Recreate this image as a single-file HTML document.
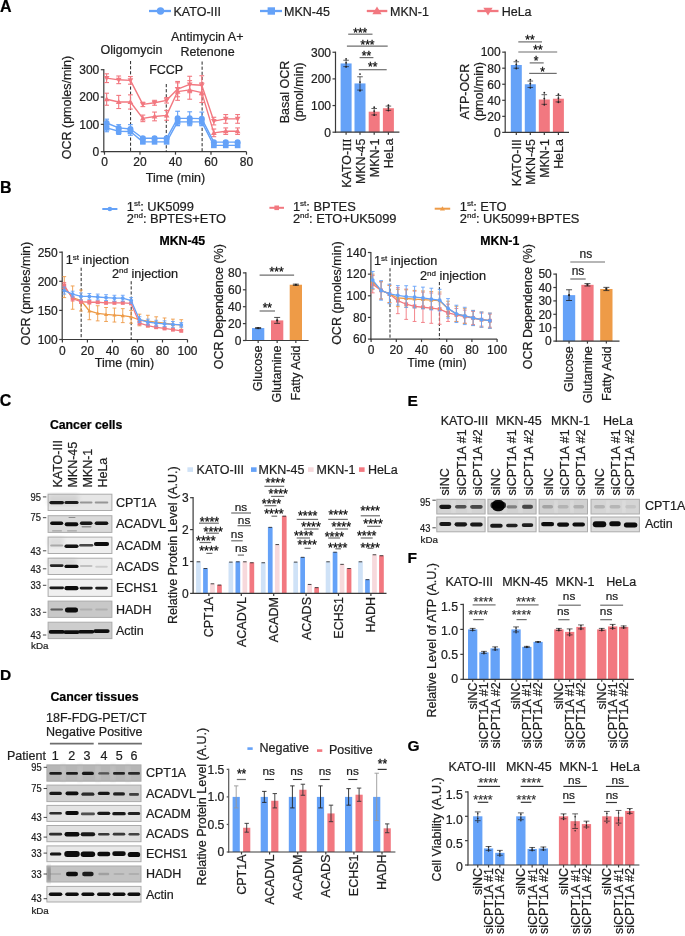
<!DOCTYPE html>
<html><head><meta charset="utf-8"><title>Figure</title>
<style>
html,body{margin:0;padding:0;background:#fff;}
body{width:685px;height:936px;overflow:hidden;}
svg{display:block;will-change:transform;font-family:"Liberation Sans",sans-serif;}
</style></head><body>
<svg width="685" height="936" viewBox="0 0 685 936">
<defs><filter id="bl" x="-30%" y="-150%" width="160%" height="400%"><feGaussianBlur stdDeviation="0.75"/></filter><filter id="bl2" x="-20%" y="-20%" width="140%" height="140%"><feGaussianBlur stdDeviation="2"/></filter></defs>
<rect width="685" height="936" fill="#fff"/>
<text x="0.00" y="12.20" font-size="16" font-weight="bold" fill="#000" stroke="#000" stroke-width="0.22">A</text>
<line x1="149.00" y1="11.00" x2="171.00" y2="11.00" stroke="#65a2f8" stroke-width="2.3"/>
<circle cx="160.50" cy="11.00" r="3.7" fill="#65a2f8"/>
<text x="173.50" y="16.10" font-size="12.5" fill="#1e1e1e" stroke="#1e1e1e" stroke-width="0.22">KATO-III</text>
<line x1="260.00" y1="11.00" x2="282.00" y2="11.00" stroke="#65a2f8" stroke-width="2.3"/>
<rect x="267.60" y="7.30" width="7.40" height="7.40" fill="#65a2f8"/>
<text x="284.00" y="16.10" font-size="12.5" fill="#1e1e1e" stroke="#1e1e1e" stroke-width="0.22">MKN-45</text>
<line x1="366.80" y1="11.00" x2="387.30" y2="11.00" stroke="#f27880" stroke-width="2.3"/>
<path d="M377.00,6.38 L381.62,14.36 L372.38,14.36Z" fill="#f27880"/>
<text x="390.00" y="16.10" font-size="12.5" fill="#1e1e1e" stroke="#1e1e1e" stroke-width="0.22">MKN-1</text>
<line x1="477.30" y1="11.00" x2="498.50" y2="11.00" stroke="#f27880" stroke-width="2.3"/>
<path d="M488.00,15.62 L492.62,7.64 L483.38,7.64Z" fill="#f27880"/>
<text x="501.70" y="16.10" font-size="12.5" fill="#1e1e1e" stroke="#1e1e1e" stroke-width="0.22">HeLa</text>
<line x1="103.80" y1="152.30" x2="103.80" y2="69.11" stroke="#3a3a3a" stroke-width="1.2"/>
<line x1="100.80" y1="151.70" x2="103.80" y2="151.70" stroke="#3a3a3a" stroke-width="1.2"/>
<text x="99.30" y="156.02" font-size="12" text-anchor="end" fill="#1e1e1e" stroke="#1e1e1e" stroke-width="0.22">0</text>
<line x1="100.80" y1="124.37" x2="103.80" y2="124.37" stroke="#3a3a3a" stroke-width="1.2"/>
<text x="99.30" y="128.69" font-size="12" text-anchor="end" fill="#1e1e1e" stroke="#1e1e1e" stroke-width="0.22">100</text>
<line x1="100.80" y1="97.04" x2="103.80" y2="97.04" stroke="#3a3a3a" stroke-width="1.2"/>
<text x="99.30" y="101.36" font-size="12" text-anchor="end" fill="#1e1e1e" stroke="#1e1e1e" stroke-width="0.22">200</text>
<line x1="100.80" y1="69.71" x2="103.80" y2="69.71" stroke="#3a3a3a" stroke-width="1.2"/>
<text x="99.30" y="74.03" font-size="12" text-anchor="end" fill="#1e1e1e" stroke="#1e1e1e" stroke-width="0.22">300</text>
<line x1="103.20" y1="151.70" x2="246.50" y2="151.70" stroke="#3a3a3a" stroke-width="1.2"/>
<line x1="104.50" y1="151.70" x2="104.50" y2="154.70" stroke="#3a3a3a" stroke-width="1.2"/>
<text x="104.50" y="165.50" font-size="12" text-anchor="middle" fill="#1e1e1e" stroke="#1e1e1e" stroke-width="0.22">0</text>
<line x1="140.00" y1="151.70" x2="140.00" y2="154.70" stroke="#3a3a3a" stroke-width="1.2"/>
<text x="140.00" y="165.50" font-size="12" text-anchor="middle" fill="#1e1e1e" stroke="#1e1e1e" stroke-width="0.22">20</text>
<line x1="175.50" y1="151.70" x2="175.50" y2="154.70" stroke="#3a3a3a" stroke-width="1.2"/>
<text x="175.50" y="165.50" font-size="12" text-anchor="middle" fill="#1e1e1e" stroke="#1e1e1e" stroke-width="0.22">40</text>
<line x1="211.00" y1="151.70" x2="211.00" y2="154.70" stroke="#3a3a3a" stroke-width="1.2"/>
<text x="211.00" y="165.50" font-size="12" text-anchor="middle" fill="#1e1e1e" stroke="#1e1e1e" stroke-width="0.22">60</text>
<line x1="246.50" y1="151.70" x2="246.50" y2="154.70" stroke="#3a3a3a" stroke-width="1.2"/>
<text x="246.50" y="165.50" font-size="12" text-anchor="middle" fill="#1e1e1e" stroke="#1e1e1e" stroke-width="0.22">80</text>
<text x="175.50" y="181.80" font-size="12.5" text-anchor="middle" fill="#1e1e1e" stroke="#1e1e1e" stroke-width="0.22">Time (min)</text>
<text transform="translate(71.20,107.50) rotate(-90)" font-size="12.5" text-anchor="middle" fill="#1e1e1e" stroke="#1e1e1e" stroke-width="0.22">OCR (pmoles/min)</text>
<line x1="130.59" y1="61.00" x2="130.59" y2="151.70" stroke="#111" stroke-width="0.9" stroke-dasharray="3.2,1.9"/>
<line x1="166.27" y1="84.00" x2="166.27" y2="151.70" stroke="#111" stroke-width="0.9" stroke-dasharray="3.2,1.9"/>
<line x1="202.12" y1="61.50" x2="202.12" y2="151.70" stroke="#111" stroke-width="0.9" stroke-dasharray="3.2,1.9"/>
<text x="131.50" y="54.20" font-size="12.5" text-anchor="middle" fill="#1e1e1e" stroke="#1e1e1e" stroke-width="0.22">Oligomycin</text>
<text x="166.20" y="74.20" font-size="12.5" text-anchor="middle" fill="#1e1e1e" stroke="#1e1e1e" stroke-width="0.22">FCCP</text>
<text x="207.20" y="41.00" font-size="12.5" text-anchor="middle" fill="#1e1e1e" stroke="#1e1e1e" stroke-width="0.22">Antimycin A+</text>
<text x="207.50" y="56.00" font-size="12.5" text-anchor="middle" fill="#1e1e1e" stroke="#1e1e1e" stroke-width="0.22">Retenone</text>
<line x1="106.63" y1="93.21" x2="106.63" y2="105.24" stroke="#f27880" stroke-width="1.1"/>
<line x1="104.23" y1="93.21" x2="109.03" y2="93.21" stroke="#f27880" stroke-width="1.1"/>
<line x1="104.23" y1="105.24" x2="109.03" y2="105.24" stroke="#f27880" stroke-width="1.1"/>
<line x1="118.70" y1="95.40" x2="118.70" y2="108.52" stroke="#f27880" stroke-width="1.1"/>
<line x1="116.30" y1="95.40" x2="121.10" y2="95.40" stroke="#f27880" stroke-width="1.1"/>
<line x1="116.30" y1="108.52" x2="121.10" y2="108.52" stroke="#f27880" stroke-width="1.1"/>
<line x1="130.41" y1="94.85" x2="130.41" y2="109.07" stroke="#f27880" stroke-width="1.1"/>
<line x1="128.01" y1="94.85" x2="132.81" y2="94.85" stroke="#f27880" stroke-width="1.1"/>
<line x1="128.01" y1="109.07" x2="132.81" y2="109.07" stroke="#f27880" stroke-width="1.1"/>
<line x1="142.84" y1="115.08" x2="142.84" y2="121.64" stroke="#f27880" stroke-width="1.1"/>
<line x1="140.44" y1="115.08" x2="145.24" y2="115.08" stroke="#f27880" stroke-width="1.1"/>
<line x1="140.44" y1="121.64" x2="145.24" y2="121.64" stroke="#f27880" stroke-width="1.1"/>
<line x1="154.56" y1="112.07" x2="154.56" y2="120.82" stroke="#f27880" stroke-width="1.1"/>
<line x1="152.16" y1="112.07" x2="156.96" y2="112.07" stroke="#f27880" stroke-width="1.1"/>
<line x1="152.16" y1="120.82" x2="156.96" y2="120.82" stroke="#f27880" stroke-width="1.1"/>
<line x1="166.62" y1="110.43" x2="166.62" y2="120.27" stroke="#f27880" stroke-width="1.1"/>
<line x1="164.22" y1="110.43" x2="169.03" y2="110.43" stroke="#f27880" stroke-width="1.1"/>
<line x1="164.22" y1="120.27" x2="169.03" y2="120.27" stroke="#f27880" stroke-width="1.1"/>
<line x1="177.63" y1="82.83" x2="177.63" y2="100.32" stroke="#f27880" stroke-width="1.1"/>
<line x1="175.23" y1="82.83" x2="180.03" y2="82.83" stroke="#f27880" stroke-width="1.1"/>
<line x1="175.23" y1="100.32" x2="180.03" y2="100.32" stroke="#f27880" stroke-width="1.1"/>
<line x1="189.70" y1="80.64" x2="189.70" y2="99.23" stroke="#f27880" stroke-width="1.1"/>
<line x1="187.30" y1="80.64" x2="192.10" y2="80.64" stroke="#f27880" stroke-width="1.1"/>
<line x1="187.30" y1="99.23" x2="192.10" y2="99.23" stroke="#f27880" stroke-width="1.1"/>
<line x1="201.77" y1="82.83" x2="201.77" y2="102.51" stroke="#f27880" stroke-width="1.1"/>
<line x1="199.37" y1="82.83" x2="204.17" y2="82.83" stroke="#f27880" stroke-width="1.1"/>
<line x1="199.37" y1="102.51" x2="204.17" y2="102.51" stroke="#f27880" stroke-width="1.1"/>
<line x1="213.84" y1="129.02" x2="213.84" y2="136.67" stroke="#f27880" stroke-width="1.1"/>
<line x1="211.44" y1="129.02" x2="216.24" y2="129.02" stroke="#f27880" stroke-width="1.1"/>
<line x1="211.44" y1="136.67" x2="216.24" y2="136.67" stroke="#f27880" stroke-width="1.1"/>
<line x1="225.73" y1="127.92" x2="225.73" y2="134.48" stroke="#f27880" stroke-width="1.1"/>
<line x1="223.33" y1="127.92" x2="228.13" y2="127.92" stroke="#f27880" stroke-width="1.1"/>
<line x1="223.33" y1="134.48" x2="228.13" y2="134.48" stroke="#f27880" stroke-width="1.1"/>
<line x1="237.62" y1="127.92" x2="237.62" y2="134.48" stroke="#f27880" stroke-width="1.1"/>
<line x1="235.22" y1="127.92" x2="240.03" y2="127.92" stroke="#f27880" stroke-width="1.1"/>
<line x1="235.22" y1="134.48" x2="240.03" y2="134.48" stroke="#f27880" stroke-width="1.1"/>
<polyline points="106.63,99.23 118.70,101.96 130.41,101.96 142.84,118.36 154.56,116.44 166.62,115.35 177.63,91.57 189.70,89.93 201.77,92.67 213.84,132.84 225.73,131.20 237.62,131.20" fill="none" stroke="#f27880" stroke-width="1.4" stroke-linejoin="round"/>
<path d="M106.63,96.37 L109.49,101.31 L103.77,101.31Z" fill="#f27880"/>
<path d="M118.70,99.10 L121.56,104.04 L115.84,104.04Z" fill="#f27880"/>
<path d="M130.41,99.10 L133.28,104.04 L127.55,104.04Z" fill="#f27880"/>
<path d="M142.84,115.50 L145.70,120.44 L139.98,120.44Z" fill="#f27880"/>
<path d="M154.56,113.58 L157.42,118.52 L151.69,118.52Z" fill="#f27880"/>
<path d="M166.62,112.49 L169.49,117.43 L163.76,117.43Z" fill="#f27880"/>
<path d="M177.63,88.71 L180.49,93.65 L174.77,93.65Z" fill="#f27880"/>
<path d="M189.70,87.07 L192.56,92.01 L186.84,92.01Z" fill="#f27880"/>
<path d="M201.77,89.81 L204.63,94.75 L198.91,94.75Z" fill="#f27880"/>
<path d="M213.84,129.98 L216.70,134.92 L210.98,134.92Z" fill="#f27880"/>
<path d="M225.73,128.34 L228.59,133.28 L222.87,133.28Z" fill="#f27880"/>
<path d="M237.62,128.34 L240.49,133.28 L234.76,133.28Z" fill="#f27880"/>
<line x1="106.63" y1="73.81" x2="106.63" y2="82.56" stroke="#f27880" stroke-width="1.1"/>
<line x1="104.23" y1="73.81" x2="109.03" y2="73.81" stroke="#f27880" stroke-width="1.1"/>
<line x1="104.23" y1="82.56" x2="109.03" y2="82.56" stroke="#f27880" stroke-width="1.1"/>
<line x1="118.70" y1="76.00" x2="118.70" y2="83.65" stroke="#f27880" stroke-width="1.1"/>
<line x1="116.30" y1="76.00" x2="121.10" y2="76.00" stroke="#f27880" stroke-width="1.1"/>
<line x1="116.30" y1="83.65" x2="121.10" y2="83.65" stroke="#f27880" stroke-width="1.1"/>
<line x1="130.41" y1="76.54" x2="130.41" y2="84.19" stroke="#f27880" stroke-width="1.1"/>
<line x1="128.01" y1="76.54" x2="132.81" y2="76.54" stroke="#f27880" stroke-width="1.1"/>
<line x1="128.01" y1="84.19" x2="132.81" y2="84.19" stroke="#f27880" stroke-width="1.1"/>
<line x1="142.84" y1="102.23" x2="142.84" y2="106.61" stroke="#f27880" stroke-width="1.1"/>
<line x1="140.44" y1="102.23" x2="145.24" y2="102.23" stroke="#f27880" stroke-width="1.1"/>
<line x1="140.44" y1="106.61" x2="145.24" y2="106.61" stroke="#f27880" stroke-width="1.1"/>
<line x1="154.56" y1="100.32" x2="154.56" y2="105.24" stroke="#f27880" stroke-width="1.1"/>
<line x1="152.16" y1="100.32" x2="156.96" y2="100.32" stroke="#f27880" stroke-width="1.1"/>
<line x1="152.16" y1="105.24" x2="156.96" y2="105.24" stroke="#f27880" stroke-width="1.1"/>
<line x1="166.62" y1="97.59" x2="166.62" y2="103.05" stroke="#f27880" stroke-width="1.1"/>
<line x1="164.22" y1="97.59" x2="169.03" y2="97.59" stroke="#f27880" stroke-width="1.1"/>
<line x1="164.22" y1="103.05" x2="169.03" y2="103.05" stroke="#f27880" stroke-width="1.1"/>
<line x1="177.63" y1="81.46" x2="177.63" y2="96.77" stroke="#f27880" stroke-width="1.1"/>
<line x1="175.23" y1="81.46" x2="180.03" y2="81.46" stroke="#f27880" stroke-width="1.1"/>
<line x1="175.23" y1="96.77" x2="180.03" y2="96.77" stroke="#f27880" stroke-width="1.1"/>
<line x1="189.70" y1="76.27" x2="189.70" y2="92.67" stroke="#f27880" stroke-width="1.1"/>
<line x1="187.30" y1="76.27" x2="192.10" y2="76.27" stroke="#f27880" stroke-width="1.1"/>
<line x1="187.30" y1="92.67" x2="192.10" y2="92.67" stroke="#f27880" stroke-width="1.1"/>
<line x1="201.77" y1="75.72" x2="201.77" y2="94.85" stroke="#f27880" stroke-width="1.1"/>
<line x1="199.37" y1="75.72" x2="204.17" y2="75.72" stroke="#f27880" stroke-width="1.1"/>
<line x1="199.37" y1="94.85" x2="204.17" y2="94.85" stroke="#f27880" stroke-width="1.1"/>
<line x1="213.84" y1="117.26" x2="213.84" y2="124.92" stroke="#f27880" stroke-width="1.1"/>
<line x1="211.44" y1="117.26" x2="216.24" y2="117.26" stroke="#f27880" stroke-width="1.1"/>
<line x1="211.44" y1="124.92" x2="216.24" y2="124.92" stroke="#f27880" stroke-width="1.1"/>
<line x1="225.73" y1="114.53" x2="225.73" y2="123.28" stroke="#f27880" stroke-width="1.1"/>
<line x1="223.33" y1="114.53" x2="228.13" y2="114.53" stroke="#f27880" stroke-width="1.1"/>
<line x1="223.33" y1="123.28" x2="228.13" y2="123.28" stroke="#f27880" stroke-width="1.1"/>
<line x1="237.62" y1="114.53" x2="237.62" y2="123.28" stroke="#f27880" stroke-width="1.1"/>
<line x1="235.22" y1="114.53" x2="240.03" y2="114.53" stroke="#f27880" stroke-width="1.1"/>
<line x1="235.22" y1="123.28" x2="240.03" y2="123.28" stroke="#f27880" stroke-width="1.1"/>
<polyline points="106.63,78.18 118.70,79.82 130.41,80.37 142.84,104.42 154.56,102.78 166.62,100.32 177.63,89.11 189.70,84.47 201.77,85.29 213.84,121.09 225.73,118.90 237.62,118.90" fill="none" stroke="#f27880" stroke-width="1.4" stroke-linejoin="round"/>
<path d="M106.63,81.04 L109.49,76.10 L103.77,76.10Z" fill="#f27880"/>
<path d="M118.70,82.68 L121.56,77.74 L115.84,77.74Z" fill="#f27880"/>
<path d="M130.41,83.23 L133.28,78.29 L127.55,78.29Z" fill="#f27880"/>
<path d="M142.84,107.28 L145.70,102.34 L139.98,102.34Z" fill="#f27880"/>
<path d="M154.56,105.64 L157.42,100.70 L151.69,100.70Z" fill="#f27880"/>
<path d="M166.62,103.18 L169.49,98.24 L163.76,98.24Z" fill="#f27880"/>
<path d="M177.63,91.97 L180.49,87.03 L174.77,87.03Z" fill="#f27880"/>
<path d="M189.70,87.33 L192.56,82.39 L186.84,82.39Z" fill="#f27880"/>
<path d="M201.77,88.15 L204.63,83.21 L198.91,83.21Z" fill="#f27880"/>
<path d="M213.84,123.95 L216.70,119.01 L210.98,119.01Z" fill="#f27880"/>
<path d="M225.73,121.76 L228.59,116.82 L222.87,116.82Z" fill="#f27880"/>
<path d="M237.62,121.76 L240.49,116.82 L234.76,116.82Z" fill="#f27880"/>
<line x1="106.63" y1="119.18" x2="106.63" y2="126.83" stroke="#65a2f8" stroke-width="1.1"/>
<line x1="104.23" y1="119.18" x2="109.03" y2="119.18" stroke="#65a2f8" stroke-width="1.1"/>
<line x1="104.23" y1="126.83" x2="109.03" y2="126.83" stroke="#65a2f8" stroke-width="1.1"/>
<line x1="118.70" y1="124.64" x2="118.70" y2="131.20" stroke="#65a2f8" stroke-width="1.1"/>
<line x1="116.30" y1="124.64" x2="121.10" y2="124.64" stroke="#65a2f8" stroke-width="1.1"/>
<line x1="116.30" y1="131.20" x2="121.10" y2="131.20" stroke="#65a2f8" stroke-width="1.1"/>
<line x1="130.41" y1="124.64" x2="130.41" y2="133.39" stroke="#65a2f8" stroke-width="1.1"/>
<line x1="128.01" y1="124.64" x2="132.81" y2="124.64" stroke="#65a2f8" stroke-width="1.1"/>
<line x1="128.01" y1="133.39" x2="132.81" y2="133.39" stroke="#65a2f8" stroke-width="1.1"/>
<line x1="142.84" y1="136.67" x2="142.84" y2="139.95" stroke="#65a2f8" stroke-width="1.1"/>
<line x1="140.44" y1="136.67" x2="145.24" y2="136.67" stroke="#65a2f8" stroke-width="1.1"/>
<line x1="140.44" y1="139.95" x2="145.24" y2="139.95" stroke="#65a2f8" stroke-width="1.1"/>
<line x1="154.56" y1="136.67" x2="154.56" y2="139.95" stroke="#65a2f8" stroke-width="1.1"/>
<line x1="152.16" y1="136.67" x2="156.96" y2="136.67" stroke="#65a2f8" stroke-width="1.1"/>
<line x1="152.16" y1="139.95" x2="156.96" y2="139.95" stroke="#65a2f8" stroke-width="1.1"/>
<line x1="166.62" y1="136.67" x2="166.62" y2="139.95" stroke="#65a2f8" stroke-width="1.1"/>
<line x1="164.22" y1="136.67" x2="169.03" y2="136.67" stroke="#65a2f8" stroke-width="1.1"/>
<line x1="164.22" y1="139.95" x2="169.03" y2="139.95" stroke="#65a2f8" stroke-width="1.1"/>
<line x1="177.63" y1="111.25" x2="177.63" y2="125.46" stroke="#65a2f8" stroke-width="1.1"/>
<line x1="175.23" y1="111.25" x2="180.03" y2="111.25" stroke="#65a2f8" stroke-width="1.1"/>
<line x1="175.23" y1="125.46" x2="180.03" y2="125.46" stroke="#65a2f8" stroke-width="1.1"/>
<line x1="189.70" y1="111.80" x2="189.70" y2="124.92" stroke="#65a2f8" stroke-width="1.1"/>
<line x1="187.30" y1="111.80" x2="192.10" y2="111.80" stroke="#65a2f8" stroke-width="1.1"/>
<line x1="187.30" y1="124.92" x2="192.10" y2="124.92" stroke="#65a2f8" stroke-width="1.1"/>
<line x1="201.77" y1="112.07" x2="201.77" y2="125.19" stroke="#65a2f8" stroke-width="1.1"/>
<line x1="199.37" y1="112.07" x2="204.17" y2="112.07" stroke="#65a2f8" stroke-width="1.1"/>
<line x1="199.37" y1="125.19" x2="204.17" y2="125.19" stroke="#65a2f8" stroke-width="1.1"/>
<line x1="213.84" y1="140.49" x2="213.84" y2="143.77" stroke="#65a2f8" stroke-width="1.1"/>
<line x1="211.44" y1="140.49" x2="216.24" y2="140.49" stroke="#65a2f8" stroke-width="1.1"/>
<line x1="211.44" y1="143.77" x2="216.24" y2="143.77" stroke="#65a2f8" stroke-width="1.1"/>
<line x1="225.73" y1="140.77" x2="225.73" y2="143.50" stroke="#65a2f8" stroke-width="1.1"/>
<line x1="223.33" y1="140.77" x2="228.13" y2="140.77" stroke="#65a2f8" stroke-width="1.1"/>
<line x1="223.33" y1="143.50" x2="228.13" y2="143.50" stroke="#65a2f8" stroke-width="1.1"/>
<line x1="237.62" y1="140.77" x2="237.62" y2="143.50" stroke="#65a2f8" stroke-width="1.1"/>
<line x1="235.22" y1="140.77" x2="240.03" y2="140.77" stroke="#65a2f8" stroke-width="1.1"/>
<line x1="235.22" y1="143.50" x2="240.03" y2="143.50" stroke="#65a2f8" stroke-width="1.1"/>
<polyline points="106.63,123.00 118.70,127.92 130.41,129.02 142.84,138.31 154.56,138.31 166.62,138.31 177.63,118.36 189.70,118.36 201.77,118.63 213.84,142.13 225.73,142.13 237.62,142.13" fill="none" stroke="#65a2f8" stroke-width="1.4" stroke-linejoin="round"/>
<circle cx="106.63" cy="123.00" r="3.0" fill="#65a2f8"/>
<circle cx="118.70" cy="127.92" r="3.0" fill="#65a2f8"/>
<circle cx="130.41" cy="129.02" r="3.0" fill="#65a2f8"/>
<circle cx="142.84" cy="138.31" r="3.0" fill="#65a2f8"/>
<circle cx="154.56" cy="138.31" r="3.0" fill="#65a2f8"/>
<circle cx="166.62" cy="138.31" r="3.0" fill="#65a2f8"/>
<circle cx="177.63" cy="118.36" r="3.0" fill="#65a2f8"/>
<circle cx="189.70" cy="118.36" r="3.0" fill="#65a2f8"/>
<circle cx="201.77" cy="118.63" r="3.0" fill="#65a2f8"/>
<circle cx="213.84" cy="142.13" r="3.0" fill="#65a2f8"/>
<circle cx="225.73" cy="142.13" r="3.0" fill="#65a2f8"/>
<circle cx="237.62" cy="142.13" r="3.0" fill="#65a2f8"/>
<line x1="106.63" y1="124.10" x2="106.63" y2="131.75" stroke="#65a2f8" stroke-width="1.1"/>
<line x1="104.23" y1="124.10" x2="109.03" y2="124.10" stroke="#65a2f8" stroke-width="1.1"/>
<line x1="104.23" y1="131.75" x2="109.03" y2="131.75" stroke="#65a2f8" stroke-width="1.1"/>
<line x1="118.70" y1="127.92" x2="118.70" y2="134.48" stroke="#65a2f8" stroke-width="1.1"/>
<line x1="116.30" y1="127.92" x2="121.10" y2="127.92" stroke="#65a2f8" stroke-width="1.1"/>
<line x1="116.30" y1="134.48" x2="121.10" y2="134.48" stroke="#65a2f8" stroke-width="1.1"/>
<line x1="130.41" y1="127.65" x2="130.41" y2="135.30" stroke="#65a2f8" stroke-width="1.1"/>
<line x1="128.01" y1="127.65" x2="132.81" y2="127.65" stroke="#65a2f8" stroke-width="1.1"/>
<line x1="128.01" y1="135.30" x2="132.81" y2="135.30" stroke="#65a2f8" stroke-width="1.1"/>
<line x1="142.84" y1="140.22" x2="142.84" y2="143.50" stroke="#65a2f8" stroke-width="1.1"/>
<line x1="140.44" y1="140.22" x2="145.24" y2="140.22" stroke="#65a2f8" stroke-width="1.1"/>
<line x1="140.44" y1="143.50" x2="145.24" y2="143.50" stroke="#65a2f8" stroke-width="1.1"/>
<line x1="154.56" y1="140.22" x2="154.56" y2="143.50" stroke="#65a2f8" stroke-width="1.1"/>
<line x1="152.16" y1="140.22" x2="156.96" y2="140.22" stroke="#65a2f8" stroke-width="1.1"/>
<line x1="152.16" y1="143.50" x2="156.96" y2="143.50" stroke="#65a2f8" stroke-width="1.1"/>
<line x1="166.62" y1="140.22" x2="166.62" y2="143.50" stroke="#65a2f8" stroke-width="1.1"/>
<line x1="164.22" y1="140.22" x2="169.03" y2="140.22" stroke="#65a2f8" stroke-width="1.1"/>
<line x1="164.22" y1="143.50" x2="169.03" y2="143.50" stroke="#65a2f8" stroke-width="1.1"/>
<line x1="177.63" y1="118.08" x2="177.63" y2="125.74" stroke="#65a2f8" stroke-width="1.1"/>
<line x1="175.23" y1="118.08" x2="180.03" y2="118.08" stroke="#65a2f8" stroke-width="1.1"/>
<line x1="175.23" y1="125.74" x2="180.03" y2="125.74" stroke="#65a2f8" stroke-width="1.1"/>
<line x1="189.70" y1="118.08" x2="189.70" y2="125.74" stroke="#65a2f8" stroke-width="1.1"/>
<line x1="187.30" y1="118.08" x2="192.10" y2="118.08" stroke="#65a2f8" stroke-width="1.1"/>
<line x1="187.30" y1="125.74" x2="192.10" y2="125.74" stroke="#65a2f8" stroke-width="1.1"/>
<line x1="201.77" y1="118.08" x2="201.77" y2="125.74" stroke="#65a2f8" stroke-width="1.1"/>
<line x1="199.37" y1="118.08" x2="204.17" y2="118.08" stroke="#65a2f8" stroke-width="1.1"/>
<line x1="199.37" y1="125.74" x2="204.17" y2="125.74" stroke="#65a2f8" stroke-width="1.1"/>
<line x1="213.84" y1="144.05" x2="213.84" y2="146.78" stroke="#65a2f8" stroke-width="1.1"/>
<line x1="211.44" y1="144.05" x2="216.24" y2="144.05" stroke="#65a2f8" stroke-width="1.1"/>
<line x1="211.44" y1="146.78" x2="216.24" y2="146.78" stroke="#65a2f8" stroke-width="1.1"/>
<line x1="225.73" y1="144.05" x2="225.73" y2="146.78" stroke="#65a2f8" stroke-width="1.1"/>
<line x1="223.33" y1="144.05" x2="228.13" y2="144.05" stroke="#65a2f8" stroke-width="1.1"/>
<line x1="223.33" y1="146.78" x2="228.13" y2="146.78" stroke="#65a2f8" stroke-width="1.1"/>
<line x1="237.62" y1="144.05" x2="237.62" y2="146.78" stroke="#65a2f8" stroke-width="1.1"/>
<line x1="235.22" y1="144.05" x2="240.03" y2="144.05" stroke="#65a2f8" stroke-width="1.1"/>
<line x1="235.22" y1="146.78" x2="240.03" y2="146.78" stroke="#65a2f8" stroke-width="1.1"/>
<polyline points="106.63,127.92 118.70,131.20 130.41,131.48 142.84,141.86 154.56,141.86 166.62,141.86 177.63,121.91 189.70,121.91 201.77,121.91 213.84,145.41 225.73,145.41 237.62,145.41" fill="none" stroke="#65a2f8" stroke-width="1.4" stroke-linejoin="round"/>
<rect x="103.83" y="125.12" width="5.60" height="5.60" fill="#65a2f8"/>
<rect x="115.90" y="128.40" width="5.60" height="5.60" fill="#65a2f8"/>
<rect x="127.61" y="128.68" width="5.60" height="5.60" fill="#65a2f8"/>
<rect x="140.04" y="139.06" width="5.60" height="5.60" fill="#65a2f8"/>
<rect x="151.75" y="139.06" width="5.60" height="5.60" fill="#65a2f8"/>
<rect x="163.82" y="139.06" width="5.60" height="5.60" fill="#65a2f8"/>
<rect x="174.83" y="119.11" width="5.60" height="5.60" fill="#65a2f8"/>
<rect x="186.90" y="119.11" width="5.60" height="5.60" fill="#65a2f8"/>
<rect x="198.97" y="119.11" width="5.60" height="5.60" fill="#65a2f8"/>
<rect x="211.04" y="142.61" width="5.60" height="5.60" fill="#65a2f8"/>
<rect x="222.93" y="142.61" width="5.60" height="5.60" fill="#65a2f8"/>
<rect x="234.82" y="142.61" width="5.60" height="5.60" fill="#65a2f8"/>
<rect x="340.60" y="63.44" width="11.00" height="68.76" fill="#65a2f8"/>
<rect x="354.50" y="83.43" width="11.00" height="48.77" fill="#65a2f8"/>
<rect x="368.70" y="111.68" width="11.00" height="20.52" fill="#f27880"/>
<rect x="382.90" y="108.21" width="11.00" height="23.98" fill="#f27880"/>
<line x1="346.10" y1="60.24" x2="346.10" y2="66.64" stroke="#222" stroke-width="0.7"/>
<line x1="343.30" y1="60.24" x2="348.90" y2="60.24" stroke="#222" stroke-width="0.7"/>
<line x1="343.30" y1="66.64" x2="348.90" y2="66.64" stroke="#222" stroke-width="0.7"/>
<circle cx="346.10" cy="58.97" r="0.9" fill="#222"/>
<circle cx="346.10" cy="66.96" r="0.9" fill="#222"/>
<circle cx="346.10" cy="62.80" r="0.9" fill="#222"/>
<line x1="360.00" y1="76.77" x2="360.00" y2="90.09" stroke="#222" stroke-width="0.7"/>
<line x1="357.20" y1="76.77" x2="362.80" y2="76.77" stroke="#222" stroke-width="0.7"/>
<line x1="357.20" y1="90.09" x2="362.80" y2="90.09" stroke="#222" stroke-width="0.7"/>
<circle cx="360.00" cy="74.10" r="0.9" fill="#222"/>
<circle cx="360.00" cy="90.76" r="0.9" fill="#222"/>
<circle cx="360.00" cy="82.10" r="0.9" fill="#222"/>
<line x1="374.20" y1="108.48" x2="374.20" y2="114.88" stroke="#222" stroke-width="0.7"/>
<line x1="371.40" y1="108.48" x2="377.00" y2="108.48" stroke="#222" stroke-width="0.7"/>
<line x1="371.40" y1="114.88" x2="377.00" y2="114.88" stroke="#222" stroke-width="0.7"/>
<circle cx="374.20" cy="107.20" r="0.9" fill="#222"/>
<circle cx="374.20" cy="115.20" r="0.9" fill="#222"/>
<circle cx="374.20" cy="111.04" r="0.9" fill="#222"/>
<line x1="388.40" y1="106.08" x2="388.40" y2="110.35" stroke="#222" stroke-width="0.7"/>
<line x1="385.60" y1="106.08" x2="391.20" y2="106.08" stroke="#222" stroke-width="0.7"/>
<line x1="385.60" y1="110.35" x2="391.20" y2="110.35" stroke="#222" stroke-width="0.7"/>
<circle cx="388.40" cy="105.23" r="0.9" fill="#222"/>
<circle cx="388.40" cy="110.56" r="0.9" fill="#222"/>
<circle cx="388.40" cy="107.79" r="0.9" fill="#222"/>
<line x1="335.50" y1="132.80" x2="335.50" y2="51.65" stroke="#3a3a3a" stroke-width="1.2"/>
<line x1="332.50" y1="132.20" x2="335.50" y2="132.20" stroke="#3a3a3a" stroke-width="1.2"/>
<text x="331.00" y="136.52" font-size="12" text-anchor="end" fill="#1e1e1e" stroke="#1e1e1e" stroke-width="0.22">0</text>
<line x1="332.50" y1="105.55" x2="335.50" y2="105.55" stroke="#3a3a3a" stroke-width="1.2"/>
<text x="331.00" y="109.87" font-size="12" text-anchor="end" fill="#1e1e1e" stroke="#1e1e1e" stroke-width="0.22">100</text>
<line x1="332.50" y1="78.90" x2="335.50" y2="78.90" stroke="#3a3a3a" stroke-width="1.2"/>
<text x="331.00" y="83.22" font-size="12" text-anchor="end" fill="#1e1e1e" stroke="#1e1e1e" stroke-width="0.22">200</text>
<line x1="332.50" y1="52.25" x2="335.50" y2="52.25" stroke="#3a3a3a" stroke-width="1.2"/>
<text x="331.00" y="56.57" font-size="12" text-anchor="end" fill="#1e1e1e" stroke="#1e1e1e" stroke-width="0.22">300</text>
<line x1="334.90" y1="132.20" x2="399.40" y2="132.20" stroke="#3a3a3a" stroke-width="1.2"/>
<line x1="346.10" y1="132.20" x2="346.10" y2="134.70" stroke="#3a3a3a" stroke-width="1.2"/>
<line x1="360.00" y1="132.20" x2="360.00" y2="134.70" stroke="#3a3a3a" stroke-width="1.2"/>
<line x1="374.20" y1="132.20" x2="374.20" y2="134.70" stroke="#3a3a3a" stroke-width="1.2"/>
<line x1="388.40" y1="132.20" x2="388.40" y2="134.70" stroke="#3a3a3a" stroke-width="1.2"/>
<text transform="translate(350.60,138.60) rotate(-90)" font-size="12.4" text-anchor="end" fill="#1e1e1e" stroke="#1e1e1e" stroke-width="0.22">KATO-<tspan font-family="Liberation Serif">III</tspan></text>
<text transform="translate(364.50,138.60) rotate(-90)" font-size="12.4" text-anchor="end" fill="#1e1e1e" stroke="#1e1e1e" stroke-width="0.22">MKN-45</text>
<text transform="translate(378.70,138.60) rotate(-90)" font-size="12.4" text-anchor="end" fill="#1e1e1e" stroke="#1e1e1e" stroke-width="0.22">MKN-1</text>
<text transform="translate(392.90,138.60) rotate(-90)" font-size="12.4" text-anchor="end" fill="#1e1e1e" stroke="#1e1e1e" stroke-width="0.22">HeLa</text>
<text transform="translate(289.20,92.00) rotate(-90)" font-size="12.5" text-anchor="middle" fill="#1e1e1e" stroke="#1e1e1e" stroke-width="0.22">Basal OCR</text>
<text transform="translate(302.80,92.00) rotate(-90)" font-size="12.5" text-anchor="middle" fill="#1e1e1e" stroke="#1e1e1e" stroke-width="0.22">(pmol/min)</text>
<line x1="348.20" y1="34.20" x2="372.50" y2="34.20" stroke="#6e6e6e" stroke-width="1.2"/>
<text x="360.30" y="36.52" font-size="12.0" text-anchor="middle" fill="#111" stroke="#111" stroke-width="0.3">***</text>
<line x1="346.90" y1="46.20" x2="387.70" y2="46.20" stroke="#6e6e6e" stroke-width="1.2"/>
<text x="367.50" y="48.52" font-size="12.0" text-anchor="middle" fill="#111" stroke="#111" stroke-width="0.3">***</text>
<line x1="359.60" y1="57.60" x2="373.40" y2="57.60" stroke="#6e6e6e" stroke-width="1.2"/>
<text x="366.50" y="59.72" font-size="12.0" text-anchor="middle" fill="#111" stroke="#111" stroke-width="0.3">**</text>
<line x1="358.80" y1="69.70" x2="386.70" y2="69.70" stroke="#6e6e6e" stroke-width="1.2"/>
<text x="372.70" y="71.32" font-size="12.0" text-anchor="middle" fill="#111" stroke="#111" stroke-width="0.3">**</text>
<rect x="510.80" y="64.99" width="11.00" height="67.41" fill="#65a2f8"/>
<rect x="524.80" y="84.25" width="11.00" height="48.15" fill="#65a2f8"/>
<rect x="538.80" y="99.50" width="11.00" height="32.90" fill="#f27880"/>
<rect x="552.90" y="98.70" width="11.00" height="33.70" fill="#f27880"/>
<line x1="516.30" y1="61.78" x2="516.30" y2="68.20" stroke="#222" stroke-width="0.7"/>
<line x1="513.50" y1="61.78" x2="519.10" y2="61.78" stroke="#222" stroke-width="0.7"/>
<line x1="513.50" y1="68.20" x2="519.10" y2="68.20" stroke="#222" stroke-width="0.7"/>
<circle cx="516.30" cy="60.50" r="0.9" fill="#222"/>
<circle cx="516.30" cy="68.52" r="0.9" fill="#222"/>
<circle cx="516.30" cy="64.35" r="0.9" fill="#222"/>
<line x1="530.30" y1="81.04" x2="530.30" y2="87.46" stroke="#222" stroke-width="0.7"/>
<line x1="527.50" y1="81.04" x2="533.10" y2="81.04" stroke="#222" stroke-width="0.7"/>
<line x1="527.50" y1="87.46" x2="533.10" y2="87.46" stroke="#222" stroke-width="0.7"/>
<circle cx="530.30" cy="79.76" r="0.9" fill="#222"/>
<circle cx="530.30" cy="87.78" r="0.9" fill="#222"/>
<circle cx="530.30" cy="83.61" r="0.9" fill="#222"/>
<line x1="544.30" y1="94.68" x2="544.30" y2="104.31" stroke="#222" stroke-width="0.7"/>
<line x1="541.50" y1="94.68" x2="547.10" y2="94.68" stroke="#222" stroke-width="0.7"/>
<line x1="541.50" y1="104.31" x2="547.10" y2="104.31" stroke="#222" stroke-width="0.7"/>
<circle cx="544.30" cy="92.76" r="0.9" fill="#222"/>
<circle cx="544.30" cy="104.79" r="0.9" fill="#222"/>
<circle cx="544.30" cy="98.53" r="0.9" fill="#222"/>
<line x1="558.40" y1="95.49" x2="558.40" y2="101.91" stroke="#222" stroke-width="0.7"/>
<line x1="555.60" y1="95.49" x2="561.20" y2="95.49" stroke="#222" stroke-width="0.7"/>
<line x1="555.60" y1="101.91" x2="561.20" y2="101.91" stroke="#222" stroke-width="0.7"/>
<circle cx="558.40" cy="94.20" r="0.9" fill="#222"/>
<circle cx="558.40" cy="102.23" r="0.9" fill="#222"/>
<circle cx="558.40" cy="98.05" r="0.9" fill="#222"/>
<line x1="505.20" y1="133.00" x2="505.20" y2="51.55" stroke="#3a3a3a" stroke-width="1.2"/>
<line x1="502.20" y1="132.40" x2="505.20" y2="132.40" stroke="#3a3a3a" stroke-width="1.2"/>
<text x="500.70" y="136.72" font-size="12" text-anchor="end" fill="#1e1e1e" stroke="#1e1e1e" stroke-width="0.22">0</text>
<line x1="502.20" y1="116.35" x2="505.20" y2="116.35" stroke="#3a3a3a" stroke-width="1.2"/>
<text x="500.70" y="120.67" font-size="12" text-anchor="end" fill="#1e1e1e" stroke="#1e1e1e" stroke-width="0.22">20</text>
<line x1="502.20" y1="100.30" x2="505.20" y2="100.30" stroke="#3a3a3a" stroke-width="1.2"/>
<text x="500.70" y="104.62" font-size="12" text-anchor="end" fill="#1e1e1e" stroke="#1e1e1e" stroke-width="0.22">40</text>
<line x1="502.20" y1="84.25" x2="505.20" y2="84.25" stroke="#3a3a3a" stroke-width="1.2"/>
<text x="500.70" y="88.57" font-size="12" text-anchor="end" fill="#1e1e1e" stroke="#1e1e1e" stroke-width="0.22">60</text>
<line x1="502.20" y1="68.20" x2="505.20" y2="68.20" stroke="#3a3a3a" stroke-width="1.2"/>
<text x="500.70" y="72.52" font-size="12" text-anchor="end" fill="#1e1e1e" stroke="#1e1e1e" stroke-width="0.22">80</text>
<line x1="502.20" y1="52.15" x2="505.20" y2="52.15" stroke="#3a3a3a" stroke-width="1.2"/>
<text x="500.70" y="56.47" font-size="12" text-anchor="end" fill="#1e1e1e" stroke="#1e1e1e" stroke-width="0.22">100</text>
<line x1="504.60" y1="132.40" x2="569.00" y2="132.40" stroke="#3a3a3a" stroke-width="1.2"/>
<line x1="516.30" y1="132.40" x2="516.30" y2="134.90" stroke="#3a3a3a" stroke-width="1.2"/>
<line x1="530.30" y1="132.40" x2="530.30" y2="134.90" stroke="#3a3a3a" stroke-width="1.2"/>
<line x1="544.30" y1="132.40" x2="544.30" y2="134.90" stroke="#3a3a3a" stroke-width="1.2"/>
<line x1="558.40" y1="132.40" x2="558.40" y2="134.90" stroke="#3a3a3a" stroke-width="1.2"/>
<text transform="translate(520.80,139.20) rotate(-90)" font-size="12.4" text-anchor="end" fill="#1e1e1e" stroke="#1e1e1e" stroke-width="0.22">KATO-III</text>
<text transform="translate(534.80,139.20) rotate(-90)" font-size="12.4" text-anchor="end" fill="#1e1e1e" stroke="#1e1e1e" stroke-width="0.22">MKN-45</text>
<text transform="translate(548.80,139.20) rotate(-90)" font-size="12.4" text-anchor="end" fill="#1e1e1e" stroke="#1e1e1e" stroke-width="0.22">MKN-1</text>
<text transform="translate(562.90,139.20) rotate(-90)" font-size="12.4" text-anchor="end" fill="#1e1e1e" stroke="#1e1e1e" stroke-width="0.22">HeLa</text>
<text transform="translate(468.80,91.50) rotate(-90)" font-size="12.5" text-anchor="middle" fill="#1e1e1e" stroke="#1e1e1e" stroke-width="0.22">ATP-OCR</text>
<text transform="translate(482.50,91.50) rotate(-90)" font-size="12.5" text-anchor="middle" fill="#1e1e1e" stroke="#1e1e1e" stroke-width="0.22">(pmol/min)</text>
<line x1="518.30" y1="41.90" x2="542.00" y2="41.90" stroke="#6e6e6e" stroke-width="1.2"/>
<text x="530.00" y="43.92" font-size="12.0" text-anchor="middle" fill="#111" stroke="#111" stroke-width="0.3">**</text>
<line x1="518.30" y1="52.00" x2="557.20" y2="52.00" stroke="#6e6e6e" stroke-width="1.2"/>
<text x="538.00" y="54.22" font-size="12.0" text-anchor="middle" fill="#111" stroke="#111" stroke-width="0.3">**</text>
<line x1="529.70" y1="62.90" x2="543.70" y2="62.90" stroke="#6e6e6e" stroke-width="1.2"/>
<text x="536.00" y="64.92" font-size="12.0" text-anchor="middle" fill="#111" stroke="#111" stroke-width="0.3">*</text>
<line x1="529.20" y1="73.40" x2="556.70" y2="73.40" stroke="#6e6e6e" stroke-width="1.2"/>
<text x="542.70" y="75.52" font-size="12.0" text-anchor="middle" fill="#111" stroke="#111" stroke-width="0.3">*</text>
<text x="0.00" y="193.40" font-size="16" font-weight="bold" fill="#000" stroke="#000" stroke-width="0.22">B</text>
<line x1="102.30" y1="209.00" x2="117.40" y2="209.00" stroke="#65a2f8" stroke-width="2.0"/>
<circle cx="109.85" cy="209.00" r="2.3" fill="#65a2f8"/>
<text x="126.8" y="210.5" font-size="12.9" fill="#1e1e1e" stroke="#1e1e1e" stroke-width="0.22">1<tspan font-size="8" dy="-4.4">st</tspan><tspan dy="4.4">: UK5099</tspan></text>
<text x="126.8" y="222.8" font-size="12.9" fill="#1e1e1e" stroke="#1e1e1e" stroke-width="0.22">2<tspan font-size="8" dy="-4.4">nd</tspan><tspan dy="4.4">: BPTES+ETO</tspan></text>
<line x1="269.40" y1="207.80" x2="284.00" y2="207.80" stroke="#f27880" stroke-width="2.0"/>
<rect x="274.40" y="205.50" width="4.60" height="4.60" fill="#f27880"/>
<text x="292.9" y="210.5" font-size="12.9" fill="#1e1e1e" stroke="#1e1e1e" stroke-width="0.22">1<tspan font-size="8" dy="-4.4">st</tspan><tspan dy="4.4">: BPTES</tspan></text>
<text x="292.9" y="222.8" font-size="12.9" fill="#1e1e1e" stroke="#1e1e1e" stroke-width="0.22">2<tspan font-size="8" dy="-4.4">nd</tspan><tspan dy="4.4">: ETO+UK5099</tspan></text>
<line x1="434.70" y1="208.70" x2="450.20" y2="208.70" stroke="#ee9b47" stroke-width="2.0"/>
<path d="M442.45,206.17 L444.98,210.54 L439.92,210.54Z" fill="#ee9b47"/>
<text x="459.8" y="210.5" font-size="12.9" fill="#1e1e1e" stroke="#1e1e1e" stroke-width="0.22">1<tspan font-size="8" dy="-4.4">st</tspan><tspan dy="4.4">: ETO</tspan></text>
<text x="459.8" y="222.8" font-size="12.9" fill="#1e1e1e" stroke="#1e1e1e" stroke-width="0.22">2<tspan font-size="8" dy="-4.4">nd</tspan><tspan dy="4.4">: UK5099+BPTES</tspan></text>
<text x="182.30" y="245.30" font-size="12.3" text-anchor="middle" font-weight="bold" fill="#000" stroke="#000" stroke-width="0.22">MKN-45</text>
<line x1="62.20" y1="340.10" x2="62.20" y2="251.60" stroke="#3a3a3a" stroke-width="1.2"/>
<line x1="59.20" y1="339.50" x2="62.20" y2="339.50" stroke="#3a3a3a" stroke-width="1.2"/>
<text x="57.70" y="343.82" font-size="12" text-anchor="end" fill="#1e1e1e" stroke="#1e1e1e" stroke-width="0.22">100</text>
<line x1="59.20" y1="310.40" x2="62.20" y2="310.40" stroke="#3a3a3a" stroke-width="1.2"/>
<text x="57.70" y="314.72" font-size="12" text-anchor="end" fill="#1e1e1e" stroke="#1e1e1e" stroke-width="0.22">150</text>
<line x1="59.20" y1="281.30" x2="62.20" y2="281.30" stroke="#3a3a3a" stroke-width="1.2"/>
<text x="57.70" y="285.62" font-size="12" text-anchor="end" fill="#1e1e1e" stroke="#1e1e1e" stroke-width="0.22">200</text>
<line x1="59.20" y1="252.20" x2="62.20" y2="252.20" stroke="#3a3a3a" stroke-width="1.2"/>
<text x="57.70" y="256.52" font-size="12" text-anchor="end" fill="#1e1e1e" stroke="#1e1e1e" stroke-width="0.22">250</text>
<line x1="61.60" y1="339.50" x2="187.50" y2="339.50" stroke="#3a3a3a" stroke-width="1.2"/>
<line x1="62.40" y1="339.50" x2="62.40" y2="342.50" stroke="#3a3a3a" stroke-width="1.2"/>
<text x="62.40" y="354.50" font-size="12" text-anchor="middle" fill="#1e1e1e" stroke="#1e1e1e" stroke-width="0.22">0</text>
<line x1="87.42" y1="339.50" x2="87.42" y2="342.50" stroke="#3a3a3a" stroke-width="1.2"/>
<text x="87.42" y="354.50" font-size="12" text-anchor="middle" fill="#1e1e1e" stroke="#1e1e1e" stroke-width="0.22">20</text>
<line x1="112.44" y1="339.50" x2="112.44" y2="342.50" stroke="#3a3a3a" stroke-width="1.2"/>
<text x="112.44" y="354.50" font-size="12" text-anchor="middle" fill="#1e1e1e" stroke="#1e1e1e" stroke-width="0.22">40</text>
<line x1="137.46" y1="339.50" x2="137.46" y2="342.50" stroke="#3a3a3a" stroke-width="1.2"/>
<text x="137.46" y="354.50" font-size="12" text-anchor="middle" fill="#1e1e1e" stroke="#1e1e1e" stroke-width="0.22">60</text>
<line x1="162.48" y1="339.50" x2="162.48" y2="342.50" stroke="#3a3a3a" stroke-width="1.2"/>
<text x="162.48" y="354.50" font-size="12" text-anchor="middle" fill="#1e1e1e" stroke="#1e1e1e" stroke-width="0.22">80</text>
<line x1="187.50" y1="339.50" x2="187.50" y2="342.50" stroke="#3a3a3a" stroke-width="1.2"/>
<text x="187.50" y="354.50" font-size="12" text-anchor="middle" fill="#1e1e1e" stroke="#1e1e1e" stroke-width="0.22">100</text>
<text x="124.50" y="367.00" font-size="12.5" text-anchor="middle" fill="#1e1e1e" stroke="#1e1e1e" stroke-width="0.22">Time (min)</text>
<text transform="translate(29.90,293.50) rotate(-90)" font-size="12.5" text-anchor="middle" fill="#1e1e1e" stroke="#1e1e1e" stroke-width="0.22">OCR (pmoles/min)</text>
<line x1="81.16" y1="267.70" x2="81.16" y2="339.50" stroke="#111" stroke-width="0.9" stroke-dasharray="3.2,1.9"/>
<line x1="131.20" y1="281.20" x2="131.20" y2="339.50" stroke="#111" stroke-width="0.9" stroke-dasharray="3.2,1.9"/>
<text x="65.7" y="264.2" font-size="12.7" fill="#1e1e1e" stroke="#1e1e1e" stroke-width="0.22">1<tspan font-size="8" dy="-4.4">st</tspan><tspan dy="4.4"> injection</tspan></text>
<text x="112" y="277.7" font-size="12.7" fill="#1e1e1e" stroke="#1e1e1e" stroke-width="0.22">2<tspan font-size="8" dy="-4.4">nd</tspan><tspan dy="4.4"> injection</tspan></text>
<line x1="64.28" y1="276.64" x2="64.28" y2="297.60" stroke="#ee9b47" stroke-width="0.9"/>
<line x1="62.38" y1="276.64" x2="66.18" y2="276.64" stroke="#ee9b47" stroke-width="0.9"/>
<line x1="62.38" y1="297.60" x2="66.18" y2="297.60" stroke="#ee9b47" stroke-width="0.9"/>
<line x1="72.63" y1="285.96" x2="72.63" y2="309.24" stroke="#ee9b47" stroke-width="0.9"/>
<line x1="70.73" y1="285.96" x2="74.53" y2="285.96" stroke="#ee9b47" stroke-width="0.9"/>
<line x1="70.73" y1="309.24" x2="74.53" y2="309.24" stroke="#ee9b47" stroke-width="0.9"/>
<line x1="80.99" y1="290.03" x2="80.99" y2="310.98" stroke="#ee9b47" stroke-width="0.9"/>
<line x1="79.09" y1="290.03" x2="82.89" y2="290.03" stroke="#ee9b47" stroke-width="0.9"/>
<line x1="79.09" y1="310.98" x2="82.89" y2="310.98" stroke="#ee9b47" stroke-width="0.9"/>
<line x1="89.35" y1="302.25" x2="89.35" y2="319.71" stroke="#ee9b47" stroke-width="0.9"/>
<line x1="87.45" y1="302.25" x2="91.25" y2="302.25" stroke="#ee9b47" stroke-width="0.9"/>
<line x1="87.45" y1="319.71" x2="91.25" y2="319.71" stroke="#ee9b47" stroke-width="0.9"/>
<line x1="97.70" y1="305.74" x2="97.70" y2="320.88" stroke="#ee9b47" stroke-width="0.9"/>
<line x1="95.80" y1="305.74" x2="99.60" y2="305.74" stroke="#ee9b47" stroke-width="0.9"/>
<line x1="95.80" y1="320.88" x2="99.60" y2="320.88" stroke="#ee9b47" stroke-width="0.9"/>
<line x1="106.06" y1="307.49" x2="106.06" y2="321.46" stroke="#ee9b47" stroke-width="0.9"/>
<line x1="104.16" y1="307.49" x2="107.96" y2="307.49" stroke="#ee9b47" stroke-width="0.9"/>
<line x1="104.16" y1="321.46" x2="107.96" y2="321.46" stroke="#ee9b47" stroke-width="0.9"/>
<line x1="114.42" y1="308.07" x2="114.42" y2="322.04" stroke="#ee9b47" stroke-width="0.9"/>
<line x1="112.52" y1="308.07" x2="116.32" y2="308.07" stroke="#ee9b47" stroke-width="0.9"/>
<line x1="112.52" y1="322.04" x2="116.32" y2="322.04" stroke="#ee9b47" stroke-width="0.9"/>
<line x1="122.77" y1="308.65" x2="122.77" y2="322.62" stroke="#ee9b47" stroke-width="0.9"/>
<line x1="120.87" y1="308.65" x2="124.67" y2="308.65" stroke="#ee9b47" stroke-width="0.9"/>
<line x1="120.87" y1="322.62" x2="124.67" y2="322.62" stroke="#ee9b47" stroke-width="0.9"/>
<line x1="131.13" y1="310.40" x2="131.13" y2="323.20" stroke="#ee9b47" stroke-width="0.9"/>
<line x1="129.23" y1="310.40" x2="133.03" y2="310.40" stroke="#ee9b47" stroke-width="0.9"/>
<line x1="129.23" y1="323.20" x2="133.03" y2="323.20" stroke="#ee9b47" stroke-width="0.9"/>
<line x1="139.49" y1="314.18" x2="139.49" y2="325.82" stroke="#ee9b47" stroke-width="0.9"/>
<line x1="137.59" y1="314.18" x2="141.39" y2="314.18" stroke="#ee9b47" stroke-width="0.9"/>
<line x1="137.59" y1="325.82" x2="141.39" y2="325.82" stroke="#ee9b47" stroke-width="0.9"/>
<line x1="147.84" y1="315.29" x2="147.84" y2="326.93" stroke="#ee9b47" stroke-width="0.9"/>
<line x1="145.94" y1="315.29" x2="149.74" y2="315.29" stroke="#ee9b47" stroke-width="0.9"/>
<line x1="145.94" y1="326.93" x2="149.74" y2="326.93" stroke="#ee9b47" stroke-width="0.9"/>
<line x1="156.20" y1="316.80" x2="156.20" y2="327.28" stroke="#ee9b47" stroke-width="0.9"/>
<line x1="154.30" y1="316.80" x2="158.10" y2="316.80" stroke="#ee9b47" stroke-width="0.9"/>
<line x1="154.30" y1="327.28" x2="158.10" y2="327.28" stroke="#ee9b47" stroke-width="0.9"/>
<line x1="164.56" y1="317.97" x2="164.56" y2="328.44" stroke="#ee9b47" stroke-width="0.9"/>
<line x1="162.66" y1="317.97" x2="166.46" y2="317.97" stroke="#ee9b47" stroke-width="0.9"/>
<line x1="162.66" y1="328.44" x2="166.46" y2="328.44" stroke="#ee9b47" stroke-width="0.9"/>
<line x1="172.91" y1="319.13" x2="172.91" y2="329.61" stroke="#ee9b47" stroke-width="0.9"/>
<line x1="171.01" y1="319.13" x2="174.81" y2="319.13" stroke="#ee9b47" stroke-width="0.9"/>
<line x1="171.01" y1="329.61" x2="174.81" y2="329.61" stroke="#ee9b47" stroke-width="0.9"/>
<line x1="181.27" y1="319.71" x2="181.27" y2="330.19" stroke="#ee9b47" stroke-width="0.9"/>
<line x1="179.37" y1="319.71" x2="183.17" y2="319.71" stroke="#ee9b47" stroke-width="0.9"/>
<line x1="179.37" y1="330.19" x2="183.17" y2="330.19" stroke="#ee9b47" stroke-width="0.9"/>
<polyline points="64.28,287.12 72.63,297.60 80.99,300.51 89.35,310.98 97.70,313.31 106.06,314.47 114.42,315.06 122.77,315.64 131.13,316.80 139.49,320.00 147.84,321.11 156.20,322.04 164.56,323.20 172.91,324.37 181.27,324.95" fill="none" stroke="#ee9b47" stroke-width="1.3" stroke-linejoin="round"/>
<path d="M64.28,285.03 L66.37,288.64 L62.19,288.64Z" fill="#ee9b47"/>
<path d="M72.63,295.51 L74.72,299.12 L70.54,299.12Z" fill="#ee9b47"/>
<path d="M80.99,298.42 L83.08,302.03 L78.90,302.03Z" fill="#ee9b47"/>
<path d="M89.35,308.89 L91.44,312.50 L87.26,312.50Z" fill="#ee9b47"/>
<path d="M97.70,311.22 L99.79,314.83 L95.61,314.83Z" fill="#ee9b47"/>
<path d="M106.06,312.38 L108.15,315.99 L103.97,315.99Z" fill="#ee9b47"/>
<path d="M114.42,312.97 L116.51,316.58 L112.33,316.58Z" fill="#ee9b47"/>
<path d="M122.77,313.55 L124.86,317.16 L120.68,317.16Z" fill="#ee9b47"/>
<path d="M131.13,314.71 L133.22,318.32 L129.04,318.32Z" fill="#ee9b47"/>
<path d="M139.49,317.91 L141.58,321.52 L137.40,321.52Z" fill="#ee9b47"/>
<path d="M147.84,319.02 L149.93,322.63 L145.75,322.63Z" fill="#ee9b47"/>
<path d="M156.20,319.95 L158.29,323.56 L154.11,323.56Z" fill="#ee9b47"/>
<path d="M164.56,321.11 L166.65,324.72 L162.47,324.72Z" fill="#ee9b47"/>
<path d="M172.91,322.28 L175.00,325.89 L170.82,325.89Z" fill="#ee9b47"/>
<path d="M181.27,322.86 L183.36,326.47 L179.18,326.47Z" fill="#ee9b47"/>
<line x1="64.28" y1="282.46" x2="64.28" y2="288.28" stroke="#f27880" stroke-width="0.9"/>
<line x1="62.38" y1="282.46" x2="66.18" y2="282.46" stroke="#f27880" stroke-width="0.9"/>
<line x1="62.38" y1="288.28" x2="66.18" y2="288.28" stroke="#f27880" stroke-width="0.9"/>
<line x1="72.63" y1="296.43" x2="72.63" y2="301.09" stroke="#f27880" stroke-width="0.9"/>
<line x1="70.73" y1="296.43" x2="74.53" y2="296.43" stroke="#f27880" stroke-width="0.9"/>
<line x1="70.73" y1="301.09" x2="74.53" y2="301.09" stroke="#f27880" stroke-width="0.9"/>
<line x1="80.99" y1="299.92" x2="80.99" y2="303.42" stroke="#f27880" stroke-width="0.9"/>
<line x1="79.09" y1="299.92" x2="82.89" y2="299.92" stroke="#f27880" stroke-width="0.9"/>
<line x1="79.09" y1="303.42" x2="82.89" y2="303.42" stroke="#f27880" stroke-width="0.9"/>
<line x1="89.35" y1="300.51" x2="89.35" y2="304.00" stroke="#f27880" stroke-width="0.9"/>
<line x1="87.45" y1="300.51" x2="91.25" y2="300.51" stroke="#f27880" stroke-width="0.9"/>
<line x1="87.45" y1="304.00" x2="91.25" y2="304.00" stroke="#f27880" stroke-width="0.9"/>
<line x1="97.70" y1="301.09" x2="97.70" y2="303.42" stroke="#f27880" stroke-width="0.9"/>
<line x1="95.80" y1="301.09" x2="99.60" y2="301.09" stroke="#f27880" stroke-width="0.9"/>
<line x1="95.80" y1="303.42" x2="99.60" y2="303.42" stroke="#f27880" stroke-width="0.9"/>
<line x1="106.06" y1="301.67" x2="106.06" y2="304.00" stroke="#f27880" stroke-width="0.9"/>
<line x1="104.16" y1="301.67" x2="107.96" y2="301.67" stroke="#f27880" stroke-width="0.9"/>
<line x1="104.16" y1="304.00" x2="107.96" y2="304.00" stroke="#f27880" stroke-width="0.9"/>
<line x1="114.42" y1="301.67" x2="114.42" y2="304.00" stroke="#f27880" stroke-width="0.9"/>
<line x1="112.52" y1="301.67" x2="116.32" y2="301.67" stroke="#f27880" stroke-width="0.9"/>
<line x1="112.52" y1="304.00" x2="116.32" y2="304.00" stroke="#f27880" stroke-width="0.9"/>
<line x1="122.77" y1="301.67" x2="122.77" y2="304.00" stroke="#f27880" stroke-width="0.9"/>
<line x1="120.87" y1="301.67" x2="124.67" y2="301.67" stroke="#f27880" stroke-width="0.9"/>
<line x1="120.87" y1="304.00" x2="124.67" y2="304.00" stroke="#f27880" stroke-width="0.9"/>
<line x1="131.13" y1="302.25" x2="131.13" y2="304.58" stroke="#f27880" stroke-width="0.9"/>
<line x1="129.23" y1="302.25" x2="133.03" y2="302.25" stroke="#f27880" stroke-width="0.9"/>
<line x1="129.23" y1="304.58" x2="133.03" y2="304.58" stroke="#f27880" stroke-width="0.9"/>
<line x1="139.49" y1="321.46" x2="139.49" y2="324.95" stroke="#f27880" stroke-width="0.9"/>
<line x1="137.59" y1="321.46" x2="141.39" y2="321.46" stroke="#f27880" stroke-width="0.9"/>
<line x1="137.59" y1="324.95" x2="141.39" y2="324.95" stroke="#f27880" stroke-width="0.9"/>
<line x1="147.84" y1="324.37" x2="147.84" y2="326.70" stroke="#f27880" stroke-width="0.9"/>
<line x1="145.94" y1="324.37" x2="149.74" y2="324.37" stroke="#f27880" stroke-width="0.9"/>
<line x1="145.94" y1="326.70" x2="149.74" y2="326.70" stroke="#f27880" stroke-width="0.9"/>
<line x1="156.20" y1="326.11" x2="156.20" y2="328.44" stroke="#f27880" stroke-width="0.9"/>
<line x1="154.30" y1="326.11" x2="158.10" y2="326.11" stroke="#f27880" stroke-width="0.9"/>
<line x1="154.30" y1="328.44" x2="158.10" y2="328.44" stroke="#f27880" stroke-width="0.9"/>
<line x1="164.56" y1="327.28" x2="164.56" y2="329.61" stroke="#f27880" stroke-width="0.9"/>
<line x1="162.66" y1="327.28" x2="166.46" y2="327.28" stroke="#f27880" stroke-width="0.9"/>
<line x1="162.66" y1="329.61" x2="166.46" y2="329.61" stroke="#f27880" stroke-width="0.9"/>
<line x1="172.91" y1="328.44" x2="172.91" y2="330.77" stroke="#f27880" stroke-width="0.9"/>
<line x1="171.01" y1="328.44" x2="174.81" y2="328.44" stroke="#f27880" stroke-width="0.9"/>
<line x1="171.01" y1="330.77" x2="174.81" y2="330.77" stroke="#f27880" stroke-width="0.9"/>
<line x1="181.27" y1="329.61" x2="181.27" y2="331.93" stroke="#f27880" stroke-width="0.9"/>
<line x1="179.37" y1="329.61" x2="183.17" y2="329.61" stroke="#f27880" stroke-width="0.9"/>
<line x1="179.37" y1="331.93" x2="183.17" y2="331.93" stroke="#f27880" stroke-width="0.9"/>
<polyline points="64.28,285.37 72.63,298.76 80.99,301.67 89.35,302.25 97.70,302.25 106.06,302.83 114.42,302.83 122.77,302.83 131.13,303.42 139.49,323.20 147.84,325.53 156.20,327.28 164.56,328.44 172.91,329.61 181.27,330.77" fill="none" stroke="#f27880" stroke-width="1.3" stroke-linejoin="round"/>
<rect x="62.38" y="283.47" width="3.80" height="3.80" fill="#f27880"/>
<rect x="70.73" y="296.86" width="3.80" height="3.80" fill="#f27880"/>
<rect x="79.09" y="299.77" width="3.80" height="3.80" fill="#f27880"/>
<rect x="87.45" y="300.35" width="3.80" height="3.80" fill="#f27880"/>
<rect x="95.80" y="300.35" width="3.80" height="3.80" fill="#f27880"/>
<rect x="104.16" y="300.93" width="3.80" height="3.80" fill="#f27880"/>
<rect x="112.52" y="300.93" width="3.80" height="3.80" fill="#f27880"/>
<rect x="120.87" y="300.93" width="3.80" height="3.80" fill="#f27880"/>
<rect x="129.23" y="301.52" width="3.80" height="3.80" fill="#f27880"/>
<rect x="137.59" y="321.30" width="3.80" height="3.80" fill="#f27880"/>
<rect x="145.94" y="323.63" width="3.80" height="3.80" fill="#f27880"/>
<rect x="154.30" y="325.38" width="3.80" height="3.80" fill="#f27880"/>
<rect x="162.66" y="326.54" width="3.80" height="3.80" fill="#f27880"/>
<rect x="171.01" y="327.71" width="3.80" height="3.80" fill="#f27880"/>
<rect x="179.37" y="328.87" width="3.80" height="3.80" fill="#f27880"/>
<line x1="64.28" y1="287.12" x2="64.28" y2="294.10" stroke="#65a2f8" stroke-width="0.9"/>
<line x1="62.38" y1="287.12" x2="66.18" y2="287.12" stroke="#65a2f8" stroke-width="0.9"/>
<line x1="62.38" y1="294.10" x2="66.18" y2="294.10" stroke="#65a2f8" stroke-width="0.9"/>
<line x1="72.63" y1="291.19" x2="72.63" y2="297.01" stroke="#65a2f8" stroke-width="0.9"/>
<line x1="70.73" y1="291.19" x2="74.53" y2="291.19" stroke="#65a2f8" stroke-width="0.9"/>
<line x1="70.73" y1="297.01" x2="74.53" y2="297.01" stroke="#65a2f8" stroke-width="0.9"/>
<line x1="80.99" y1="292.94" x2="80.99" y2="299.92" stroke="#65a2f8" stroke-width="0.9"/>
<line x1="79.09" y1="292.94" x2="82.89" y2="292.94" stroke="#65a2f8" stroke-width="0.9"/>
<line x1="79.09" y1="299.92" x2="82.89" y2="299.92" stroke="#65a2f8" stroke-width="0.9"/>
<line x1="89.35" y1="293.52" x2="89.35" y2="299.34" stroke="#65a2f8" stroke-width="0.9"/>
<line x1="87.45" y1="293.52" x2="91.25" y2="293.52" stroke="#65a2f8" stroke-width="0.9"/>
<line x1="87.45" y1="299.34" x2="91.25" y2="299.34" stroke="#65a2f8" stroke-width="0.9"/>
<line x1="97.70" y1="294.10" x2="97.70" y2="299.92" stroke="#65a2f8" stroke-width="0.9"/>
<line x1="95.80" y1="294.10" x2="99.60" y2="294.10" stroke="#65a2f8" stroke-width="0.9"/>
<line x1="95.80" y1="299.92" x2="99.60" y2="299.92" stroke="#65a2f8" stroke-width="0.9"/>
<line x1="106.06" y1="294.69" x2="106.06" y2="300.51" stroke="#65a2f8" stroke-width="0.9"/>
<line x1="104.16" y1="294.69" x2="107.96" y2="294.69" stroke="#65a2f8" stroke-width="0.9"/>
<line x1="104.16" y1="300.51" x2="107.96" y2="300.51" stroke="#65a2f8" stroke-width="0.9"/>
<line x1="114.42" y1="295.27" x2="114.42" y2="301.09" stroke="#65a2f8" stroke-width="0.9"/>
<line x1="112.52" y1="295.27" x2="116.32" y2="295.27" stroke="#65a2f8" stroke-width="0.9"/>
<line x1="112.52" y1="301.09" x2="116.32" y2="301.09" stroke="#65a2f8" stroke-width="0.9"/>
<line x1="122.77" y1="295.27" x2="122.77" y2="301.09" stroke="#65a2f8" stroke-width="0.9"/>
<line x1="120.87" y1="295.27" x2="124.67" y2="295.27" stroke="#65a2f8" stroke-width="0.9"/>
<line x1="120.87" y1="301.09" x2="124.67" y2="301.09" stroke="#65a2f8" stroke-width="0.9"/>
<line x1="131.13" y1="297.60" x2="131.13" y2="303.42" stroke="#65a2f8" stroke-width="0.9"/>
<line x1="129.23" y1="297.60" x2="133.03" y2="297.60" stroke="#65a2f8" stroke-width="0.9"/>
<line x1="129.23" y1="303.42" x2="133.03" y2="303.42" stroke="#65a2f8" stroke-width="0.9"/>
<line x1="139.49" y1="316.80" x2="139.49" y2="322.62" stroke="#65a2f8" stroke-width="0.9"/>
<line x1="137.59" y1="316.80" x2="141.39" y2="316.80" stroke="#65a2f8" stroke-width="0.9"/>
<line x1="137.59" y1="322.62" x2="141.39" y2="322.62" stroke="#65a2f8" stroke-width="0.9"/>
<line x1="147.84" y1="319.13" x2="147.84" y2="324.95" stroke="#65a2f8" stroke-width="0.9"/>
<line x1="145.94" y1="319.13" x2="149.74" y2="319.13" stroke="#65a2f8" stroke-width="0.9"/>
<line x1="145.94" y1="324.95" x2="149.74" y2="324.95" stroke="#65a2f8" stroke-width="0.9"/>
<line x1="156.20" y1="320.29" x2="156.20" y2="326.11" stroke="#65a2f8" stroke-width="0.9"/>
<line x1="154.30" y1="320.29" x2="158.10" y2="320.29" stroke="#65a2f8" stroke-width="0.9"/>
<line x1="154.30" y1="326.11" x2="158.10" y2="326.11" stroke="#65a2f8" stroke-width="0.9"/>
<line x1="164.56" y1="320.88" x2="164.56" y2="326.70" stroke="#65a2f8" stroke-width="0.9"/>
<line x1="162.66" y1="320.88" x2="166.46" y2="320.88" stroke="#65a2f8" stroke-width="0.9"/>
<line x1="162.66" y1="326.70" x2="166.46" y2="326.70" stroke="#65a2f8" stroke-width="0.9"/>
<line x1="172.91" y1="321.46" x2="172.91" y2="327.28" stroke="#65a2f8" stroke-width="0.9"/>
<line x1="171.01" y1="321.46" x2="174.81" y2="321.46" stroke="#65a2f8" stroke-width="0.9"/>
<line x1="171.01" y1="327.28" x2="174.81" y2="327.28" stroke="#65a2f8" stroke-width="0.9"/>
<line x1="181.27" y1="322.62" x2="181.27" y2="327.28" stroke="#65a2f8" stroke-width="0.9"/>
<line x1="179.37" y1="322.62" x2="183.17" y2="322.62" stroke="#65a2f8" stroke-width="0.9"/>
<line x1="179.37" y1="327.28" x2="183.17" y2="327.28" stroke="#65a2f8" stroke-width="0.9"/>
<polyline points="64.28,290.61 72.63,294.10 80.99,296.43 89.35,296.43 97.70,297.01 106.06,297.60 114.42,298.18 122.77,298.18 131.13,300.51 139.49,319.71 147.84,322.04 156.20,323.20 164.56,323.79 172.91,324.37 181.27,324.95" fill="none" stroke="#65a2f8" stroke-width="1.3" stroke-linejoin="round"/>
<circle cx="64.28" cy="290.61" r="1.9" fill="#65a2f8"/>
<circle cx="72.63" cy="294.10" r="1.9" fill="#65a2f8"/>
<circle cx="80.99" cy="296.43" r="1.9" fill="#65a2f8"/>
<circle cx="89.35" cy="296.43" r="1.9" fill="#65a2f8"/>
<circle cx="97.70" cy="297.01" r="1.9" fill="#65a2f8"/>
<circle cx="106.06" cy="297.60" r="1.9" fill="#65a2f8"/>
<circle cx="114.42" cy="298.18" r="1.9" fill="#65a2f8"/>
<circle cx="122.77" cy="298.18" r="1.9" fill="#65a2f8"/>
<circle cx="131.13" cy="300.51" r="1.9" fill="#65a2f8"/>
<circle cx="139.49" cy="319.71" r="1.9" fill="#65a2f8"/>
<circle cx="147.84" cy="322.04" r="1.9" fill="#65a2f8"/>
<circle cx="156.20" cy="323.20" r="1.9" fill="#65a2f8"/>
<circle cx="164.56" cy="323.79" r="1.9" fill="#65a2f8"/>
<circle cx="172.91" cy="324.37" r="1.9" fill="#65a2f8"/>
<circle cx="181.27" cy="324.95" r="1.9" fill="#65a2f8"/>
<text x="499.80" y="245.40" font-size="12.3" text-anchor="middle" font-weight="bold" fill="#000" stroke="#000" stroke-width="0.22">MKN-1</text>
<line x1="370.90" y1="339.70" x2="370.90" y2="251.90" stroke="#3a3a3a" stroke-width="1.2"/>
<line x1="367.90" y1="339.10" x2="370.90" y2="339.10" stroke="#3a3a3a" stroke-width="1.2"/>
<text x="366.40" y="343.42" font-size="12" text-anchor="end" fill="#1e1e1e" stroke="#1e1e1e" stroke-width="0.22">60</text>
<line x1="367.90" y1="317.45" x2="370.90" y2="317.45" stroke="#3a3a3a" stroke-width="1.2"/>
<text x="366.40" y="321.77" font-size="12" text-anchor="end" fill="#1e1e1e" stroke="#1e1e1e" stroke-width="0.22">80</text>
<line x1="367.90" y1="295.80" x2="370.90" y2="295.80" stroke="#3a3a3a" stroke-width="1.2"/>
<text x="366.40" y="300.12" font-size="12" text-anchor="end" fill="#1e1e1e" stroke="#1e1e1e" stroke-width="0.22">100</text>
<line x1="367.90" y1="274.15" x2="370.90" y2="274.15" stroke="#3a3a3a" stroke-width="1.2"/>
<text x="366.40" y="278.47" font-size="12" text-anchor="end" fill="#1e1e1e" stroke="#1e1e1e" stroke-width="0.22">120</text>
<line x1="367.90" y1="252.50" x2="370.90" y2="252.50" stroke="#3a3a3a" stroke-width="1.2"/>
<text x="366.40" y="256.82" font-size="12" text-anchor="end" fill="#1e1e1e" stroke="#1e1e1e" stroke-width="0.22">140</text>
<line x1="370.30" y1="339.10" x2="497.10" y2="339.10" stroke="#3a3a3a" stroke-width="1.2"/>
<line x1="371.10" y1="339.10" x2="371.10" y2="342.10" stroke="#3a3a3a" stroke-width="1.2"/>
<text x="371.10" y="354.10" font-size="12" text-anchor="middle" fill="#1e1e1e" stroke="#1e1e1e" stroke-width="0.22">0</text>
<line x1="396.30" y1="339.10" x2="396.30" y2="342.10" stroke="#3a3a3a" stroke-width="1.2"/>
<text x="396.30" y="354.10" font-size="12" text-anchor="middle" fill="#1e1e1e" stroke="#1e1e1e" stroke-width="0.22">20</text>
<line x1="421.50" y1="339.10" x2="421.50" y2="342.10" stroke="#3a3a3a" stroke-width="1.2"/>
<text x="421.50" y="354.10" font-size="12" text-anchor="middle" fill="#1e1e1e" stroke="#1e1e1e" stroke-width="0.22">40</text>
<line x1="446.70" y1="339.10" x2="446.70" y2="342.10" stroke="#3a3a3a" stroke-width="1.2"/>
<text x="446.70" y="354.10" font-size="12" text-anchor="middle" fill="#1e1e1e" stroke="#1e1e1e" stroke-width="0.22">60</text>
<line x1="471.90" y1="339.10" x2="471.90" y2="342.10" stroke="#3a3a3a" stroke-width="1.2"/>
<text x="471.90" y="354.10" font-size="12" text-anchor="middle" fill="#1e1e1e" stroke="#1e1e1e" stroke-width="0.22">80</text>
<line x1="497.10" y1="339.10" x2="497.10" y2="342.10" stroke="#3a3a3a" stroke-width="1.2"/>
<text x="497.10" y="354.10" font-size="12" text-anchor="middle" fill="#1e1e1e" stroke="#1e1e1e" stroke-width="0.22">100</text>
<text x="437.00" y="366.60" font-size="12.5" text-anchor="middle" fill="#1e1e1e" stroke="#1e1e1e" stroke-width="0.22">Time (min)</text>
<text transform="translate(340.50,293.10) rotate(-90)" font-size="12.5" text-anchor="middle" fill="#1e1e1e" stroke="#1e1e1e" stroke-width="0.22">OCR (pmoles/min)</text>
<line x1="390.00" y1="268.20" x2="390.00" y2="339.10" stroke="#111" stroke-width="0.9" stroke-dasharray="3.2,1.9"/>
<line x1="439.39" y1="282.00" x2="439.39" y2="339.10" stroke="#111" stroke-width="0.9" stroke-dasharray="3.2,1.9"/>
<text x="374" y="265" font-size="12.7" fill="#1e1e1e" stroke="#1e1e1e" stroke-width="0.22">1<tspan font-size="8" dy="-4.4">st</tspan><tspan dy="4.4"> injection</tspan></text>
<text x="419.9" y="280" font-size="12.7" fill="#1e1e1e" stroke="#1e1e1e" stroke-width="0.22">2<tspan font-size="8" dy="-4.4">nd</tspan><tspan dy="4.4"> injection</tspan></text>
<line x1="372.74" y1="275.56" x2="372.74" y2="292.88" stroke="#f27880" stroke-width="0.9"/>
<line x1="370.84" y1="275.56" x2="374.64" y2="275.56" stroke="#f27880" stroke-width="0.9"/>
<line x1="370.84" y1="292.88" x2="374.64" y2="292.88" stroke="#f27880" stroke-width="0.9"/>
<line x1="381.10" y1="281.73" x2="381.10" y2="299.05" stroke="#f27880" stroke-width="0.9"/>
<line x1="379.20" y1="281.73" x2="383.00" y2="281.73" stroke="#f27880" stroke-width="0.9"/>
<line x1="379.20" y1="299.05" x2="383.00" y2="299.05" stroke="#f27880" stroke-width="0.9"/>
<line x1="389.47" y1="285.30" x2="389.47" y2="302.62" stroke="#f27880" stroke-width="0.9"/>
<line x1="387.57" y1="285.30" x2="391.37" y2="285.30" stroke="#f27880" stroke-width="0.9"/>
<line x1="387.57" y1="302.62" x2="391.37" y2="302.62" stroke="#f27880" stroke-width="0.9"/>
<line x1="397.84" y1="287.68" x2="397.84" y2="313.66" stroke="#f27880" stroke-width="0.9"/>
<line x1="395.94" y1="287.68" x2="399.74" y2="287.68" stroke="#f27880" stroke-width="0.9"/>
<line x1="395.94" y1="313.66" x2="399.74" y2="313.66" stroke="#f27880" stroke-width="0.9"/>
<line x1="406.20" y1="289.09" x2="406.20" y2="319.40" stroke="#f27880" stroke-width="0.9"/>
<line x1="404.30" y1="289.09" x2="408.10" y2="289.09" stroke="#f27880" stroke-width="0.9"/>
<line x1="404.30" y1="319.40" x2="408.10" y2="319.40" stroke="#f27880" stroke-width="0.9"/>
<line x1="414.57" y1="291.15" x2="414.57" y2="321.46" stroke="#f27880" stroke-width="0.9"/>
<line x1="412.67" y1="291.15" x2="416.47" y2="291.15" stroke="#f27880" stroke-width="0.9"/>
<line x1="412.67" y1="321.46" x2="416.47" y2="321.46" stroke="#f27880" stroke-width="0.9"/>
<line x1="422.94" y1="292.12" x2="422.94" y2="322.43" stroke="#f27880" stroke-width="0.9"/>
<line x1="421.04" y1="292.12" x2="424.84" y2="292.12" stroke="#f27880" stroke-width="0.9"/>
<line x1="421.04" y1="322.43" x2="424.84" y2="322.43" stroke="#f27880" stroke-width="0.9"/>
<line x1="431.30" y1="292.99" x2="431.30" y2="323.30" stroke="#f27880" stroke-width="0.9"/>
<line x1="429.40" y1="292.99" x2="433.20" y2="292.99" stroke="#f27880" stroke-width="0.9"/>
<line x1="429.40" y1="323.30" x2="433.20" y2="323.30" stroke="#f27880" stroke-width="0.9"/>
<line x1="439.67" y1="293.96" x2="439.67" y2="324.27" stroke="#f27880" stroke-width="0.9"/>
<line x1="437.77" y1="293.96" x2="441.57" y2="293.96" stroke="#f27880" stroke-width="0.9"/>
<line x1="437.77" y1="324.27" x2="441.57" y2="324.27" stroke="#f27880" stroke-width="0.9"/>
<line x1="448.04" y1="304.14" x2="448.04" y2="321.46" stroke="#f27880" stroke-width="0.9"/>
<line x1="446.14" y1="304.14" x2="449.94" y2="304.14" stroke="#f27880" stroke-width="0.9"/>
<line x1="446.14" y1="321.46" x2="449.94" y2="321.46" stroke="#f27880" stroke-width="0.9"/>
<line x1="456.40" y1="308.47" x2="456.40" y2="321.46" stroke="#f27880" stroke-width="0.9"/>
<line x1="454.50" y1="308.47" x2="458.30" y2="308.47" stroke="#f27880" stroke-width="0.9"/>
<line x1="454.50" y1="321.46" x2="458.30" y2="321.46" stroke="#f27880" stroke-width="0.9"/>
<line x1="464.77" y1="310.09" x2="464.77" y2="323.08" stroke="#f27880" stroke-width="0.9"/>
<line x1="462.87" y1="310.09" x2="466.67" y2="310.09" stroke="#f27880" stroke-width="0.9"/>
<line x1="462.87" y1="323.08" x2="466.67" y2="323.08" stroke="#f27880" stroke-width="0.9"/>
<line x1="473.13" y1="311.50" x2="473.13" y2="324.49" stroke="#f27880" stroke-width="0.9"/>
<line x1="471.23" y1="311.50" x2="475.03" y2="311.50" stroke="#f27880" stroke-width="0.9"/>
<line x1="471.23" y1="324.49" x2="475.03" y2="324.49" stroke="#f27880" stroke-width="0.9"/>
<line x1="481.50" y1="313.12" x2="481.50" y2="326.11" stroke="#f27880" stroke-width="0.9"/>
<line x1="479.60" y1="313.12" x2="483.40" y2="313.12" stroke="#f27880" stroke-width="0.9"/>
<line x1="479.60" y1="326.11" x2="483.40" y2="326.11" stroke="#f27880" stroke-width="0.9"/>
<line x1="489.87" y1="314.20" x2="489.87" y2="327.19" stroke="#f27880" stroke-width="0.9"/>
<line x1="487.97" y1="314.20" x2="491.77" y2="314.20" stroke="#f27880" stroke-width="0.9"/>
<line x1="487.97" y1="327.19" x2="491.77" y2="327.19" stroke="#f27880" stroke-width="0.9"/>
<polyline points="372.74,284.22 381.10,290.39 389.47,293.96 397.84,300.67 406.20,304.24 414.57,306.30 422.94,307.27 431.30,308.14 439.67,309.11 448.04,312.80 456.40,314.96 464.77,316.58 473.13,317.99 481.50,319.62 489.87,320.70" fill="none" stroke="#f27880" stroke-width="1.3" stroke-linejoin="round"/>
<rect x="370.84" y="282.32" width="3.80" height="3.80" fill="#f27880"/>
<rect x="379.20" y="288.49" width="3.80" height="3.80" fill="#f27880"/>
<rect x="387.57" y="292.06" width="3.80" height="3.80" fill="#f27880"/>
<rect x="395.94" y="298.77" width="3.80" height="3.80" fill="#f27880"/>
<rect x="404.30" y="302.34" width="3.80" height="3.80" fill="#f27880"/>
<rect x="412.67" y="304.40" width="3.80" height="3.80" fill="#f27880"/>
<rect x="421.04" y="305.37" width="3.80" height="3.80" fill="#f27880"/>
<rect x="429.40" y="306.24" width="3.80" height="3.80" fill="#f27880"/>
<rect x="437.77" y="307.21" width="3.80" height="3.80" fill="#f27880"/>
<rect x="446.14" y="310.90" width="3.80" height="3.80" fill="#f27880"/>
<rect x="454.50" y="313.06" width="3.80" height="3.80" fill="#f27880"/>
<rect x="462.87" y="314.68" width="3.80" height="3.80" fill="#f27880"/>
<rect x="471.23" y="316.09" width="3.80" height="3.80" fill="#f27880"/>
<rect x="479.60" y="317.72" width="3.80" height="3.80" fill="#f27880"/>
<rect x="487.97" y="318.80" width="3.80" height="3.80" fill="#f27880"/>
<line x1="372.74" y1="274.15" x2="372.74" y2="289.31" stroke="#ee9b47" stroke-width="0.9"/>
<line x1="370.84" y1="274.15" x2="374.64" y2="274.15" stroke="#ee9b47" stroke-width="0.9"/>
<line x1="370.84" y1="289.31" x2="374.64" y2="289.31" stroke="#ee9b47" stroke-width="0.9"/>
<line x1="381.10" y1="281.73" x2="381.10" y2="299.05" stroke="#ee9b47" stroke-width="0.9"/>
<line x1="379.20" y1="281.73" x2="383.00" y2="281.73" stroke="#ee9b47" stroke-width="0.9"/>
<line x1="379.20" y1="299.05" x2="383.00" y2="299.05" stroke="#ee9b47" stroke-width="0.9"/>
<line x1="389.47" y1="285.30" x2="389.47" y2="302.62" stroke="#ee9b47" stroke-width="0.9"/>
<line x1="387.57" y1="285.30" x2="391.37" y2="285.30" stroke="#ee9b47" stroke-width="0.9"/>
<line x1="387.57" y1="302.62" x2="391.37" y2="302.62" stroke="#ee9b47" stroke-width="0.9"/>
<line x1="397.84" y1="289.31" x2="397.84" y2="306.63" stroke="#ee9b47" stroke-width="0.9"/>
<line x1="395.94" y1="289.31" x2="399.74" y2="289.31" stroke="#ee9b47" stroke-width="0.9"/>
<line x1="395.94" y1="306.63" x2="399.74" y2="306.63" stroke="#ee9b47" stroke-width="0.9"/>
<line x1="406.20" y1="289.85" x2="406.20" y2="307.17" stroke="#ee9b47" stroke-width="0.9"/>
<line x1="404.30" y1="289.85" x2="408.10" y2="289.85" stroke="#ee9b47" stroke-width="0.9"/>
<line x1="404.30" y1="307.17" x2="408.10" y2="307.17" stroke="#ee9b47" stroke-width="0.9"/>
<line x1="414.57" y1="290.39" x2="414.57" y2="307.71" stroke="#ee9b47" stroke-width="0.9"/>
<line x1="412.67" y1="290.39" x2="416.47" y2="290.39" stroke="#ee9b47" stroke-width="0.9"/>
<line x1="412.67" y1="307.71" x2="416.47" y2="307.71" stroke="#ee9b47" stroke-width="0.9"/>
<line x1="422.94" y1="290.93" x2="422.94" y2="308.25" stroke="#ee9b47" stroke-width="0.9"/>
<line x1="421.04" y1="290.93" x2="424.84" y2="290.93" stroke="#ee9b47" stroke-width="0.9"/>
<line x1="421.04" y1="308.25" x2="424.84" y2="308.25" stroke="#ee9b47" stroke-width="0.9"/>
<line x1="431.30" y1="291.47" x2="431.30" y2="308.79" stroke="#ee9b47" stroke-width="0.9"/>
<line x1="429.40" y1="291.47" x2="433.20" y2="291.47" stroke="#ee9b47" stroke-width="0.9"/>
<line x1="429.40" y1="308.79" x2="433.20" y2="308.79" stroke="#ee9b47" stroke-width="0.9"/>
<line x1="439.67" y1="292.01" x2="439.67" y2="309.33" stroke="#ee9b47" stroke-width="0.9"/>
<line x1="437.77" y1="292.01" x2="441.57" y2="292.01" stroke="#ee9b47" stroke-width="0.9"/>
<line x1="437.77" y1="309.33" x2="441.57" y2="309.33" stroke="#ee9b47" stroke-width="0.9"/>
<line x1="448.04" y1="301.21" x2="448.04" y2="316.37" stroke="#ee9b47" stroke-width="0.9"/>
<line x1="446.14" y1="301.21" x2="449.94" y2="301.21" stroke="#ee9b47" stroke-width="0.9"/>
<line x1="446.14" y1="316.37" x2="449.94" y2="316.37" stroke="#ee9b47" stroke-width="0.9"/>
<line x1="456.40" y1="306.30" x2="456.40" y2="321.46" stroke="#ee9b47" stroke-width="0.9"/>
<line x1="454.50" y1="306.30" x2="458.30" y2="306.30" stroke="#ee9b47" stroke-width="0.9"/>
<line x1="454.50" y1="321.46" x2="458.30" y2="321.46" stroke="#ee9b47" stroke-width="0.9"/>
<line x1="464.77" y1="308.36" x2="464.77" y2="323.51" stroke="#ee9b47" stroke-width="0.9"/>
<line x1="462.87" y1="308.36" x2="466.67" y2="308.36" stroke="#ee9b47" stroke-width="0.9"/>
<line x1="462.87" y1="323.51" x2="466.67" y2="323.51" stroke="#ee9b47" stroke-width="0.9"/>
<line x1="473.13" y1="310.41" x2="473.13" y2="325.57" stroke="#ee9b47" stroke-width="0.9"/>
<line x1="471.23" y1="310.41" x2="475.03" y2="310.41" stroke="#ee9b47" stroke-width="0.9"/>
<line x1="471.23" y1="325.57" x2="475.03" y2="325.57" stroke="#ee9b47" stroke-width="0.9"/>
<line x1="481.50" y1="312.04" x2="481.50" y2="327.19" stroke="#ee9b47" stroke-width="0.9"/>
<line x1="479.60" y1="312.04" x2="483.40" y2="312.04" stroke="#ee9b47" stroke-width="0.9"/>
<line x1="479.60" y1="327.19" x2="483.40" y2="327.19" stroke="#ee9b47" stroke-width="0.9"/>
<line x1="489.87" y1="313.12" x2="489.87" y2="328.28" stroke="#ee9b47" stroke-width="0.9"/>
<line x1="487.97" y1="313.12" x2="491.77" y2="313.12" stroke="#ee9b47" stroke-width="0.9"/>
<line x1="487.97" y1="328.28" x2="491.77" y2="328.28" stroke="#ee9b47" stroke-width="0.9"/>
<polyline points="372.74,281.73 381.10,290.39 389.47,293.96 397.84,297.97 406.20,298.51 414.57,299.05 422.94,299.59 431.30,300.13 439.67,300.67 448.04,308.79 456.40,313.88 464.77,315.93 473.13,317.99 481.50,319.62 489.87,320.70" fill="none" stroke="#ee9b47" stroke-width="1.3" stroke-linejoin="round"/>
<path d="M372.74,279.64 L374.83,283.25 L370.65,283.25Z" fill="#ee9b47"/>
<path d="M381.10,288.30 L383.19,291.91 L379.01,291.91Z" fill="#ee9b47"/>
<path d="M389.47,291.87 L391.56,295.48 L387.38,295.48Z" fill="#ee9b47"/>
<path d="M397.84,295.88 L399.93,299.49 L395.75,299.49Z" fill="#ee9b47"/>
<path d="M406.20,296.42 L408.29,300.03 L404.11,300.03Z" fill="#ee9b47"/>
<path d="M414.57,296.96 L416.66,300.57 L412.48,300.57Z" fill="#ee9b47"/>
<path d="M422.94,297.50 L425.03,301.11 L420.85,301.11Z" fill="#ee9b47"/>
<path d="M431.30,298.04 L433.39,301.65 L429.21,301.65Z" fill="#ee9b47"/>
<path d="M439.67,298.58 L441.76,302.19 L437.58,302.19Z" fill="#ee9b47"/>
<path d="M448.04,306.70 L450.13,310.31 L445.95,310.31Z" fill="#ee9b47"/>
<path d="M456.40,311.79 L458.49,315.40 L454.31,315.40Z" fill="#ee9b47"/>
<path d="M464.77,313.84 L466.86,317.45 L462.68,317.45Z" fill="#ee9b47"/>
<path d="M473.13,315.90 L475.22,319.51 L471.04,319.51Z" fill="#ee9b47"/>
<path d="M481.50,317.53 L483.59,321.13 L479.41,321.13Z" fill="#ee9b47"/>
<path d="M489.87,318.61 L491.96,322.22 L487.78,322.22Z" fill="#ee9b47"/>
<line x1="372.74" y1="271.44" x2="372.74" y2="288.76" stroke="#65a2f8" stroke-width="0.9"/>
<line x1="370.84" y1="271.44" x2="374.64" y2="271.44" stroke="#65a2f8" stroke-width="0.9"/>
<line x1="370.84" y1="288.76" x2="374.64" y2="288.76" stroke="#65a2f8" stroke-width="0.9"/>
<line x1="381.10" y1="280.65" x2="381.10" y2="300.13" stroke="#65a2f8" stroke-width="0.9"/>
<line x1="379.20" y1="280.65" x2="383.00" y2="280.65" stroke="#65a2f8" stroke-width="0.9"/>
<line x1="379.20" y1="300.13" x2="383.00" y2="300.13" stroke="#65a2f8" stroke-width="0.9"/>
<line x1="389.47" y1="284.22" x2="389.47" y2="303.70" stroke="#65a2f8" stroke-width="0.9"/>
<line x1="387.57" y1="284.22" x2="391.37" y2="284.22" stroke="#65a2f8" stroke-width="0.9"/>
<line x1="387.57" y1="303.70" x2="391.37" y2="303.70" stroke="#65a2f8" stroke-width="0.9"/>
<line x1="397.84" y1="285.62" x2="397.84" y2="305.11" stroke="#65a2f8" stroke-width="0.9"/>
<line x1="395.94" y1="285.62" x2="399.74" y2="285.62" stroke="#65a2f8" stroke-width="0.9"/>
<line x1="395.94" y1="305.11" x2="399.74" y2="305.11" stroke="#65a2f8" stroke-width="0.9"/>
<line x1="406.20" y1="285.73" x2="406.20" y2="307.38" stroke="#65a2f8" stroke-width="0.9"/>
<line x1="404.30" y1="285.73" x2="408.10" y2="285.73" stroke="#65a2f8" stroke-width="0.9"/>
<line x1="404.30" y1="307.38" x2="408.10" y2="307.38" stroke="#65a2f8" stroke-width="0.9"/>
<line x1="414.57" y1="286.27" x2="414.57" y2="307.92" stroke="#65a2f8" stroke-width="0.9"/>
<line x1="412.67" y1="286.27" x2="416.47" y2="286.27" stroke="#65a2f8" stroke-width="0.9"/>
<line x1="412.67" y1="307.92" x2="416.47" y2="307.92" stroke="#65a2f8" stroke-width="0.9"/>
<line x1="422.94" y1="287.14" x2="422.94" y2="308.79" stroke="#65a2f8" stroke-width="0.9"/>
<line x1="421.04" y1="287.14" x2="424.84" y2="287.14" stroke="#65a2f8" stroke-width="0.9"/>
<line x1="421.04" y1="308.79" x2="424.84" y2="308.79" stroke="#65a2f8" stroke-width="0.9"/>
<line x1="431.30" y1="288.22" x2="431.30" y2="309.87" stroke="#65a2f8" stroke-width="0.9"/>
<line x1="429.40" y1="288.22" x2="433.20" y2="288.22" stroke="#65a2f8" stroke-width="0.9"/>
<line x1="429.40" y1="309.87" x2="433.20" y2="309.87" stroke="#65a2f8" stroke-width="0.9"/>
<line x1="439.67" y1="289.31" x2="439.67" y2="310.95" stroke="#65a2f8" stroke-width="0.9"/>
<line x1="437.77" y1="289.31" x2="441.57" y2="289.31" stroke="#65a2f8" stroke-width="0.9"/>
<line x1="437.77" y1="310.95" x2="441.57" y2="310.95" stroke="#65a2f8" stroke-width="0.9"/>
<line x1="448.04" y1="298.61" x2="448.04" y2="318.10" stroke="#65a2f8" stroke-width="0.9"/>
<line x1="446.14" y1="298.61" x2="449.94" y2="298.61" stroke="#65a2f8" stroke-width="0.9"/>
<line x1="446.14" y1="318.10" x2="449.94" y2="318.10" stroke="#65a2f8" stroke-width="0.9"/>
<line x1="456.40" y1="305.22" x2="456.40" y2="322.54" stroke="#65a2f8" stroke-width="0.9"/>
<line x1="454.50" y1="305.22" x2="458.30" y2="305.22" stroke="#65a2f8" stroke-width="0.9"/>
<line x1="454.50" y1="322.54" x2="458.30" y2="322.54" stroke="#65a2f8" stroke-width="0.9"/>
<line x1="464.77" y1="307.27" x2="464.77" y2="324.59" stroke="#65a2f8" stroke-width="0.9"/>
<line x1="462.87" y1="307.27" x2="466.67" y2="307.27" stroke="#65a2f8" stroke-width="0.9"/>
<line x1="462.87" y1="324.59" x2="466.67" y2="324.59" stroke="#65a2f8" stroke-width="0.9"/>
<line x1="473.13" y1="310.41" x2="473.13" y2="325.57" stroke="#65a2f8" stroke-width="0.9"/>
<line x1="471.23" y1="310.41" x2="475.03" y2="310.41" stroke="#65a2f8" stroke-width="0.9"/>
<line x1="471.23" y1="325.57" x2="475.03" y2="325.57" stroke="#65a2f8" stroke-width="0.9"/>
<line x1="481.50" y1="312.04" x2="481.50" y2="327.19" stroke="#65a2f8" stroke-width="0.9"/>
<line x1="479.60" y1="312.04" x2="483.40" y2="312.04" stroke="#65a2f8" stroke-width="0.9"/>
<line x1="479.60" y1="327.19" x2="483.40" y2="327.19" stroke="#65a2f8" stroke-width="0.9"/>
<line x1="489.87" y1="313.12" x2="489.87" y2="328.28" stroke="#65a2f8" stroke-width="0.9"/>
<line x1="487.97" y1="313.12" x2="491.77" y2="313.12" stroke="#65a2f8" stroke-width="0.9"/>
<line x1="487.97" y1="328.28" x2="491.77" y2="328.28" stroke="#65a2f8" stroke-width="0.9"/>
<polyline points="372.74,280.10 381.10,290.39 389.47,293.96 397.84,295.37 406.20,296.56 414.57,297.10 422.94,297.97 431.30,299.05 439.67,300.13 448.04,308.36 456.40,313.88 464.77,315.93 473.13,317.99 481.50,319.62 489.87,320.70" fill="none" stroke="#65a2f8" stroke-width="1.3" stroke-linejoin="round"/>
<circle cx="372.74" cy="280.10" r="1.9" fill="#65a2f8"/>
<circle cx="381.10" cy="290.39" r="1.9" fill="#65a2f8"/>
<circle cx="389.47" cy="293.96" r="1.9" fill="#65a2f8"/>
<circle cx="397.84" cy="295.37" r="1.9" fill="#65a2f8"/>
<circle cx="406.20" cy="296.56" r="1.9" fill="#65a2f8"/>
<circle cx="414.57" cy="297.10" r="1.9" fill="#65a2f8"/>
<circle cx="422.94" cy="297.97" r="1.9" fill="#65a2f8"/>
<circle cx="431.30" cy="299.05" r="1.9" fill="#65a2f8"/>
<circle cx="439.67" cy="300.13" r="1.9" fill="#65a2f8"/>
<circle cx="448.04" cy="308.36" r="1.9" fill="#65a2f8"/>
<circle cx="456.40" cy="313.88" r="1.9" fill="#65a2f8"/>
<circle cx="464.77" cy="315.93" r="1.9" fill="#65a2f8"/>
<circle cx="473.13" cy="317.99" r="1.9" fill="#65a2f8"/>
<circle cx="481.50" cy="319.62" r="1.9" fill="#65a2f8"/>
<circle cx="489.87" cy="320.70" r="1.9" fill="#65a2f8"/>
<rect x="252.00" y="328.08" width="12.30" height="12.42" fill="#65a2f8"/>
<line x1="258.15" y1="327.57" x2="258.15" y2="328.59" stroke="#222" stroke-width="0.8"/>
<line x1="255.15" y1="327.57" x2="261.15" y2="327.57" stroke="#222" stroke-width="0.8"/>
<line x1="255.15" y1="328.59" x2="261.15" y2="328.59" stroke="#222" stroke-width="0.8"/>
<circle cx="258.15" cy="328.08" r="1.1" fill="#222"/>
<rect x="271.00" y="320.39" width="12.30" height="20.11" fill="#f27880"/>
<line x1="277.15" y1="317.43" x2="277.15" y2="323.35" stroke="#222" stroke-width="0.8"/>
<line x1="274.15" y1="317.43" x2="280.15" y2="317.43" stroke="#222" stroke-width="0.8"/>
<line x1="274.15" y1="323.35" x2="280.15" y2="323.35" stroke="#222" stroke-width="0.8"/>
<circle cx="277.15" cy="320.39" r="1.1" fill="#222"/>
<rect x="289.70" y="284.73" width="12.30" height="55.77" fill="#ee9b47"/>
<line x1="295.85" y1="284.14" x2="295.85" y2="285.32" stroke="#222" stroke-width="0.8"/>
<line x1="292.85" y1="284.14" x2="298.85" y2="284.14" stroke="#222" stroke-width="0.8"/>
<line x1="292.85" y1="285.32" x2="298.85" y2="285.32" stroke="#222" stroke-width="0.8"/>
<circle cx="295.85" cy="284.73" r="1.1" fill="#222"/>
<line x1="245.90" y1="341.10" x2="245.90" y2="272.30" stroke="#3a3a3a" stroke-width="1.2"/>
<line x1="242.90" y1="340.50" x2="245.90" y2="340.50" stroke="#3a3a3a" stroke-width="1.2"/>
<text x="241.40" y="344.82" font-size="12" text-anchor="end" fill="#1e1e1e" stroke="#1e1e1e" stroke-width="0.22">0</text>
<line x1="242.90" y1="323.60" x2="245.90" y2="323.60" stroke="#3a3a3a" stroke-width="1.2"/>
<text x="241.40" y="327.92" font-size="12" text-anchor="end" fill="#1e1e1e" stroke="#1e1e1e" stroke-width="0.22">20</text>
<line x1="242.90" y1="306.70" x2="245.90" y2="306.70" stroke="#3a3a3a" stroke-width="1.2"/>
<text x="241.40" y="311.02" font-size="12" text-anchor="end" fill="#1e1e1e" stroke="#1e1e1e" stroke-width="0.22">40</text>
<line x1="242.90" y1="289.80" x2="245.90" y2="289.80" stroke="#3a3a3a" stroke-width="1.2"/>
<text x="241.40" y="294.12" font-size="12" text-anchor="end" fill="#1e1e1e" stroke="#1e1e1e" stroke-width="0.22">60</text>
<line x1="242.90" y1="272.90" x2="245.90" y2="272.90" stroke="#3a3a3a" stroke-width="1.2"/>
<text x="241.40" y="277.22" font-size="12" text-anchor="end" fill="#1e1e1e" stroke="#1e1e1e" stroke-width="0.22">80</text>
<line x1="245.30" y1="340.50" x2="308.60" y2="340.50" stroke="#3a3a3a" stroke-width="1.2"/>
<line x1="258.15" y1="340.50" x2="258.15" y2="343.00" stroke="#3a3a3a" stroke-width="1.2"/>
<line x1="277.15" y1="340.50" x2="277.15" y2="343.00" stroke="#3a3a3a" stroke-width="1.2"/>
<line x1="295.85" y1="340.50" x2="295.85" y2="343.00" stroke="#3a3a3a" stroke-width="1.2"/>
<text transform="translate(262.40,345.50) rotate(-90)" font-size="12.5" text-anchor="end" fill="#1e1e1e" stroke="#1e1e1e" stroke-width="0.22">Glucose</text>
<text transform="translate(281.40,345.50) rotate(-90)" font-size="12.5" text-anchor="end" fill="#1e1e1e" stroke="#1e1e1e" stroke-width="0.22">Glutamine</text>
<text transform="translate(300.10,345.50) rotate(-90)" font-size="12.5" text-anchor="end" fill="#1e1e1e" stroke="#1e1e1e" stroke-width="0.22">Fatty Acid</text>
<text transform="translate(223.00,306.70) rotate(-90)" font-size="12.5" text-anchor="middle" fill="#1e1e1e" stroke="#1e1e1e" stroke-width="0.22">OCR Dependence (%)</text>
<line x1="259.60" y1="275.20" x2="294.10" y2="275.20" stroke="#6e6e6e" stroke-width="1.2"/>
<text x="276.60" y="276.12" font-size="12.0" text-anchor="middle" fill="#111" stroke="#111" stroke-width="0.3">***</text>
<line x1="259.60" y1="311.00" x2="275.00" y2="311.00" stroke="#6e6e6e" stroke-width="1.2"/>
<text x="267.30" y="312.22" font-size="12.0" text-anchor="middle" fill="#111" stroke="#111" stroke-width="0.3">**</text>
<rect x="562.90" y="295.14" width="12.30" height="45.96" fill="#65a2f8"/>
<line x1="569.05" y1="289.78" x2="569.05" y2="300.50" stroke="#222" stroke-width="0.8"/>
<line x1="566.05" y1="289.78" x2="572.05" y2="289.78" stroke="#222" stroke-width="0.8"/>
<line x1="566.05" y1="300.50" x2="572.05" y2="300.50" stroke="#222" stroke-width="0.8"/>
<circle cx="569.05" cy="295.14" r="1.1" fill="#222"/>
<rect x="581.30" y="284.82" width="12.30" height="56.28" fill="#f27880"/>
<line x1="587.45" y1="283.61" x2="587.45" y2="286.03" stroke="#222" stroke-width="0.8"/>
<line x1="584.45" y1="283.61" x2="590.45" y2="283.61" stroke="#222" stroke-width="0.8"/>
<line x1="584.45" y1="286.03" x2="590.45" y2="286.03" stroke="#222" stroke-width="0.8"/>
<circle cx="587.45" cy="284.82" r="1.1" fill="#222"/>
<rect x="600.20" y="288.97" width="12.30" height="52.13" fill="#ee9b47"/>
<line x1="606.35" y1="287.37" x2="606.35" y2="290.58" stroke="#222" stroke-width="0.8"/>
<line x1="603.35" y1="287.37" x2="609.35" y2="287.37" stroke="#222" stroke-width="0.8"/>
<line x1="603.35" y1="290.58" x2="609.35" y2="290.58" stroke="#222" stroke-width="0.8"/>
<circle cx="606.35" cy="288.97" r="1.1" fill="#222"/>
<line x1="556.30" y1="341.70" x2="556.30" y2="273.50" stroke="#3a3a3a" stroke-width="1.2"/>
<line x1="553.30" y1="341.10" x2="556.30" y2="341.10" stroke="#3a3a3a" stroke-width="1.2"/>
<text x="551.80" y="345.42" font-size="12" text-anchor="end" fill="#1e1e1e" stroke="#1e1e1e" stroke-width="0.22">0</text>
<line x1="553.30" y1="327.70" x2="556.30" y2="327.70" stroke="#3a3a3a" stroke-width="1.2"/>
<text x="551.80" y="332.02" font-size="12" text-anchor="end" fill="#1e1e1e" stroke="#1e1e1e" stroke-width="0.22">10</text>
<line x1="553.30" y1="314.30" x2="556.30" y2="314.30" stroke="#3a3a3a" stroke-width="1.2"/>
<text x="551.80" y="318.62" font-size="12" text-anchor="end" fill="#1e1e1e" stroke="#1e1e1e" stroke-width="0.22">20</text>
<line x1="553.30" y1="300.90" x2="556.30" y2="300.90" stroke="#3a3a3a" stroke-width="1.2"/>
<text x="551.80" y="305.22" font-size="12" text-anchor="end" fill="#1e1e1e" stroke="#1e1e1e" stroke-width="0.22">30</text>
<line x1="553.30" y1="287.50" x2="556.30" y2="287.50" stroke="#3a3a3a" stroke-width="1.2"/>
<text x="551.80" y="291.82" font-size="12" text-anchor="end" fill="#1e1e1e" stroke="#1e1e1e" stroke-width="0.22">40</text>
<line x1="553.30" y1="274.10" x2="556.30" y2="274.10" stroke="#3a3a3a" stroke-width="1.2"/>
<text x="551.80" y="278.42" font-size="12" text-anchor="end" fill="#1e1e1e" stroke="#1e1e1e" stroke-width="0.22">50</text>
<line x1="555.70" y1="341.10" x2="619.50" y2="341.10" stroke="#3a3a3a" stroke-width="1.2"/>
<line x1="569.05" y1="341.10" x2="569.05" y2="343.60" stroke="#3a3a3a" stroke-width="1.2"/>
<line x1="587.45" y1="341.10" x2="587.45" y2="343.60" stroke="#3a3a3a" stroke-width="1.2"/>
<line x1="606.35" y1="341.10" x2="606.35" y2="343.60" stroke="#3a3a3a" stroke-width="1.2"/>
<text transform="translate(573.30,346.20) rotate(-90)" font-size="12.5" text-anchor="end" fill="#1e1e1e" stroke="#1e1e1e" stroke-width="0.22">Glucose</text>
<text transform="translate(591.70,346.20) rotate(-90)" font-size="12.5" text-anchor="end" fill="#1e1e1e" stroke="#1e1e1e" stroke-width="0.22">Glutamine</text>
<text transform="translate(610.60,346.20) rotate(-90)" font-size="12.5" text-anchor="end" fill="#1e1e1e" stroke="#1e1e1e" stroke-width="0.22">Fatty Acid</text>
<text transform="translate(532.00,306.70) rotate(-90)" font-size="12.5" text-anchor="middle" fill="#1e1e1e" stroke="#1e1e1e" stroke-width="0.22">OCR Dependence (%)</text>
<line x1="570.30" y1="262.00" x2="605.00" y2="262.00" stroke="#6e6e6e" stroke-width="1.2"/>
<text x="585.90" y="258.30" font-size="12" text-anchor="middle" fill="#1e1e1e" stroke="#1e1e1e" stroke-width="0.22">ns</text>
<line x1="570.30" y1="279.00" x2="585.70" y2="279.00" stroke="#6e6e6e" stroke-width="1.2"/>
<text x="578.00" y="275.30" font-size="12" text-anchor="middle" fill="#1e1e1e" stroke="#1e1e1e" stroke-width="0.22">ns</text>
<text x="-0.30" y="405.90" font-size="16" font-weight="bold" fill="#000" stroke="#000" stroke-width="0.22">C</text>
<text x="49.90" y="428.80" font-size="12.3" font-weight="bold" fill="#000" stroke="#000" stroke-width="0.22">Cancer cells</text>
<text transform="translate(62.20,487.60) rotate(-90)" font-size="12.5" fill="#1e1e1e" stroke="#1e1e1e" stroke-width="0.22">KATO-III</text>
<text transform="translate(77.10,487.60) rotate(-90)" font-size="12.5" fill="#1e1e1e" stroke="#1e1e1e" stroke-width="0.22">MKN-45</text>
<text transform="translate(92.00,487.60) rotate(-90)" font-size="12.5" fill="#1e1e1e" stroke="#1e1e1e" stroke-width="0.22">MKN-1</text>
<text transform="translate(106.90,487.60) rotate(-90)" font-size="12.5" fill="#1e1e1e" stroke="#1e1e1e" stroke-width="0.22">HeLa</text>
<rect x="48.10" y="494.20" width="63.80" height="16.30" fill="#e6e6e6"/>
<rect x="48.50" y="494.50" width="30.00" height="10.00" fill="#d2d2d2" filter="url(#bl2)"/>
<rect x="49.40" y="501.00" width="14.60" height="3.20" rx="1.60" fill="#0c0c0c" fill-opacity="0.95" filter="url(#bl)"/>
<rect x="64.45" y="501.10" width="14.10" height="3.00" rx="1.50" fill="#0c0c0c" fill-opacity="0.92" filter="url(#bl)"/>
<rect x="79.90" y="501.60" width="12.60" height="2.00" rx="1.00" fill="#0c0c0c" fill-opacity="0.35" filter="url(#bl)"/>
<rect x="94.70" y="501.60" width="13.60" height="2.00" rx="1.00" fill="#0c0c0c" fill-opacity="0.35" filter="url(#bl)"/>
<rect x="48.10" y="494.20" width="63.80" height="16.30" fill="none" stroke="#ababab" stroke-width="1"/>
<text x="116.00" y="506.75" font-size="12.5" fill="#1e1e1e" stroke="#1e1e1e" stroke-width="0.22">CPT1A</text>
<rect x="48.10" y="515.70" width="63.80" height="16.70" fill="#dadada"/>
<rect x="50.15" y="521.50" width="13.10" height="3.60" rx="1.80" fill="#0c0c0c" fill-opacity="1.00" filter="url(#bl)"/>
<rect x="64.70" y="522.30" width="13.60" height="4.00" rx="2.00" fill="#0c0c0c" fill-opacity="1.00" filter="url(#bl)"/>
<rect x="79.90" y="521.60" width="12.60" height="3.40" rx="1.70" fill="#0c0c0c" fill-opacity="0.95" filter="url(#bl)"/>
<rect x="94.70" y="521.60" width="13.60" height="3.40" rx="1.70" fill="#0c0c0c" fill-opacity="0.97" filter="url(#bl)"/>
<rect x="68.50" y="516.90" width="7.00" height="1.20" rx="0.60" fill="#0c0c0c" fill-opacity="0.35" filter="url(#bl)"/>
<rect x="52.00" y="530.20" width="10.00" height="1.20" rx="0.60" fill="#0c0c0c" fill-opacity="0.25" filter="url(#bl)"/>
<rect x="67.00" y="530.20" width="10.00" height="1.20" rx="0.60" fill="#0c0c0c" fill-opacity="0.25" filter="url(#bl)"/>
<rect x="81.50" y="526.05" width="10.00" height="1.50" rx="0.75" fill="#0c0c0c" fill-opacity="0.35" filter="url(#bl)"/>
<rect x="48.10" y="515.70" width="63.80" height="16.70" fill="none" stroke="#ababab" stroke-width="1"/>
<text x="116.00" y="528.45" font-size="12.5" fill="#1e1e1e" stroke="#1e1e1e" stroke-width="0.22">ACADVL</text>
<rect x="48.10" y="537.10" width="63.80" height="16.40" fill="#eeeeee"/>
<rect x="48.50" y="537.50" width="15.00" height="9.00" fill="#dcdcdc" filter="url(#bl2)"/>
<rect x="50.15" y="544.50" width="13.10" height="2.00" rx="1.00" fill="#0c0c0c" fill-opacity="0.25" filter="url(#bl)"/>
<rect x="64.45" y="544.50" width="14.10" height="3.60" rx="1.80" fill="#0c0c0c" fill-opacity="0.97" filter="url(#bl)"/>
<rect x="79.15" y="543.90" width="14.10" height="2.60" rx="1.30" fill="#0c0c0c" fill-opacity="0.75" filter="url(#bl)"/>
<rect x="93.95" y="542.10" width="15.10" height="3.80" rx="1.90" fill="#0c0c0c" fill-opacity="1.00" filter="url(#bl)"/>
<rect x="48.10" y="537.10" width="63.80" height="16.40" fill="none" stroke="#ababab" stroke-width="1"/>
<text x="116.00" y="549.70" font-size="12.5" fill="#1e1e1e" stroke="#1e1e1e" stroke-width="0.22">ACADM</text>
<rect x="48.10" y="558.20" width="63.80" height="16.30" fill="#ececec"/>
<rect x="48.50" y="558.50" width="28.00" height="7.00" fill="#d6d6d6" filter="url(#bl2)"/>
<rect x="49.90" y="564.30" width="13.60" height="2.60" rx="1.30" fill="#0c0c0c" fill-opacity="0.90" filter="url(#bl)"/>
<rect x="64.45" y="564.70" width="14.10" height="3.40" rx="1.70" fill="#0c0c0c" fill-opacity="1.00" filter="url(#bl)"/>
<rect x="79.90" y="565.10" width="12.60" height="2.00" rx="1.00" fill="#0c0c0c" fill-opacity="0.18" filter="url(#bl)"/>
<rect x="95.20" y="565.80" width="12.60" height="2.00" rx="1.00" fill="#0c0c0c" fill-opacity="0.13" filter="url(#bl)"/>
<rect x="48.10" y="558.20" width="63.80" height="16.30" fill="none" stroke="#ababab" stroke-width="1"/>
<text x="116.00" y="570.75" font-size="12.5" fill="#1e1e1e" stroke="#1e1e1e" stroke-width="0.22">ACADS</text>
<rect x="48.10" y="579.20" width="63.80" height="17.20" fill="#f0f0f0"/>
<rect x="49.40" y="586.40" width="14.60" height="2.80" rx="1.40" fill="#0c0c0c" fill-opacity="0.95" filter="url(#bl)"/>
<rect x="64.45" y="586.10" width="14.10" height="4.20" rx="2.10" fill="#0c0c0c" fill-opacity="1.00" filter="url(#bl)"/>
<rect x="79.65" y="586.70" width="13.10" height="2.80" rx="1.40" fill="#0c0c0c" fill-opacity="0.92" filter="url(#bl)"/>
<rect x="95.20" y="586.70" width="12.60" height="2.80" rx="1.40" fill="#0c0c0c" fill-opacity="0.92" filter="url(#bl)"/>
<rect x="48.10" y="579.20" width="63.80" height="17.20" fill="none" stroke="#ababab" stroke-width="1"/>
<text x="116.00" y="592.20" font-size="12.5" fill="#1e1e1e" stroke="#1e1e1e" stroke-width="0.22">ECHS1</text>
<rect x="48.10" y="601.10" width="63.80" height="16.30" fill="#c8c8c8"/>
<rect x="50.40" y="608.60" width="12.60" height="2.00" rx="1.00" fill="#0c0c0c" fill-opacity="0.60" filter="url(#bl)"/>
<rect x="64.95" y="607.60" width="13.10" height="5.00" rx="2.50" fill="#0c0c0c" fill-opacity="1.00" filter="url(#bl)"/>
<rect x="79.90" y="608.60" width="12.60" height="2.00" rx="1.00" fill="#0c0c0c" fill-opacity="0.12" filter="url(#bl)"/>
<rect x="95.20" y="608.60" width="12.60" height="2.00" rx="1.00" fill="#0c0c0c" fill-opacity="0.12" filter="url(#bl)"/>
<rect x="48.10" y="601.10" width="63.80" height="16.30" fill="none" stroke="#ababab" stroke-width="1"/>
<text x="116.00" y="613.65" font-size="12.5" fill="#1e1e1e" stroke="#1e1e1e" stroke-width="0.22">HADH</text>
<rect x="48.10" y="622.20" width="63.80" height="16.40" fill="#cdcdcd"/>
<rect x="48.65" y="629.90" width="16.10" height="3.80" rx="1.90" fill="#0c0c0c" fill-opacity="1.00" filter="url(#bl)"/>
<rect x="63.45" y="630.20" width="16.10" height="3.80" rx="1.90" fill="#0c0c0c" fill-opacity="1.00" filter="url(#bl)"/>
<rect x="78.15" y="629.90" width="16.10" height="3.60" rx="1.80" fill="#0c0c0c" fill-opacity="1.00" filter="url(#bl)"/>
<rect x="93.45" y="629.20" width="16.10" height="3.80" rx="1.90" fill="#0c0c0c" fill-opacity="1.00" filter="url(#bl)"/>
<rect x="48.10" y="622.20" width="63.80" height="16.40" fill="none" stroke="#ababab" stroke-width="1"/>
<text x="116.00" y="634.80" font-size="12.5" fill="#1e1e1e" stroke="#1e1e1e" stroke-width="0.22">Actin</text>
<text transform="translate(40.90,500.64) scale(0.9,1)" font-size="10.4" text-anchor="end" fill="#222" stroke="#222" stroke-width="0.22">95</text>
<line x1="42.90" y1="496.90" x2="46.30" y2="496.90" stroke="#333" stroke-width="0.9"/>
<text transform="translate(40.90,521.44) scale(0.9,1)" font-size="10.4" text-anchor="end" fill="#222" stroke="#222" stroke-width="0.22">75</text>
<line x1="42.90" y1="517.70" x2="46.30" y2="517.70" stroke="#333" stroke-width="0.9"/>
<text transform="translate(40.90,554.54) scale(0.9,1)" font-size="10.4" text-anchor="end" fill="#222" stroke="#222" stroke-width="0.22">43</text>
<line x1="42.90" y1="550.80" x2="46.30" y2="550.80" stroke="#333" stroke-width="0.9"/>
<text transform="translate(40.90,572.54) scale(0.9,1)" font-size="10.4" text-anchor="end" fill="#222" stroke="#222" stroke-width="0.22">43</text>
<line x1="42.90" y1="568.80" x2="46.30" y2="568.80" stroke="#333" stroke-width="0.9"/>
<text transform="translate(40.90,589.04) scale(0.9,1)" font-size="10.4" text-anchor="end" fill="#222" stroke="#222" stroke-width="0.22">33</text>
<line x1="42.90" y1="585.30" x2="46.30" y2="585.30" stroke="#333" stroke-width="0.9"/>
<text transform="translate(40.90,616.04) scale(0.9,1)" font-size="10.4" text-anchor="end" fill="#222" stroke="#222" stroke-width="0.22">33</text>
<line x1="42.90" y1="612.30" x2="46.30" y2="612.30" stroke="#333" stroke-width="0.9"/>
<text transform="translate(40.90,638.74) scale(0.9,1)" font-size="10.4" text-anchor="end" fill="#222" stroke="#222" stroke-width="0.22">43</text>
<line x1="42.90" y1="635.00" x2="46.30" y2="635.00" stroke="#333" stroke-width="0.9"/>
<text x="31.00" y="649.00" font-size="9.8" fill="#1e1e1e" stroke="#1e1e1e" stroke-width="0.22">kDa</text>
<rect x="196.10" y="561.50" width="4.70" height="31.90" fill="#cfe2f7"/>
<line x1="196.70" y1="561.80" x2="200.20" y2="561.80" stroke="#333" stroke-width="0.9"/>
<rect x="203.10" y="568.20" width="4.70" height="25.20" fill="#65a2f8"/>
<line x1="203.70" y1="568.50" x2="207.20" y2="568.50" stroke="#333" stroke-width="0.9"/>
<rect x="210.10" y="583.51" width="4.70" height="9.89" fill="#f7d9dc"/>
<line x1="210.70" y1="583.81" x2="214.20" y2="583.81" stroke="#333" stroke-width="0.9"/>
<rect x="217.10" y="584.79" width="4.70" height="8.61" fill="#f27880"/>
<line x1="217.70" y1="585.09" x2="221.20" y2="585.09" stroke="#333" stroke-width="0.9"/>
<rect x="228.50" y="561.82" width="4.70" height="31.58" fill="#cfe2f7"/>
<line x1="229.10" y1="562.12" x2="232.60" y2="562.12" stroke="#333" stroke-width="0.9"/>
<rect x="235.50" y="561.50" width="4.70" height="31.90" fill="#65a2f8"/>
<line x1="236.10" y1="561.80" x2="239.60" y2="561.80" stroke="#333" stroke-width="0.9"/>
<rect x="242.50" y="561.50" width="4.70" height="31.90" fill="#f7d9dc"/>
<line x1="243.10" y1="561.80" x2="246.60" y2="561.80" stroke="#333" stroke-width="0.9"/>
<rect x="249.50" y="562.46" width="4.70" height="30.94" fill="#f27880"/>
<line x1="250.10" y1="562.76" x2="253.60" y2="562.76" stroke="#333" stroke-width="0.9"/>
<rect x="260.90" y="562.46" width="4.70" height="30.94" fill="#cfe2f7"/>
<line x1="261.50" y1="562.76" x2="265.00" y2="562.76" stroke="#333" stroke-width="0.9"/>
<rect x="267.90" y="527.05" width="4.70" height="66.35" fill="#65a2f8"/>
<line x1="268.50" y1="527.35" x2="272.00" y2="527.35" stroke="#333" stroke-width="0.9"/>
<rect x="274.90" y="544.27" width="4.70" height="49.13" fill="#f7d9dc"/>
<line x1="275.50" y1="544.57" x2="279.00" y2="544.57" stroke="#333" stroke-width="0.9"/>
<rect x="281.90" y="515.88" width="4.70" height="77.52" fill="#f27880"/>
<line x1="282.50" y1="516.18" x2="286.00" y2="516.18" stroke="#333" stroke-width="0.9"/>
<rect x="293.30" y="561.82" width="4.70" height="31.58" fill="#cfe2f7"/>
<line x1="293.90" y1="562.12" x2="297.40" y2="562.12" stroke="#333" stroke-width="0.9"/>
<rect x="300.30" y="557.03" width="4.70" height="36.37" fill="#65a2f8"/>
<line x1="300.90" y1="557.33" x2="304.40" y2="557.33" stroke="#333" stroke-width="0.9"/>
<rect x="307.30" y="584.15" width="4.70" height="9.25" fill="#f7d9dc"/>
<line x1="307.90" y1="584.45" x2="311.40" y2="584.45" stroke="#333" stroke-width="0.9"/>
<rect x="314.30" y="587.34" width="4.70" height="6.06" fill="#f27880"/>
<line x1="314.90" y1="587.64" x2="318.40" y2="587.64" stroke="#333" stroke-width="0.9"/>
<rect x="325.70" y="561.50" width="4.70" height="31.90" fill="#cfe2f7"/>
<line x1="326.30" y1="561.80" x2="329.80" y2="561.80" stroke="#333" stroke-width="0.9"/>
<rect x="332.70" y="551.93" width="4.70" height="41.47" fill="#65a2f8"/>
<line x1="333.30" y1="552.23" x2="336.80" y2="552.23" stroke="#333" stroke-width="0.9"/>
<rect x="339.70" y="564.05" width="4.70" height="29.35" fill="#f7d9dc"/>
<line x1="340.30" y1="564.35" x2="343.80" y2="564.35" stroke="#333" stroke-width="0.9"/>
<rect x="346.70" y="568.20" width="4.70" height="25.20" fill="#f27880"/>
<line x1="347.30" y1="568.50" x2="350.80" y2="568.50" stroke="#333" stroke-width="0.9"/>
<rect x="358.10" y="561.50" width="4.70" height="31.90" fill="#cfe2f7"/>
<line x1="358.70" y1="561.80" x2="362.20" y2="561.80" stroke="#333" stroke-width="0.9"/>
<rect x="365.10" y="579.36" width="4.70" height="14.04" fill="#65a2f8"/>
<line x1="365.70" y1="579.66" x2="369.20" y2="579.66" stroke="#333" stroke-width="0.9"/>
<rect x="372.10" y="554.48" width="4.70" height="38.92" fill="#f7d9dc"/>
<line x1="372.70" y1="554.78" x2="376.20" y2="554.78" stroke="#333" stroke-width="0.9"/>
<rect x="379.10" y="555.44" width="4.70" height="37.96" fill="#f27880"/>
<line x1="379.70" y1="555.74" x2="383.20" y2="555.74" stroke="#333" stroke-width="0.9"/>
<line x1="193.10" y1="594.00" x2="193.10" y2="497.10" stroke="#3a3a3a" stroke-width="1.2"/>
<line x1="190.10" y1="593.40" x2="193.10" y2="593.40" stroke="#3a3a3a" stroke-width="1.2"/>
<text x="188.60" y="597.72" font-size="12" text-anchor="end" fill="#1e1e1e" stroke="#1e1e1e" stroke-width="0.22">0</text>
<line x1="190.10" y1="561.50" x2="193.10" y2="561.50" stroke="#3a3a3a" stroke-width="1.2"/>
<text x="188.60" y="565.82" font-size="12" text-anchor="end" fill="#1e1e1e" stroke="#1e1e1e" stroke-width="0.22">1</text>
<line x1="190.10" y1="529.60" x2="193.10" y2="529.60" stroke="#3a3a3a" stroke-width="1.2"/>
<text x="188.60" y="533.92" font-size="12" text-anchor="end" fill="#1e1e1e" stroke="#1e1e1e" stroke-width="0.22">2</text>
<line x1="190.10" y1="497.70" x2="193.10" y2="497.70" stroke="#3a3a3a" stroke-width="1.2"/>
<text x="188.60" y="502.02" font-size="12" text-anchor="end" fill="#1e1e1e" stroke="#1e1e1e" stroke-width="0.22">3</text>
<line x1="192.50" y1="593.40" x2="386.50" y2="593.40" stroke="#3a3a3a" stroke-width="1.2"/>
<line x1="208.90" y1="593.40" x2="208.90" y2="595.90" stroke="#3a3a3a" stroke-width="1.2"/>
<line x1="241.30" y1="593.40" x2="241.30" y2="595.90" stroke="#3a3a3a" stroke-width="1.2"/>
<line x1="273.70" y1="593.40" x2="273.70" y2="595.90" stroke="#3a3a3a" stroke-width="1.2"/>
<line x1="306.10" y1="593.40" x2="306.10" y2="595.90" stroke="#3a3a3a" stroke-width="1.2"/>
<line x1="338.50" y1="593.40" x2="338.50" y2="595.90" stroke="#3a3a3a" stroke-width="1.2"/>
<line x1="370.90" y1="593.40" x2="370.90" y2="595.90" stroke="#3a3a3a" stroke-width="1.2"/>
<text transform="translate(213.30,597.00) rotate(-90)" font-size="12.5" text-anchor="end" fill="#1e1e1e" stroke="#1e1e1e" stroke-width="0.22">CPT1A</text>
<text transform="translate(245.70,597.00) rotate(-90)" font-size="12.5" text-anchor="end" fill="#1e1e1e" stroke="#1e1e1e" stroke-width="0.22">ACADVL</text>
<text transform="translate(278.10,597.00) rotate(-90)" font-size="12.5" text-anchor="end" fill="#1e1e1e" stroke="#1e1e1e" stroke-width="0.22">ACADM</text>
<text transform="translate(310.50,597.00) rotate(-90)" font-size="12.5" text-anchor="end" fill="#1e1e1e" stroke="#1e1e1e" stroke-width="0.22">ACADS</text>
<text transform="translate(342.90,597.00) rotate(-90)" font-size="12.5" text-anchor="end" fill="#1e1e1e" stroke="#1e1e1e" stroke-width="0.22">ECHS1</text>
<text transform="translate(375.30,597.00) rotate(-90)" font-size="12.5" text-anchor="end" fill="#1e1e1e" stroke="#1e1e1e" stroke-width="0.22">HADH</text>
<text transform="translate(176.60,545.20) rotate(-90)" font-size="12.5" text-anchor="middle" fill="#1e1e1e" stroke="#1e1e1e" stroke-width="0.22">Relative Protein Level (A.U.)</text>
<rect x="187.40" y="467.30" width="5.60" height="4.60" fill="#cfe2f7"/>
<text x="196.60" y="474.00" font-size="12.5" fill="#1e1e1e" stroke="#1e1e1e" stroke-width="0.22">KATO-III</text>
<rect x="251.00" y="467.30" width="5.60" height="4.60" fill="#65a2f8"/>
<text x="258.50" y="474.00" font-size="12.5" fill="#1e1e1e" stroke="#1e1e1e" stroke-width="0.22">MKN-45</text>
<rect x="308.00" y="467.30" width="5.60" height="4.60" fill="#f7d9dc"/>
<text x="316.50" y="474.00" font-size="12.5" fill="#1e1e1e" stroke="#1e1e1e" stroke-width="0.22">MKN-1</text>
<rect x="359.00" y="467.30" width="5.60" height="4.60" fill="#f27880"/>
<text x="367.90" y="474.00" font-size="12.5" fill="#1e1e1e" stroke="#1e1e1e" stroke-width="0.22">HeLa</text>
<text x="209.50" y="526.20" font-size="12.5" text-anchor="middle" fill="#111" stroke="#111" stroke-width="0.3">****</text>
<line x1="199.00" y1="523.20" x2="218.90" y2="523.20" stroke="#6e6e6e" stroke-width="1.2"/>
<text x="213.25" y="535.50" font-size="12.5" text-anchor="middle" fill="#111" stroke="#111" stroke-width="0.3">****</text>
<line x1="205.90" y1="533.20" x2="218.90" y2="533.20" stroke="#6e6e6e" stroke-width="1.2"/>
<text x="205.80" y="544.60" font-size="12.5" text-anchor="middle" fill="#111" stroke="#111" stroke-width="0.3">****</text>
<line x1="199.60" y1="542.50" x2="211.20" y2="542.50" stroke="#6e6e6e" stroke-width="1.2"/>
<text x="208.90" y="555.10" font-size="12.5" text-anchor="middle" fill="#111" stroke="#111" stroke-width="0.3">****</text>
<line x1="206.30" y1="553.40" x2="212.40" y2="553.40" stroke="#6e6e6e" stroke-width="1.2"/>
<text x="275.30" y="487.10" font-size="12.5" text-anchor="middle" fill="#111" stroke="#111" stroke-width="0.3">****</text>
<line x1="264.40" y1="486.30" x2="284.20" y2="486.30" stroke="#6e6e6e" stroke-width="1.2"/>
<text x="278.25" y="498.20" font-size="12.5" text-anchor="middle" fill="#111" stroke="#111" stroke-width="0.3">****</text>
<line x1="271.10" y1="496.40" x2="284.20" y2="496.40" stroke="#6e6e6e" stroke-width="1.2"/>
<text x="271.50" y="508.20" font-size="12.5" text-anchor="middle" fill="#111" stroke="#111" stroke-width="0.3">****</text>
<line x1="264.40" y1="505.70" x2="276.40" y2="505.70" stroke="#6e6e6e" stroke-width="1.2"/>
<text x="273.90" y="518.30" font-size="12.5" text-anchor="middle" fill="#111" stroke="#111" stroke-width="0.3">****</text>
<line x1="271.50" y1="516.20" x2="277.20" y2="516.20" stroke="#6e6e6e" stroke-width="1.2"/>
<text x="307.65" y="520.10" font-size="12.5" text-anchor="middle" fill="#111" stroke="#111" stroke-width="0.3">****</text>
<line x1="296.70" y1="519.40" x2="318.10" y2="519.40" stroke="#6e6e6e" stroke-width="1.2"/>
<text x="311.10" y="530.60" font-size="12.5" text-anchor="middle" fill="#111" stroke="#111" stroke-width="0.3">****</text>
<line x1="304.10" y1="529.00" x2="318.60" y2="529.00" stroke="#6e6e6e" stroke-width="1.2"/>
<text x="303.65" y="540.20" font-size="12.5" text-anchor="middle" fill="#111" stroke="#111" stroke-width="0.3">****</text>
<line x1="296.70" y1="538.00" x2="310.00" y2="538.00" stroke="#6e6e6e" stroke-width="1.2"/>
<text x="307.25" y="549.30" font-size="12.5" text-anchor="middle" fill="#111" stroke="#111" stroke-width="0.3">****</text>
<line x1="304.50" y1="548.30" x2="310.60" y2="548.30" stroke="#6e6e6e" stroke-width="1.2"/>
<text x="338.20" y="518.50" font-size="12.5" text-anchor="middle" fill="#111" stroke="#111" stroke-width="0.3">****</text>
<line x1="328.20" y1="519.40" x2="347.80" y2="519.40" stroke="#6e6e6e" stroke-width="1.2"/>
<text x="341.35" y="530.90" font-size="12.5" text-anchor="middle" fill="#111" stroke="#111" stroke-width="0.3">****</text>
<line x1="335.00" y1="529.00" x2="348.10" y2="529.00" stroke="#6e6e6e" stroke-width="1.2"/>
<text x="334.40" y="540.80" font-size="12.5" text-anchor="middle" fill="#111" stroke="#111" stroke-width="0.3">****</text>
<line x1="328.20" y1="538.00" x2="340.10" y2="538.00" stroke="#6e6e6e" stroke-width="1.2"/>
<text x="337.75" y="551.70" font-size="12.5" text-anchor="middle" fill="#111" stroke="#111" stroke-width="0.3">****</text>
<line x1="335.30" y1="548.80" x2="341.00" y2="548.80" stroke="#6e6e6e" stroke-width="1.2"/>
<text x="370.15" y="515.10" font-size="12.5" text-anchor="middle" fill="#111" stroke="#111" stroke-width="0.3">****</text>
<line x1="360.70" y1="515.80" x2="380.00" y2="515.80" stroke="#6e6e6e" stroke-width="1.2"/>
<text x="373.10" y="528.00" font-size="12.5" text-anchor="middle" fill="#111" stroke="#111" stroke-width="0.3">****</text>
<line x1="367.10" y1="526.30" x2="380.70" y2="526.30" stroke="#6e6e6e" stroke-width="1.2"/>
<text x="366.65" y="539.70" font-size="12.5" text-anchor="middle" fill="#111" stroke="#111" stroke-width="0.3">****</text>
<line x1="360.70" y1="538.00" x2="372.70" y2="538.00" stroke="#6e6e6e" stroke-width="1.2"/>
<text x="370.15" y="551.70" font-size="12.5" text-anchor="middle" fill="#111" stroke="#111" stroke-width="0.3">****</text>
<line x1="367.40" y1="548.30" x2="373.50" y2="548.30" stroke="#6e6e6e" stroke-width="1.2"/>
<text x="241.05" y="511.00" font-size="11.8" text-anchor="middle" fill="#1e1e1e" stroke="#1e1e1e" stroke-width="0.22">ns</text>
<line x1="231.20" y1="513.00" x2="251.00" y2="513.00" stroke="#6e6e6e" stroke-width="1.2"/>
<text x="244.10" y="523.60" font-size="11.8" text-anchor="middle" fill="#1e1e1e" stroke="#1e1e1e" stroke-width="0.22">ns</text>
<line x1="237.50" y1="525.70" x2="251.00" y2="525.70" stroke="#6e6e6e" stroke-width="1.2"/>
<text x="237.10" y="537.60" font-size="11.8" text-anchor="middle" fill="#1e1e1e" stroke="#1e1e1e" stroke-width="0.22">ns</text>
<line x1="231.20" y1="540.80" x2="242.70" y2="540.80" stroke="#6e6e6e" stroke-width="1.2"/>
<text x="241.30" y="551.60" font-size="11.8" text-anchor="middle" fill="#1e1e1e" stroke="#1e1e1e" stroke-width="0.22">ns</text>
<line x1="237.80" y1="555.10" x2="244.00" y2="555.10" stroke="#6e6e6e" stroke-width="1.2"/>
<text x="0.00" y="679.50" font-size="15.5" font-weight="bold" fill="#000" stroke="#000" stroke-width="0.22">D</text>
<text x="50.40" y="701.20" font-size="12.4" font-weight="bold" fill="#000" stroke="#000" stroke-width="0.22">Cancer tissues</text>
<text x="46.00" y="722.40" font-size="12.5" fill="#1e1e1e" stroke="#1e1e1e" stroke-width="0.22">18F-FDG-PET/CT</text>
<text x="46.00" y="735.60" font-size="12.5" fill="#1e1e1e" stroke="#1e1e1e" stroke-width="0.22">Negative Positive</text>
<line x1="49.90" y1="743.60" x2="93.70" y2="743.60" stroke="#6e6e6e" stroke-width="1.6"/>
<line x1="98.10" y1="743.60" x2="141.90" y2="743.60" stroke="#6e6e6e" stroke-width="1.6"/>
<text x="7.00" y="760.30" font-size="12.5" fill="#1e1e1e" stroke="#1e1e1e" stroke-width="0.22">Patient</text>
<text x="55.20" y="760.30" font-size="12.5" text-anchor="middle" fill="#1e1e1e" stroke="#1e1e1e" stroke-width="0.22">1</text>
<text x="71.80" y="760.30" font-size="12.5" text-anchor="middle" fill="#1e1e1e" stroke="#1e1e1e" stroke-width="0.22">2</text>
<text x="86.90" y="760.30" font-size="12.5" text-anchor="middle" fill="#1e1e1e" stroke="#1e1e1e" stroke-width="0.22">3</text>
<text x="104.00" y="760.30" font-size="12.5" text-anchor="middle" fill="#1e1e1e" stroke="#1e1e1e" stroke-width="0.22">4</text>
<text x="119.30" y="760.30" font-size="12.5" text-anchor="middle" fill="#1e1e1e" stroke="#1e1e1e" stroke-width="0.22">5</text>
<text x="134.00" y="760.30" font-size="12.5" text-anchor="middle" fill="#1e1e1e" stroke="#1e1e1e" stroke-width="0.22">6</text>
<rect x="46.90" y="764.90" width="94.10" height="16.30" fill="#b6b6b6"/>
<rect x="61.50" y="765.50" width="3.50" height="15.00" fill="#c6c6c6" filter="url(#bl2)"/>
<rect x="78.50" y="765.50" width="3.50" height="15.00" fill="#c4c4c4" filter="url(#bl2)"/>
<rect x="96.00" y="765.50" width="3.50" height="15.00" fill="#c6c6c6" filter="url(#bl2)"/>
<rect x="111.00" y="765.50" width="3.50" height="15.00" fill="#c4c4c4" filter="url(#bl2)"/>
<rect x="126.00" y="765.50" width="3.50" height="15.00" fill="#c4c4c4" filter="url(#bl2)"/>
<rect x="49.35" y="772.00" width="12.50" height="2.80" rx="1.40" fill="#0c0c0c" fill-opacity="0.92" filter="url(#bl)"/>
<rect x="66.00" y="772.00" width="12.00" height="2.80" rx="1.40" fill="#0c0c0c" fill-opacity="0.92" filter="url(#bl)"/>
<rect x="81.90" y="771.80" width="12.00" height="3.20" rx="1.60" fill="#0c0c0c" fill-opacity="0.95" filter="url(#bl)"/>
<rect x="98.30" y="772.20" width="11.00" height="2.40" rx="1.20" fill="#0c0c0c" fill-opacity="0.60" filter="url(#bl)"/>
<rect x="113.00" y="772.00" width="12.00" height="2.80" rx="1.40" fill="#0c0c0c" fill-opacity="0.88" filter="url(#bl)"/>
<rect x="128.00" y="772.00" width="12.00" height="2.80" rx="1.40" fill="#0c0c0c" fill-opacity="0.85" filter="url(#bl)"/>
<rect x="46.90" y="764.90" width="94.10" height="16.30" fill="none" stroke="#ababab" stroke-width="1"/>
<text x="145.90" y="777.45" font-size="12.5" fill="#1e1e1e" stroke="#1e1e1e" stroke-width="0.22">CPT1A</text>
<rect x="46.90" y="785.10" width="94.10" height="16.50" fill="#d0d0d0"/>
<rect x="49.35" y="791.80" width="12.50" height="3.20" rx="1.60" fill="#0c0c0c" fill-opacity="0.95" filter="url(#bl)"/>
<rect x="65.50" y="791.60" width="13.00" height="3.60" rx="1.80" fill="#0c0c0c" fill-opacity="1.00" filter="url(#bl)"/>
<rect x="81.40" y="792.60" width="13.00" height="3.20" rx="1.60" fill="#0c0c0c" fill-opacity="0.85" filter="url(#bl)"/>
<rect x="97.80" y="791.70" width="12.00" height="3.40" rx="1.70" fill="#0c0c0c" fill-opacity="0.95" filter="url(#bl)"/>
<rect x="113.00" y="792.20" width="12.00" height="3.40" rx="1.70" fill="#0c0c0c" fill-opacity="0.90" filter="url(#bl)"/>
<rect x="129.00" y="793.10" width="10.00" height="2.60" rx="1.30" fill="#0c0c0c" fill-opacity="0.75" filter="url(#bl)"/>
<rect x="46.90" y="785.10" width="94.10" height="16.50" fill="none" stroke="#ababab" stroke-width="1"/>
<text x="145.90" y="797.75" font-size="12.5" fill="#1e1e1e" stroke="#1e1e1e" stroke-width="0.22">ACADVL</text>
<rect x="46.90" y="805.40" width="94.10" height="16.00" fill="#e3e3e3"/>
<rect x="49.35" y="812.00" width="12.50" height="2.60" rx="1.30" fill="#0c0c0c" fill-opacity="0.85" filter="url(#bl)"/>
<rect x="65.25" y="811.10" width="13.50" height="3.80" rx="1.90" fill="#0c0c0c" fill-opacity="1.00" filter="url(#bl)"/>
<rect x="80.90" y="812.60" width="14.00" height="2.60" rx="1.30" fill="#0c0c0c" fill-opacity="0.70" filter="url(#bl)"/>
<rect x="97.30" y="811.70" width="13.00" height="3.20" rx="1.60" fill="#0c0c0c" fill-opacity="0.95" filter="url(#bl)"/>
<rect x="112.25" y="812.10" width="13.50" height="3.20" rx="1.60" fill="#0c0c0c" fill-opacity="0.95" filter="url(#bl)"/>
<rect x="127.75" y="812.10" width="12.50" height="3.00" rx="1.50" fill="#0c0c0c" fill-opacity="0.90" filter="url(#bl)"/>
<rect x="46.90" y="805.40" width="94.10" height="16.00" fill="none" stroke="#ababab" stroke-width="1"/>
<text x="145.90" y="817.80" font-size="12.5" fill="#1e1e1e" stroke="#1e1e1e" stroke-width="0.22">ACADM</text>
<rect x="46.90" y="825.50" width="94.10" height="16.20" fill="#e0e0e0"/>
<rect x="49.10" y="832.80" width="13.00" height="2.80" rx="1.40" fill="#0c0c0c" fill-opacity="0.85" filter="url(#bl)"/>
<rect x="64.50" y="832.00" width="15.00" height="4.40" rx="2.20" fill="#0c0c0c" fill-opacity="1.00" filter="url(#bl)"/>
<rect x="80.65" y="832.20" width="14.50" height="4.00" rx="2.00" fill="#0c0c0c" fill-opacity="0.95" filter="url(#bl)"/>
<rect x="98.05" y="832.90" width="11.50" height="2.60" rx="1.30" fill="#0c0c0c" fill-opacity="0.80" filter="url(#bl)"/>
<rect x="112.75" y="832.80" width="12.50" height="2.80" rx="1.40" fill="#0c0c0c" fill-opacity="0.80" filter="url(#bl)"/>
<rect x="128.50" y="833.00" width="11.00" height="2.40" rx="1.20" fill="#0c0c0c" fill-opacity="0.75" filter="url(#bl)"/>
<rect x="46.90" y="825.50" width="94.10" height="16.20" fill="none" stroke="#ababab" stroke-width="1"/>
<text x="145.90" y="838.00" font-size="12.5" fill="#1e1e1e" stroke="#1e1e1e" stroke-width="0.22">ACADS</text>
<rect x="46.90" y="845.90" width="94.10" height="15.80" fill="#e8e8e8"/>
<rect x="49.85" y="852.50" width="11.50" height="3.00" rx="1.50" fill="#0c0c0c" fill-opacity="0.95" filter="url(#bl)"/>
<rect x="64.25" y="851.00" width="15.50" height="6.00" rx="3.00" fill="#0c0c0c" fill-opacity="1.00" filter="url(#bl)"/>
<rect x="80.65" y="851.60" width="14.50" height="5.40" rx="2.70" fill="#0c0c0c" fill-opacity="1.00" filter="url(#bl)"/>
<rect x="97.30" y="851.80" width="13.00" height="4.40" rx="2.20" fill="#0c0c0c" fill-opacity="1.00" filter="url(#bl)"/>
<rect x="112.25" y="851.30" width="13.50" height="4.80" rx="2.40" fill="#0c0c0c" fill-opacity="1.00" filter="url(#bl)"/>
<rect x="127.75" y="851.90" width="12.50" height="5.20" rx="2.60" fill="#0c0c0c" fill-opacity="1.00" filter="url(#bl)"/>
<rect x="46.90" y="845.90" width="94.10" height="15.80" fill="none" stroke="#ababab" stroke-width="1"/>
<text x="145.90" y="858.20" font-size="12.5" fill="#1e1e1e" stroke="#1e1e1e" stroke-width="0.22">ECHS1</text>
<rect x="46.90" y="866.00" width="94.10" height="16.00" fill="#c3c3c3"/>
<rect x="47.50" y="866.50" width="2.50" height="15.00" fill="#555555" filter="url(#bl2)"/>
<rect x="50.10" y="873.00" width="11.00" height="2.00" rx="1.00" fill="#0c0c0c" fill-opacity="0.10" filter="url(#bl)"/>
<rect x="66.00" y="871.80" width="12.00" height="4.40" rx="2.20" fill="#0c0c0c" fill-opacity="1.00" filter="url(#bl)"/>
<rect x="82.15" y="871.80" width="11.50" height="4.40" rx="2.20" fill="#0c0c0c" fill-opacity="0.92" filter="url(#bl)"/>
<rect x="98.30" y="872.80" width="11.00" height="2.40" rx="1.20" fill="#0c0c0c" fill-opacity="0.18" filter="url(#bl)"/>
<rect x="113.50" y="873.00" width="11.00" height="2.00" rx="1.00" fill="#0c0c0c" fill-opacity="0.10" filter="url(#bl)"/>
<rect x="128.50" y="873.00" width="11.00" height="2.00" rx="1.00" fill="#0c0c0c" fill-opacity="0.10" filter="url(#bl)"/>
<rect x="46.90" y="866.00" width="94.10" height="16.00" fill="none" stroke="#ababab" stroke-width="1"/>
<text x="145.90" y="878.40" font-size="12.5" fill="#1e1e1e" stroke="#1e1e1e" stroke-width="0.22">HADH</text>
<rect x="46.90" y="886.40" width="94.10" height="15.60" fill="#e6e6e6"/>
<rect x="48.85" y="892.40" width="13.50" height="3.60" rx="1.80" fill="#0c0c0c" fill-opacity="1.00" filter="url(#bl)"/>
<rect x="65.25" y="892.40" width="13.50" height="3.60" rx="1.80" fill="#0c0c0c" fill-opacity="1.00" filter="url(#bl)"/>
<rect x="81.40" y="892.50" width="13.00" height="3.40" rx="1.70" fill="#0c0c0c" fill-opacity="1.00" filter="url(#bl)"/>
<rect x="97.05" y="892.40" width="13.50" height="3.60" rx="1.80" fill="#0c0c0c" fill-opacity="1.00" filter="url(#bl)"/>
<rect x="112.50" y="892.50" width="13.00" height="3.40" rx="1.70" fill="#0c0c0c" fill-opacity="1.00" filter="url(#bl)"/>
<rect x="127.50" y="892.40" width="13.00" height="3.60" rx="1.80" fill="#0c0c0c" fill-opacity="1.00" filter="url(#bl)"/>
<rect x="46.90" y="886.40" width="94.10" height="15.60" fill="none" stroke="#ababab" stroke-width="1"/>
<text x="145.90" y="898.60" font-size="12.5" fill="#1e1e1e" stroke="#1e1e1e" stroke-width="0.22">Actin</text>
<text transform="translate(41.60,770.74) scale(0.9,1)" font-size="10.4" text-anchor="end" fill="#222" stroke="#222" stroke-width="0.22">95</text>
<line x1="43.60" y1="767.30" x2="47.00" y2="767.30" stroke="#333" stroke-width="0.9"/>
<text transform="translate(41.60,792.24) scale(0.9,1)" font-size="10.4" text-anchor="end" fill="#222" stroke="#222" stroke-width="0.22">75</text>
<line x1="43.60" y1="788.50" x2="47.00" y2="788.50" stroke="#333" stroke-width="0.9"/>
<text transform="translate(41.60,821.14) scale(0.9,1)" font-size="10.4" text-anchor="end" fill="#222" stroke="#222" stroke-width="0.22">43</text>
<line x1="43.60" y1="817.40" x2="47.00" y2="817.40" stroke="#333" stroke-width="0.9"/>
<text transform="translate(41.60,840.84) scale(0.9,1)" font-size="10.4" text-anchor="end" fill="#222" stroke="#222" stroke-width="0.22">43</text>
<line x1="43.60" y1="837.10" x2="47.00" y2="837.10" stroke="#333" stroke-width="0.9"/>
<text transform="translate(41.60,856.84) scale(0.9,1)" font-size="10.4" text-anchor="end" fill="#222" stroke="#222" stroke-width="0.22">33</text>
<line x1="43.60" y1="853.10" x2="47.00" y2="853.10" stroke="#333" stroke-width="0.9"/>
<text transform="translate(41.60,877.74) scale(0.9,1)" font-size="10.4" text-anchor="end" fill="#222" stroke="#222" stroke-width="0.22">33</text>
<line x1="43.60" y1="874.00" x2="47.00" y2="874.00" stroke="#333" stroke-width="0.9"/>
<text transform="translate(41.60,902.44) scale(0.9,1)" font-size="10.4" text-anchor="end" fill="#222" stroke="#222" stroke-width="0.22">43</text>
<line x1="43.60" y1="898.70" x2="47.00" y2="898.70" stroke="#333" stroke-width="0.9"/>
<text x="31.40" y="914.00" font-size="9.8" fill="#1e1e1e" stroke="#1e1e1e" stroke-width="0.22">kDa</text>
<rect x="232.60" y="796.90" width="7.20" height="55.10" fill="#65a2f8"/>
<rect x="243.10" y="827.76" width="7.20" height="24.24" fill="#f27880"/>
<rect x="260.70" y="796.90" width="7.20" height="55.10" fill="#65a2f8"/>
<rect x="271.20" y="800.76" width="7.20" height="51.24" fill="#f27880"/>
<rect x="288.80" y="796.90" width="7.20" height="55.10" fill="#65a2f8"/>
<rect x="299.30" y="789.74" width="7.20" height="62.26" fill="#f27880"/>
<rect x="316.90" y="796.90" width="7.20" height="55.10" fill="#65a2f8"/>
<rect x="327.40" y="813.43" width="7.20" height="38.57" fill="#f27880"/>
<rect x="345.00" y="796.90" width="7.20" height="55.10" fill="#65a2f8"/>
<rect x="355.50" y="794.70" width="7.20" height="57.30" fill="#f27880"/>
<rect x="373.10" y="796.90" width="7.20" height="55.10" fill="#65a2f8"/>
<rect x="383.60" y="828.31" width="7.20" height="23.69" fill="#f27880"/>
<line x1="236.20" y1="785.88" x2="236.20" y2="807.92" stroke="#999" stroke-width="0.9"/>
<line x1="234.00" y1="785.88" x2="238.40" y2="785.88" stroke="#999" stroke-width="0.9"/>
<line x1="234.00" y1="807.92" x2="238.40" y2="807.92" stroke="#999" stroke-width="0.9"/>
<line x1="246.70" y1="823.35" x2="246.70" y2="832.16" stroke="#333" stroke-width="0.9"/>
<line x1="244.50" y1="823.35" x2="248.90" y2="823.35" stroke="#333" stroke-width="0.9"/>
<line x1="244.50" y1="832.16" x2="248.90" y2="832.16" stroke="#333" stroke-width="0.9"/>
<line x1="264.30" y1="791.39" x2="264.30" y2="802.41" stroke="#222" stroke-width="0.9"/>
<line x1="262.10" y1="791.39" x2="266.50" y2="791.39" stroke="#222" stroke-width="0.9"/>
<line x1="262.10" y1="802.41" x2="266.50" y2="802.41" stroke="#222" stroke-width="0.9"/>
<line x1="274.80" y1="793.59" x2="274.80" y2="807.92" stroke="#333" stroke-width="0.9"/>
<line x1="272.60" y1="793.59" x2="277.00" y2="793.59" stroke="#333" stroke-width="0.9"/>
<line x1="272.60" y1="807.92" x2="277.00" y2="807.92" stroke="#333" stroke-width="0.9"/>
<line x1="292.40" y1="785.88" x2="292.40" y2="807.92" stroke="#222" stroke-width="0.9"/>
<line x1="290.20" y1="785.88" x2="294.60" y2="785.88" stroke="#222" stroke-width="0.9"/>
<line x1="290.20" y1="807.92" x2="294.60" y2="807.92" stroke="#222" stroke-width="0.9"/>
<line x1="302.90" y1="784.23" x2="302.90" y2="795.25" stroke="#333" stroke-width="0.9"/>
<line x1="300.70" y1="784.23" x2="305.10" y2="784.23" stroke="#333" stroke-width="0.9"/>
<line x1="300.70" y1="795.25" x2="305.10" y2="795.25" stroke="#333" stroke-width="0.9"/>
<line x1="320.50" y1="785.88" x2="320.50" y2="807.92" stroke="#222" stroke-width="0.9"/>
<line x1="318.30" y1="785.88" x2="322.70" y2="785.88" stroke="#222" stroke-width="0.9"/>
<line x1="318.30" y1="807.92" x2="322.70" y2="807.92" stroke="#222" stroke-width="0.9"/>
<line x1="331.00" y1="805.16" x2="331.00" y2="821.70" stroke="#333" stroke-width="0.9"/>
<line x1="328.80" y1="805.16" x2="333.20" y2="805.16" stroke="#333" stroke-width="0.9"/>
<line x1="328.80" y1="821.70" x2="333.20" y2="821.70" stroke="#333" stroke-width="0.9"/>
<line x1="348.60" y1="788.63" x2="348.60" y2="805.16" stroke="#222" stroke-width="0.9"/>
<line x1="346.40" y1="788.63" x2="350.80" y2="788.63" stroke="#222" stroke-width="0.9"/>
<line x1="346.40" y1="805.16" x2="350.80" y2="805.16" stroke="#222" stroke-width="0.9"/>
<line x1="359.10" y1="788.08" x2="359.10" y2="801.31" stroke="#333" stroke-width="0.9"/>
<line x1="356.90" y1="788.08" x2="361.30" y2="788.08" stroke="#333" stroke-width="0.9"/>
<line x1="356.90" y1="801.31" x2="361.30" y2="801.31" stroke="#333" stroke-width="0.9"/>
<line x1="376.70" y1="773.21" x2="376.70" y2="820.59" stroke="#999" stroke-width="0.9"/>
<line x1="374.50" y1="773.21" x2="378.90" y2="773.21" stroke="#999" stroke-width="0.9"/>
<line x1="374.50" y1="820.59" x2="378.90" y2="820.59" stroke="#999" stroke-width="0.9"/>
<line x1="387.20" y1="823.90" x2="387.20" y2="832.72" stroke="#333" stroke-width="0.9"/>
<line x1="385.00" y1="823.90" x2="389.40" y2="823.90" stroke="#333" stroke-width="0.9"/>
<line x1="385.00" y1="832.72" x2="389.40" y2="832.72" stroke="#333" stroke-width="0.9"/>
<line x1="228.70" y1="852.60" x2="228.70" y2="768.75" stroke="#555" stroke-width="1.2"/>
<line x1="226.70" y1="852.00" x2="228.70" y2="852.00" stroke="#555" stroke-width="1.2"/>
<text x="224.40" y="856.39" font-size="12.2" text-anchor="end" fill="#1e1e1e" stroke="#1e1e1e" stroke-width="0.22">0</text>
<line x1="226.70" y1="824.45" x2="228.70" y2="824.45" stroke="#555" stroke-width="1.2"/>
<text x="224.40" y="828.84" font-size="12.2" text-anchor="end" fill="#1e1e1e" stroke="#1e1e1e" stroke-width="0.22">0.5</text>
<line x1="226.70" y1="796.90" x2="228.70" y2="796.90" stroke="#555" stroke-width="1.2"/>
<text x="224.40" y="801.29" font-size="12.2" text-anchor="end" fill="#1e1e1e" stroke="#1e1e1e" stroke-width="0.22">1.0</text>
<line x1="226.70" y1="769.35" x2="228.70" y2="769.35" stroke="#555" stroke-width="1.2"/>
<text x="224.40" y="773.74" font-size="12.2" text-anchor="end" fill="#1e1e1e" stroke="#1e1e1e" stroke-width="0.22">1.5</text>
<line x1="228.10" y1="852.00" x2="395.40" y2="852.00" stroke="#3a3a3a" stroke-width="1.2"/>
<line x1="241.50" y1="852.00" x2="241.50" y2="854.50" stroke="#3a3a3a" stroke-width="1.2"/>
<line x1="269.60" y1="852.00" x2="269.60" y2="854.50" stroke="#3a3a3a" stroke-width="1.2"/>
<line x1="297.70" y1="852.00" x2="297.70" y2="854.50" stroke="#3a3a3a" stroke-width="1.2"/>
<line x1="325.80" y1="852.00" x2="325.80" y2="854.50" stroke="#3a3a3a" stroke-width="1.2"/>
<line x1="353.90" y1="852.00" x2="353.90" y2="854.50" stroke="#3a3a3a" stroke-width="1.2"/>
<line x1="382.00" y1="852.00" x2="382.00" y2="854.50" stroke="#3a3a3a" stroke-width="1.2"/>
<text transform="translate(245.90,854.50) rotate(-90)" font-size="12.5" text-anchor="end" fill="#1e1e1e" stroke="#1e1e1e" stroke-width="0.22">CPT1A</text>
<text transform="translate(274.00,854.50) rotate(-90)" font-size="12.5" text-anchor="end" fill="#1e1e1e" stroke="#1e1e1e" stroke-width="0.22">ACADVL</text>
<text transform="translate(302.10,854.50) rotate(-90)" font-size="12.5" text-anchor="end" fill="#1e1e1e" stroke="#1e1e1e" stroke-width="0.22">ACADM</text>
<text transform="translate(330.20,854.50) rotate(-90)" font-size="12.5" text-anchor="end" fill="#1e1e1e" stroke="#1e1e1e" stroke-width="0.22">ACADS</text>
<text transform="translate(358.30,854.50) rotate(-90)" font-size="12.5" text-anchor="end" fill="#1e1e1e" stroke="#1e1e1e" stroke-width="0.22">ECHS1</text>
<text transform="translate(386.40,854.50) rotate(-90)" font-size="12.5" text-anchor="end" fill="#1e1e1e" stroke="#1e1e1e" stroke-width="0.22">HADH</text>
<text transform="translate(206.20,806.60) rotate(-90)" font-size="12.5" text-anchor="middle" fill="#1e1e1e" stroke="#1e1e1e" stroke-width="0.22">Relative Protein Level (A.U.)</text>
<rect x="247.40" y="747.30" width="5.30" height="2.60" fill="#65a2f8"/>
<text x="259.60" y="752.40" font-size="12.5" fill="#1e1e1e" stroke="#1e1e1e" stroke-width="0.22">Negative</text>
<rect x="317.00" y="749.30" width="5.30" height="2.60" fill="#f27880"/>
<text x="329.00" y="754.30" font-size="12.5" fill="#1e1e1e" stroke="#1e1e1e" stroke-width="0.22">Positive</text>
<line x1="236.80" y1="779.50" x2="245.90" y2="779.50" stroke="#6e6e6e" stroke-width="1.2"/>
<text x="241.60" y="778.02" font-size="12.0" text-anchor="middle" fill="#111" stroke="#111" stroke-width="0.3">**</text>
<text x="268.70" y="775.40" font-size="11.8" text-anchor="middle" fill="#1e1e1e" stroke="#1e1e1e" stroke-width="0.22">ns</text>
<line x1="264.90" y1="779.50" x2="274.00" y2="779.50" stroke="#333" stroke-width="1.1"/>
<text x="296.60" y="775.40" font-size="11.8" text-anchor="middle" fill="#1e1e1e" stroke="#1e1e1e" stroke-width="0.22">ns</text>
<line x1="292.90" y1="779.50" x2="301.80" y2="779.50" stroke="#333" stroke-width="1.1"/>
<text x="325.05" y="775.40" font-size="11.8" text-anchor="middle" fill="#1e1e1e" stroke="#1e1e1e" stroke-width="0.22">ns</text>
<line x1="320.20" y1="779.50" x2="329.70" y2="779.50" stroke="#333" stroke-width="1.1"/>
<text x="352.60" y="775.40" font-size="11.8" text-anchor="middle" fill="#1e1e1e" stroke="#1e1e1e" stroke-width="0.22">ns</text>
<line x1="348.30" y1="779.50" x2="357.40" y2="779.50" stroke="#333" stroke-width="1.1"/>
<line x1="377.70" y1="769.40" x2="386.70" y2="769.40" stroke="#333" stroke-width="1.2"/>
<text x="382.40" y="767.52" font-size="12.0" text-anchor="middle" fill="#111" stroke="#111" stroke-width="0.3">**</text>
<text x="407.50" y="405.70" font-size="15.5" font-weight="bold" fill="#000" stroke="#000" stroke-width="0.22">E</text>
<text x="440.70" y="425.00" font-size="12.5" fill="#1e1e1e" stroke="#1e1e1e" stroke-width="0.22">KATO-III</text>
<text x="495.80" y="425.00" font-size="12.5" fill="#1e1e1e" stroke="#1e1e1e" stroke-width="0.22">MKN-45</text>
<text x="551.00" y="425.00" font-size="12.5" fill="#1e1e1e" stroke="#1e1e1e" stroke-width="0.22">MKN-1</text>
<text x="603.10" y="425.00" font-size="12.5" fill="#1e1e1e" stroke="#1e1e1e" stroke-width="0.22">HeLa</text>
<text transform="translate(449.20,495.40) rotate(-90)" font-size="12.5" fill="#1e1e1e" stroke="#1e1e1e" stroke-width="0.22">siNC</text>
<text transform="translate(465.60,495.40) rotate(-90)" font-size="12.5" fill="#1e1e1e" stroke="#1e1e1e" stroke-width="0.22">siCPT1A #1</text>
<text transform="translate(481.90,495.40) rotate(-90)" font-size="12.5" fill="#1e1e1e" stroke="#1e1e1e" stroke-width="0.22">siCPT1A #2</text>
<text transform="translate(500.00,495.40) rotate(-90)" font-size="12.5" fill="#1e1e1e" stroke="#1e1e1e" stroke-width="0.22">siNC</text>
<text transform="translate(516.30,495.40) rotate(-90)" font-size="12.5" fill="#1e1e1e" stroke="#1e1e1e" stroke-width="0.22">siCPT1A #1</text>
<text transform="translate(532.60,495.40) rotate(-90)" font-size="12.5" fill="#1e1e1e" stroke="#1e1e1e" stroke-width="0.22">siCPT1A #2</text>
<text transform="translate(553.10,495.40) rotate(-90)" font-size="12.5" fill="#1e1e1e" stroke="#1e1e1e" stroke-width="0.22">siNC</text>
<text transform="translate(568.60,495.40) rotate(-90)" font-size="12.5" fill="#1e1e1e" stroke="#1e1e1e" stroke-width="0.22">siCPT1A #1</text>
<text transform="translate(584.50,495.40) rotate(-90)" font-size="12.5" fill="#1e1e1e" stroke="#1e1e1e" stroke-width="0.22">siCPT1A #2</text>
<text transform="translate(603.50,495.40) rotate(-90)" font-size="12.5" fill="#1e1e1e" stroke="#1e1e1e" stroke-width="0.22">siNC</text>
<text transform="translate(620.00,495.40) rotate(-90)" font-size="12.5" fill="#1e1e1e" stroke="#1e1e1e" stroke-width="0.22">siCPT1A #1</text>
<text transform="translate(634.20,495.40) rotate(-90)" font-size="12.5" fill="#1e1e1e" stroke="#1e1e1e" stroke-width="0.22">siCPT1A #2</text>
<rect x="436.80" y="499.30" width="48.30" height="14.70" fill="#d3d3d3"/>
<rect x="452.30" y="499.60" width="2.50" height="14.00" fill="#e4e4e4" filter="url(#bl2)"/>
<rect x="468.30" y="499.60" width="2.50" height="14.00" fill="#e4e4e4" filter="url(#bl2)"/>
<rect x="439.30" y="504.70" width="12.00" height="4.20" rx="2.10" fill="#0c0c0c" fill-opacity="0.95" filter="url(#bl)"/>
<rect x="455.05" y="505.00" width="11.50" height="3.60" rx="1.80" fill="#0c0c0c" fill-opacity="0.68" filter="url(#bl)"/>
<rect x="470.15" y="504.90" width="12.50" height="3.80" rx="1.90" fill="#0c0c0c" fill-opacity="0.72" filter="url(#bl)"/>
<rect x="436.80" y="499.30" width="48.30" height="14.70" fill="none" stroke="#ababab" stroke-width="1"/>
<rect x="436.80" y="517.00" width="48.30" height="14.80" fill="#dddddd"/>
<rect x="439.30" y="522.00" width="12.00" height="4.00" rx="2.00" fill="#0c0c0c" fill-opacity="0.95" filter="url(#bl)"/>
<rect x="454.55" y="522.20" width="12.50" height="4.20" rx="2.10" fill="#0c0c0c" fill-opacity="0.95" filter="url(#bl)"/>
<rect x="470.15" y="522.60" width="12.50" height="4.00" rx="2.00" fill="#0c0c0c" fill-opacity="0.95" filter="url(#bl)"/>
<rect x="436.80" y="517.00" width="48.30" height="14.80" fill="none" stroke="#ababab" stroke-width="1"/>
<rect x="487.90" y="499.30" width="48.20" height="14.70" fill="#d1d1d1"/>
<rect x="503.40" y="499.60" width="2.50" height="14.00" fill="#e4e4e4" filter="url(#bl2)"/>
<rect x="519.40" y="499.60" width="2.50" height="14.00" fill="#e4e4e4" filter="url(#bl2)"/>
<rect x="506.65" y="505.20" width="10.50" height="3.20" rx="1.60" fill="#0c0c0c" fill-opacity="0.38" filter="url(#bl)"/>
<rect x="522.00" y="504.80" width="11.00" height="4.00" rx="2.00" fill="#0c0c0c" fill-opacity="0.72" filter="url(#bl)"/>
<rect x="487.90" y="499.30" width="48.20" height="14.70" fill="none" stroke="#ababab" stroke-width="1"/>
<rect x="487.90" y="517.00" width="48.20" height="14.80" fill="#dddddd"/>
<rect x="490.15" y="523.70" width="12.50" height="4.00" rx="2.00" fill="#0c0c0c" fill-opacity="0.95" filter="url(#bl)"/>
<rect x="506.15" y="523.70" width="11.50" height="3.60" rx="1.80" fill="#0c0c0c" fill-opacity="0.90" filter="url(#bl)"/>
<rect x="521.75" y="523.20" width="11.50" height="3.80" rx="1.90" fill="#0c0c0c" fill-opacity="0.92" filter="url(#bl)"/>
<rect x="487.90" y="517.00" width="48.20" height="14.80" fill="none" stroke="#ababab" stroke-width="1"/>
<rect x="539.10" y="499.30" width="48.40" height="14.70" fill="#d1d1d1"/>
<rect x="554.60" y="499.60" width="2.50" height="14.00" fill="#e4e4e4" filter="url(#bl2)"/>
<rect x="570.60" y="499.60" width="2.50" height="14.00" fill="#e4e4e4" filter="url(#bl2)"/>
<rect x="542.10" y="505.05" width="11.00" height="3.50" rx="1.75" fill="#0c0c0c" fill-opacity="0.22" filter="url(#bl)"/>
<rect x="557.60" y="505.05" width="11.00" height="3.50" rx="1.75" fill="#0c0c0c" fill-opacity="0.14" filter="url(#bl)"/>
<rect x="573.20" y="505.05" width="11.00" height="3.50" rx="1.75" fill="#0c0c0c" fill-opacity="0.16" filter="url(#bl)"/>
<rect x="539.10" y="499.30" width="48.40" height="14.70" fill="none" stroke="#ababab" stroke-width="1"/>
<rect x="539.10" y="517.00" width="48.40" height="14.80" fill="#dddddd"/>
<rect x="541.10" y="521.90" width="13.00" height="4.40" rx="2.20" fill="#0c0c0c" fill-opacity="1.00" filter="url(#bl)"/>
<rect x="557.10" y="522.50" width="12.00" height="4.20" rx="2.10" fill="#0c0c0c" fill-opacity="1.00" filter="url(#bl)"/>
<rect x="572.45" y="522.60" width="12.50" height="4.00" rx="2.00" fill="#0c0c0c" fill-opacity="1.00" filter="url(#bl)"/>
<rect x="539.10" y="517.00" width="48.40" height="14.80" fill="none" stroke="#ababab" stroke-width="1"/>
<rect x="591.00" y="499.30" width="48.40" height="14.70" fill="#d5d5d5"/>
<rect x="606.50" y="499.60" width="2.50" height="14.00" fill="#e4e4e4" filter="url(#bl2)"/>
<rect x="622.50" y="499.60" width="2.50" height="14.00" fill="#e4e4e4" filter="url(#bl2)"/>
<rect x="594.00" y="505.05" width="11.00" height="3.50" rx="1.75" fill="#0c0c0c" fill-opacity="0.16" filter="url(#bl)"/>
<rect x="609.50" y="505.05" width="11.00" height="3.50" rx="1.75" fill="#0c0c0c" fill-opacity="0.15" filter="url(#bl)"/>
<rect x="625.10" y="505.05" width="11.00" height="3.50" rx="1.75" fill="#0c0c0c" fill-opacity="0.08" filter="url(#bl)"/>
<rect x="591.00" y="499.30" width="48.40" height="14.70" fill="none" stroke="#ababab" stroke-width="1"/>
<rect x="591.00" y="517.00" width="48.40" height="14.80" fill="#dddddd"/>
<rect x="592.75" y="521.30" width="13.50" height="6.00" rx="3.00" fill="#0c0c0c" fill-opacity="1.00" filter="url(#bl)"/>
<rect x="609.25" y="521.30" width="11.50" height="5.00" rx="2.50" fill="#0c0c0c" fill-opacity="1.00" filter="url(#bl)"/>
<rect x="623.85" y="522.60" width="13.50" height="5.00" rx="2.50" fill="#0c0c0c" fill-opacity="1.00" filter="url(#bl)"/>
<rect x="591.00" y="517.00" width="48.40" height="14.80" fill="none" stroke="#ababab" stroke-width="1"/>
<rect x="492.0" y="500.0" width="12.5" height="11.2" rx="5" fill="#000" fill-opacity="0.95" filter="url(#bl)"/>
<rect x="490.5" y="502.0" width="15.5" height="6.5" rx="3" fill="#000" fill-opacity="0.8" filter="url(#bl)"/>
<text x="645.00" y="510.20" font-size="12.5" fill="#1e1e1e" stroke="#1e1e1e" stroke-width="0.22">CPT1A</text>
<text x="645.00" y="528.40" font-size="12.5" fill="#1e1e1e" stroke="#1e1e1e" stroke-width="0.22">Actin</text>
<text transform="translate(430.40,505.94) scale(0.9,1)" font-size="10.4" text-anchor="end" fill="#222" stroke="#222" stroke-width="0.22">95</text>
<line x1="432.40" y1="500.20" x2="435.80" y2="500.20" stroke="#333" stroke-width="0.9"/>
<text transform="translate(430.40,532.14) scale(0.9,1)" font-size="10.4" text-anchor="end" fill="#222" stroke="#222" stroke-width="0.22">43</text>
<line x1="432.40" y1="527.80" x2="435.80" y2="527.80" stroke="#333" stroke-width="0.9"/>
<text x="420.60" y="542.80" font-size="9.8" fill="#1e1e1e" stroke="#1e1e1e" stroke-width="0.22">kDa</text>
<text x="445.40" y="585.70" font-size="12.5" fill="#1e1e1e" stroke="#1e1e1e" stroke-width="0.22">KATO-III</text>
<text x="502.20" y="585.70" font-size="12.5" fill="#1e1e1e" stroke="#1e1e1e" stroke-width="0.22">MKN-45</text>
<text x="555.60" y="585.70" font-size="12.5" fill="#1e1e1e" stroke="#1e1e1e" stroke-width="0.22">MKN-1</text>
<text x="606.30" y="585.70" font-size="12.5" fill="#1e1e1e" stroke="#1e1e1e" stroke-width="0.22">HeLa</text>
<text x="407.60" y="562.60" font-size="15.5" font-weight="bold" fill="#000" stroke="#000" stroke-width="0.22">F</text>
<rect x="468.00" y="629.40" width="9.30" height="49.90" fill="#65a2f8"/>
<rect x="479.30" y="652.35" width="9.30" height="26.95" fill="#65a2f8"/>
<rect x="490.50" y="648.36" width="9.30" height="30.94" fill="#65a2f8"/>
<rect x="511.40" y="629.40" width="9.30" height="49.90" fill="#65a2f8"/>
<rect x="522.20" y="646.87" width="9.30" height="32.43" fill="#65a2f8"/>
<rect x="533.40" y="641.88" width="9.30" height="37.42" fill="#65a2f8"/>
<rect x="554.20" y="629.40" width="9.30" height="49.90" fill="#f27880"/>
<rect x="565.00" y="631.89" width="9.30" height="47.40" fill="#f27880"/>
<rect x="576.30" y="626.90" width="9.30" height="52.39" fill="#f27880"/>
<rect x="597.10" y="629.40" width="9.30" height="49.90" fill="#f27880"/>
<rect x="608.00" y="626.41" width="9.30" height="52.89" fill="#f27880"/>
<rect x="619.00" y="626.90" width="9.30" height="52.39" fill="#f27880"/>
<line x1="472.65" y1="628.40" x2="472.65" y2="630.40" stroke="#222" stroke-width="0.7"/>
<line x1="469.75" y1="628.40" x2="475.55" y2="628.40" stroke="#222" stroke-width="0.7"/>
<line x1="469.75" y1="630.40" x2="475.55" y2="630.40" stroke="#222" stroke-width="0.7"/>
<circle cx="472.65" cy="628.80" r="0.75" fill="#222"/>
<circle cx="472.65" cy="629.90" r="0.75" fill="#222"/>
<circle cx="472.65" cy="630.70" r="0.75" fill="#222"/>
<line x1="483.95" y1="651.36" x2="483.95" y2="653.35" stroke="#222" stroke-width="0.7"/>
<line x1="481.05" y1="651.36" x2="486.85" y2="651.36" stroke="#222" stroke-width="0.7"/>
<line x1="481.05" y1="653.35" x2="486.85" y2="653.35" stroke="#222" stroke-width="0.7"/>
<circle cx="483.95" cy="651.76" r="0.75" fill="#222"/>
<circle cx="483.95" cy="652.85" r="0.75" fill="#222"/>
<circle cx="483.95" cy="653.65" r="0.75" fill="#222"/>
<line x1="495.15" y1="646.87" x2="495.15" y2="649.86" stroke="#222" stroke-width="0.7"/>
<line x1="492.25" y1="646.87" x2="498.05" y2="646.87" stroke="#222" stroke-width="0.7"/>
<line x1="492.25" y1="649.86" x2="498.05" y2="649.86" stroke="#222" stroke-width="0.7"/>
<circle cx="495.15" cy="647.46" r="0.75" fill="#222"/>
<circle cx="495.15" cy="649.11" r="0.75" fill="#222"/>
<circle cx="495.15" cy="650.31" r="0.75" fill="#222"/>
<line x1="516.05" y1="626.90" x2="516.05" y2="631.89" stroke="#222" stroke-width="0.7"/>
<line x1="513.15" y1="626.90" x2="518.95" y2="626.90" stroke="#222" stroke-width="0.7"/>
<line x1="513.15" y1="631.89" x2="518.95" y2="631.89" stroke="#222" stroke-width="0.7"/>
<circle cx="516.05" cy="627.90" r="0.75" fill="#222"/>
<circle cx="516.05" cy="630.65" r="0.75" fill="#222"/>
<circle cx="516.05" cy="632.64" r="0.75" fill="#222"/>
<line x1="526.85" y1="646.37" x2="526.85" y2="647.36" stroke="#222" stroke-width="0.7"/>
<line x1="523.95" y1="646.37" x2="529.75" y2="646.37" stroke="#222" stroke-width="0.7"/>
<line x1="523.95" y1="647.36" x2="529.75" y2="647.36" stroke="#222" stroke-width="0.7"/>
<circle cx="526.85" cy="646.57" r="0.75" fill="#222"/>
<circle cx="526.85" cy="647.11" r="0.75" fill="#222"/>
<circle cx="526.85" cy="647.51" r="0.75" fill="#222"/>
<line x1="538.05" y1="641.63" x2="538.05" y2="642.12" stroke="#222" stroke-width="0.7"/>
<line x1="535.15" y1="641.63" x2="540.95" y2="641.63" stroke="#222" stroke-width="0.7"/>
<line x1="535.15" y1="642.12" x2="540.95" y2="642.12" stroke="#222" stroke-width="0.7"/>
<circle cx="538.05" cy="641.73" r="0.75" fill="#222"/>
<circle cx="538.05" cy="642.00" r="0.75" fill="#222"/>
<circle cx="538.05" cy="642.20" r="0.75" fill="#222"/>
<line x1="558.85" y1="628.40" x2="558.85" y2="630.40" stroke="#222" stroke-width="0.7"/>
<line x1="555.95" y1="628.40" x2="561.75" y2="628.40" stroke="#222" stroke-width="0.7"/>
<line x1="555.95" y1="630.40" x2="561.75" y2="630.40" stroke="#222" stroke-width="0.7"/>
<circle cx="558.85" cy="628.80" r="0.75" fill="#222"/>
<circle cx="558.85" cy="629.90" r="0.75" fill="#222"/>
<circle cx="558.85" cy="630.70" r="0.75" fill="#222"/>
<line x1="569.65" y1="628.90" x2="569.65" y2="634.89" stroke="#222" stroke-width="0.7"/>
<line x1="566.75" y1="628.90" x2="572.55" y2="628.90" stroke="#222" stroke-width="0.7"/>
<line x1="566.75" y1="634.89" x2="572.55" y2="634.89" stroke="#222" stroke-width="0.7"/>
<circle cx="569.65" cy="630.10" r="0.75" fill="#222"/>
<circle cx="569.65" cy="633.39" r="0.75" fill="#222"/>
<circle cx="569.65" cy="635.79" r="0.75" fill="#222"/>
<line x1="580.95" y1="624.91" x2="580.95" y2="628.90" stroke="#222" stroke-width="0.7"/>
<line x1="578.05" y1="624.91" x2="583.85" y2="624.91" stroke="#222" stroke-width="0.7"/>
<line x1="578.05" y1="628.90" x2="583.85" y2="628.90" stroke="#222" stroke-width="0.7"/>
<circle cx="580.95" cy="625.71" r="0.75" fill="#222"/>
<circle cx="580.95" cy="627.90" r="0.75" fill="#222"/>
<circle cx="580.95" cy="629.50" r="0.75" fill="#222"/>
<line x1="601.75" y1="628.40" x2="601.75" y2="630.40" stroke="#222" stroke-width="0.7"/>
<line x1="598.85" y1="628.40" x2="604.65" y2="628.40" stroke="#222" stroke-width="0.7"/>
<line x1="598.85" y1="630.40" x2="604.65" y2="630.40" stroke="#222" stroke-width="0.7"/>
<circle cx="601.75" cy="628.80" r="0.75" fill="#222"/>
<circle cx="601.75" cy="629.90" r="0.75" fill="#222"/>
<circle cx="601.75" cy="630.70" r="0.75" fill="#222"/>
<line x1="612.65" y1="624.41" x2="612.65" y2="628.40" stroke="#222" stroke-width="0.7"/>
<line x1="609.75" y1="624.41" x2="615.55" y2="624.41" stroke="#222" stroke-width="0.7"/>
<line x1="609.75" y1="628.40" x2="615.55" y2="628.40" stroke="#222" stroke-width="0.7"/>
<circle cx="612.65" cy="625.21" r="0.75" fill="#222"/>
<circle cx="612.65" cy="627.40" r="0.75" fill="#222"/>
<circle cx="612.65" cy="629.00" r="0.75" fill="#222"/>
<line x1="623.65" y1="625.91" x2="623.65" y2="627.90" stroke="#222" stroke-width="0.7"/>
<line x1="620.75" y1="625.91" x2="626.55" y2="625.91" stroke="#222" stroke-width="0.7"/>
<line x1="620.75" y1="627.90" x2="626.55" y2="627.90" stroke="#222" stroke-width="0.7"/>
<circle cx="623.65" cy="626.31" r="0.75" fill="#222"/>
<circle cx="623.65" cy="627.40" r="0.75" fill="#222"/>
<circle cx="623.65" cy="628.20" r="0.75" fill="#222"/>
<line x1="463.30" y1="679.90" x2="463.30" y2="603.85" stroke="#3a3a3a" stroke-width="1.2"/>
<line x1="460.30" y1="679.30" x2="463.30" y2="679.30" stroke="#3a3a3a" stroke-width="1.2"/>
<line x1="460.30" y1="654.35" x2="463.30" y2="654.35" stroke="#3a3a3a" stroke-width="1.2"/>
<line x1="460.30" y1="629.40" x2="463.30" y2="629.40" stroke="#3a3a3a" stroke-width="1.2"/>
<line x1="460.30" y1="604.45" x2="463.30" y2="604.45" stroke="#3a3a3a" stroke-width="1.2"/>
<text x="458.10" y="611.23" font-size="12.3" text-anchor="end" fill="#1e1e1e" stroke="#1e1e1e" stroke-width="0.22">1.5</text>
<text x="458.10" y="635.43" font-size="12.3" text-anchor="end" fill="#1e1e1e" stroke="#1e1e1e" stroke-width="0.22">1.0</text>
<text x="458.10" y="659.33" font-size="12.3" text-anchor="end" fill="#1e1e1e" stroke="#1e1e1e" stroke-width="0.22">0.5</text>
<text x="458.10" y="683.33" font-size="12.3" text-anchor="end" fill="#1e1e1e" stroke="#1e1e1e" stroke-width="0.22">0</text>
<line x1="462.70" y1="679.30" x2="633.90" y2="679.30" stroke="#3a3a3a" stroke-width="1.2"/>
<line x1="472.65" y1="679.30" x2="472.65" y2="681.80" stroke="#3a3a3a" stroke-width="1.2"/>
<line x1="483.95" y1="679.30" x2="483.95" y2="681.80" stroke="#3a3a3a" stroke-width="1.2"/>
<line x1="495.15" y1="679.30" x2="495.15" y2="681.80" stroke="#3a3a3a" stroke-width="1.2"/>
<line x1="516.05" y1="679.30" x2="516.05" y2="681.80" stroke="#3a3a3a" stroke-width="1.2"/>
<line x1="526.85" y1="679.30" x2="526.85" y2="681.80" stroke="#3a3a3a" stroke-width="1.2"/>
<line x1="538.05" y1="679.30" x2="538.05" y2="681.80" stroke="#3a3a3a" stroke-width="1.2"/>
<line x1="558.85" y1="679.30" x2="558.85" y2="681.80" stroke="#3a3a3a" stroke-width="1.2"/>
<line x1="569.65" y1="679.30" x2="569.65" y2="681.80" stroke="#3a3a3a" stroke-width="1.2"/>
<line x1="580.95" y1="679.30" x2="580.95" y2="681.80" stroke="#3a3a3a" stroke-width="1.2"/>
<line x1="601.75" y1="679.30" x2="601.75" y2="681.80" stroke="#3a3a3a" stroke-width="1.2"/>
<line x1="612.65" y1="679.30" x2="612.65" y2="681.80" stroke="#3a3a3a" stroke-width="1.2"/>
<line x1="623.65" y1="679.30" x2="623.65" y2="681.80" stroke="#3a3a3a" stroke-width="1.2"/>
<text transform="translate(477.00,682.40) rotate(-90)" font-size="12.5" text-anchor="end" fill="#1e1e1e" stroke="#1e1e1e" stroke-width="0.22">siNC</text>
<text transform="translate(488.30,682.40) rotate(-90)" font-size="12.5" text-anchor="end" fill="#1e1e1e" stroke="#1e1e1e" stroke-width="0.22">siCPT1A #1</text>
<text transform="translate(499.50,682.40) rotate(-90)" font-size="12.5" text-anchor="end" fill="#1e1e1e" stroke="#1e1e1e" stroke-width="0.22">siCPT1A #2</text>
<text transform="translate(520.40,682.40) rotate(-90)" font-size="12.5" text-anchor="end" fill="#1e1e1e" stroke="#1e1e1e" stroke-width="0.22">siNC</text>
<text transform="translate(531.20,682.40) rotate(-90)" font-size="12.5" text-anchor="end" fill="#1e1e1e" stroke="#1e1e1e" stroke-width="0.22">siCPT1A #1</text>
<text transform="translate(542.40,682.40) rotate(-90)" font-size="12.5" text-anchor="end" fill="#1e1e1e" stroke="#1e1e1e" stroke-width="0.22">siCPT1A #2</text>
<text transform="translate(563.20,682.40) rotate(-90)" font-size="12.5" text-anchor="end" fill="#1e1e1e" stroke="#1e1e1e" stroke-width="0.22">siNC</text>
<text transform="translate(574.00,682.40) rotate(-90)" font-size="12.5" text-anchor="end" fill="#1e1e1e" stroke="#1e1e1e" stroke-width="0.22">siCPT1A #1</text>
<text transform="translate(585.30,682.40) rotate(-90)" font-size="12.5" text-anchor="end" fill="#1e1e1e" stroke="#1e1e1e" stroke-width="0.22">siCPT1A #2</text>
<text transform="translate(606.10,682.40) rotate(-90)" font-size="12.5" text-anchor="end" fill="#1e1e1e" stroke="#1e1e1e" stroke-width="0.22">siNC</text>
<text transform="translate(617.00,682.40) rotate(-90)" font-size="12.5" text-anchor="end" fill="#1e1e1e" stroke="#1e1e1e" stroke-width="0.22">siCPT1A #1</text>
<text transform="translate(628.00,682.40) rotate(-90)" font-size="12.5" text-anchor="end" fill="#1e1e1e" stroke="#1e1e1e" stroke-width="0.22">siCPT1A #2</text>
<text transform="translate(436.00,640.30) rotate(-90)" font-size="12.5" text-anchor="middle" fill="#1e1e1e" stroke="#1e1e1e" stroke-width="0.22">Relative Level of ATP (A.U.)</text>
<text x="483.30" y="605.50" font-size="12.5" text-anchor="middle" fill="#333" stroke="#333" stroke-width="0.22">****</text>
<line x1="472.60" y1="604.90" x2="495.60" y2="604.90" stroke="#6e6e6e" stroke-width="1.2"/>
<text x="478.20" y="619.40" font-size="12.5" text-anchor="middle" fill="#333" stroke="#333" stroke-width="0.22">****</text>
<line x1="473.20" y1="619.60" x2="483.80" y2="619.60" stroke="#6e6e6e" stroke-width="1.2"/>
<text x="525.90" y="605.50" font-size="12.5" text-anchor="middle" fill="#333" stroke="#333" stroke-width="0.22">****</text>
<line x1="516.10" y1="604.90" x2="538.60" y2="604.90" stroke="#6e6e6e" stroke-width="1.2"/>
<text x="521.40" y="619.40" font-size="12.5" text-anchor="middle" fill="#333" stroke="#333" stroke-width="0.22">****</text>
<line x1="516.50" y1="619.60" x2="526.70" y2="619.60" stroke="#6e6e6e" stroke-width="1.2"/>
<text x="569.10" y="599.60" font-size="11.8" text-anchor="middle" fill="#1e1e1e" stroke="#1e1e1e" stroke-width="0.22">ns</text>
<line x1="558.30" y1="605.20" x2="580.80" y2="605.20" stroke="#6e6e6e" stroke-width="1.2"/>
<text x="563.20" y="615.40" font-size="11.8" text-anchor="middle" fill="#1e1e1e" stroke="#1e1e1e" stroke-width="0.22">ns</text>
<line x1="558.30" y1="619.70" x2="569.50" y2="619.70" stroke="#6e6e6e" stroke-width="1.2"/>
<text x="612.05" y="599.60" font-size="11.8" text-anchor="middle" fill="#1e1e1e" stroke="#1e1e1e" stroke-width="0.22">ns</text>
<line x1="600.20" y1="605.20" x2="623.10" y2="605.20" stroke="#6e6e6e" stroke-width="1.2"/>
<text x="606.10" y="615.40" font-size="11.8" text-anchor="middle" fill="#1e1e1e" stroke="#1e1e1e" stroke-width="0.22">ns</text>
<line x1="600.20" y1="619.70" x2="612.00" y2="619.70" stroke="#6e6e6e" stroke-width="1.2"/>
<text x="448.60" y="770.60" font-size="12.5" fill="#1e1e1e" stroke="#1e1e1e" stroke-width="0.22">KATO-III</text>
<text x="505.90" y="770.60" font-size="12.5" fill="#1e1e1e" stroke="#1e1e1e" stroke-width="0.22">MKN-45</text>
<text x="559.30" y="770.60" font-size="12.5" fill="#1e1e1e" stroke="#1e1e1e" stroke-width="0.22">MKN-1</text>
<text x="610.00" y="770.60" font-size="12.5" fill="#1e1e1e" stroke="#1e1e1e" stroke-width="0.22">HeLa</text>
<text x="407.60" y="751.40" font-size="15.5" font-weight="bold" fill="#000" stroke="#000" stroke-width="0.22">G</text>
<rect x="473.10" y="816.30" width="9.30" height="48.70" fill="#65a2f8"/>
<rect x="483.90" y="848.44" width="9.30" height="16.56" fill="#65a2f8"/>
<rect x="495.20" y="852.83" width="9.30" height="12.17" fill="#65a2f8"/>
<rect x="516.20" y="816.30" width="9.30" height="48.70" fill="#65a2f8"/>
<rect x="527.50" y="848.93" width="9.30" height="16.07" fill="#65a2f8"/>
<rect x="538.70" y="848.44" width="9.30" height="16.56" fill="#65a2f8"/>
<rect x="558.90" y="816.30" width="9.30" height="48.70" fill="#f27880"/>
<rect x="570.50" y="821.17" width="9.30" height="43.83" fill="#f27880"/>
<rect x="581.80" y="824.09" width="9.30" height="40.91" fill="#f27880"/>
<rect x="602.20" y="816.30" width="9.30" height="48.70" fill="#f27880"/>
<rect x="613.90" y="816.79" width="9.30" height="48.21" fill="#f27880"/>
<rect x="625.10" y="810.94" width="9.30" height="54.06" fill="#f27880"/>
<line x1="477.75" y1="811.92" x2="477.75" y2="820.68" stroke="#222" stroke-width="0.7"/>
<line x1="474.85" y1="811.92" x2="480.65" y2="811.92" stroke="#222" stroke-width="0.7"/>
<line x1="474.85" y1="820.68" x2="480.65" y2="820.68" stroke="#222" stroke-width="0.7"/>
<circle cx="477.75" cy="813.67" r="0.75" fill="#222"/>
<circle cx="477.75" cy="818.49" r="0.75" fill="#222"/>
<circle cx="477.75" cy="822.00" r="0.75" fill="#222"/>
<line x1="488.55" y1="846.49" x2="488.55" y2="850.39" stroke="#222" stroke-width="0.7"/>
<line x1="485.65" y1="846.49" x2="491.45" y2="846.49" stroke="#222" stroke-width="0.7"/>
<line x1="485.65" y1="850.39" x2="491.45" y2="850.39" stroke="#222" stroke-width="0.7"/>
<circle cx="488.55" cy="847.27" r="0.75" fill="#222"/>
<circle cx="488.55" cy="849.42" r="0.75" fill="#222"/>
<circle cx="488.55" cy="850.97" r="0.75" fill="#222"/>
<line x1="499.85" y1="850.39" x2="499.85" y2="855.26" stroke="#222" stroke-width="0.7"/>
<line x1="496.95" y1="850.39" x2="502.75" y2="850.39" stroke="#222" stroke-width="0.7"/>
<line x1="496.95" y1="855.26" x2="502.75" y2="855.26" stroke="#222" stroke-width="0.7"/>
<circle cx="499.85" cy="851.36" r="0.75" fill="#222"/>
<circle cx="499.85" cy="854.04" r="0.75" fill="#222"/>
<circle cx="499.85" cy="855.99" r="0.75" fill="#222"/>
<line x1="520.85" y1="812.89" x2="520.85" y2="819.71" stroke="#222" stroke-width="0.7"/>
<line x1="517.95" y1="812.89" x2="523.75" y2="812.89" stroke="#222" stroke-width="0.7"/>
<line x1="517.95" y1="819.71" x2="523.75" y2="819.71" stroke="#222" stroke-width="0.7"/>
<circle cx="520.85" cy="814.25" r="0.75" fill="#222"/>
<circle cx="520.85" cy="818.00" r="0.75" fill="#222"/>
<circle cx="520.85" cy="820.73" r="0.75" fill="#222"/>
<line x1="532.15" y1="847.47" x2="532.15" y2="850.39" stroke="#222" stroke-width="0.7"/>
<line x1="529.25" y1="847.47" x2="535.05" y2="847.47" stroke="#222" stroke-width="0.7"/>
<line x1="529.25" y1="850.39" x2="535.05" y2="850.39" stroke="#222" stroke-width="0.7"/>
<circle cx="532.15" cy="848.05" r="0.75" fill="#222"/>
<circle cx="532.15" cy="849.66" r="0.75" fill="#222"/>
<circle cx="532.15" cy="850.83" r="0.75" fill="#222"/>
<line x1="543.35" y1="846.98" x2="543.35" y2="849.90" stroke="#222" stroke-width="0.7"/>
<line x1="540.45" y1="846.98" x2="546.25" y2="846.98" stroke="#222" stroke-width="0.7"/>
<line x1="540.45" y1="849.90" x2="546.25" y2="849.90" stroke="#222" stroke-width="0.7"/>
<circle cx="543.35" cy="847.57" r="0.75" fill="#222"/>
<circle cx="543.35" cy="849.17" r="0.75" fill="#222"/>
<circle cx="543.35" cy="850.34" r="0.75" fill="#222"/>
<line x1="563.55" y1="813.87" x2="563.55" y2="818.74" stroke="#222" stroke-width="0.7"/>
<line x1="560.65" y1="813.87" x2="566.45" y2="813.87" stroke="#222" stroke-width="0.7"/>
<line x1="560.65" y1="818.74" x2="566.45" y2="818.74" stroke="#222" stroke-width="0.7"/>
<circle cx="563.55" cy="814.84" r="0.75" fill="#222"/>
<circle cx="563.55" cy="817.52" r="0.75" fill="#222"/>
<circle cx="563.55" cy="819.47" r="0.75" fill="#222"/>
<line x1="575.15" y1="813.87" x2="575.15" y2="828.48" stroke="#222" stroke-width="0.7"/>
<line x1="572.25" y1="813.87" x2="578.05" y2="813.87" stroke="#222" stroke-width="0.7"/>
<line x1="572.25" y1="828.48" x2="578.05" y2="828.48" stroke="#222" stroke-width="0.7"/>
<circle cx="575.15" cy="816.79" r="0.75" fill="#222"/>
<circle cx="575.15" cy="824.82" r="0.75" fill="#222"/>
<circle cx="575.15" cy="830.67" r="0.75" fill="#222"/>
<line x1="586.45" y1="821.17" x2="586.45" y2="827.01" stroke="#222" stroke-width="0.7"/>
<line x1="583.55" y1="821.17" x2="589.35" y2="821.17" stroke="#222" stroke-width="0.7"/>
<line x1="583.55" y1="827.01" x2="589.35" y2="827.01" stroke="#222" stroke-width="0.7"/>
<circle cx="586.45" cy="822.34" r="0.75" fill="#222"/>
<circle cx="586.45" cy="825.55" r="0.75" fill="#222"/>
<circle cx="586.45" cy="827.89" r="0.75" fill="#222"/>
<line x1="606.85" y1="811.43" x2="606.85" y2="821.17" stroke="#222" stroke-width="0.7"/>
<line x1="603.95" y1="811.43" x2="609.75" y2="811.43" stroke="#222" stroke-width="0.7"/>
<line x1="603.95" y1="821.17" x2="609.75" y2="821.17" stroke="#222" stroke-width="0.7"/>
<circle cx="606.85" cy="813.38" r="0.75" fill="#222"/>
<circle cx="606.85" cy="818.74" r="0.75" fill="#222"/>
<circle cx="606.85" cy="822.63" r="0.75" fill="#222"/>
<line x1="618.55" y1="810.46" x2="618.55" y2="823.12" stroke="#222" stroke-width="0.7"/>
<line x1="615.65" y1="810.46" x2="621.45" y2="810.46" stroke="#222" stroke-width="0.7"/>
<line x1="615.65" y1="823.12" x2="621.45" y2="823.12" stroke="#222" stroke-width="0.7"/>
<circle cx="618.55" cy="812.99" r="0.75" fill="#222"/>
<circle cx="618.55" cy="819.95" r="0.75" fill="#222"/>
<circle cx="618.55" cy="825.02" r="0.75" fill="#222"/>
<line x1="629.75" y1="808.51" x2="629.75" y2="813.38" stroke="#222" stroke-width="0.7"/>
<line x1="626.85" y1="808.51" x2="632.65" y2="808.51" stroke="#222" stroke-width="0.7"/>
<line x1="626.85" y1="813.38" x2="632.65" y2="813.38" stroke="#222" stroke-width="0.7"/>
<circle cx="629.75" cy="809.48" r="0.75" fill="#222"/>
<circle cx="629.75" cy="812.16" r="0.75" fill="#222"/>
<circle cx="629.75" cy="814.11" r="0.75" fill="#222"/>
<line x1="468.00" y1="865.60" x2="468.00" y2="791.35" stroke="#3a3a3a" stroke-width="1.2"/>
<line x1="465.00" y1="865.00" x2="468.00" y2="865.00" stroke="#3a3a3a" stroke-width="1.2"/>
<line x1="465.00" y1="840.65" x2="468.00" y2="840.65" stroke="#3a3a3a" stroke-width="1.2"/>
<line x1="465.00" y1="816.30" x2="468.00" y2="816.30" stroke="#3a3a3a" stroke-width="1.2"/>
<line x1="465.00" y1="791.95" x2="468.00" y2="791.95" stroke="#3a3a3a" stroke-width="1.2"/>
<text x="462.80" y="799.43" font-size="12.3" text-anchor="end" fill="#1e1e1e" stroke="#1e1e1e" stroke-width="0.22">1.5</text>
<text x="462.80" y="823.73" font-size="12.3" text-anchor="end" fill="#1e1e1e" stroke="#1e1e1e" stroke-width="0.22">1.0</text>
<text x="462.80" y="847.73" font-size="12.3" text-anchor="end" fill="#1e1e1e" stroke="#1e1e1e" stroke-width="0.22">0.5</text>
<text x="462.80" y="871.13" font-size="12.3" text-anchor="end" fill="#1e1e1e" stroke="#1e1e1e" stroke-width="0.22">0</text>
<line x1="467.40" y1="865.00" x2="639.40" y2="865.00" stroke="#3a3a3a" stroke-width="1.2"/>
<line x1="477.75" y1="865.00" x2="477.75" y2="867.50" stroke="#3a3a3a" stroke-width="1.2"/>
<line x1="488.55" y1="865.00" x2="488.55" y2="867.50" stroke="#3a3a3a" stroke-width="1.2"/>
<line x1="499.85" y1="865.00" x2="499.85" y2="867.50" stroke="#3a3a3a" stroke-width="1.2"/>
<line x1="520.85" y1="865.00" x2="520.85" y2="867.50" stroke="#3a3a3a" stroke-width="1.2"/>
<line x1="532.15" y1="865.00" x2="532.15" y2="867.50" stroke="#3a3a3a" stroke-width="1.2"/>
<line x1="543.35" y1="865.00" x2="543.35" y2="867.50" stroke="#3a3a3a" stroke-width="1.2"/>
<line x1="563.55" y1="865.00" x2="563.55" y2="867.50" stroke="#3a3a3a" stroke-width="1.2"/>
<line x1="575.15" y1="865.00" x2="575.15" y2="867.50" stroke="#3a3a3a" stroke-width="1.2"/>
<line x1="586.45" y1="865.00" x2="586.45" y2="867.50" stroke="#3a3a3a" stroke-width="1.2"/>
<line x1="606.85" y1="865.00" x2="606.85" y2="867.50" stroke="#3a3a3a" stroke-width="1.2"/>
<line x1="618.55" y1="865.00" x2="618.55" y2="867.50" stroke="#3a3a3a" stroke-width="1.2"/>
<line x1="629.75" y1="865.00" x2="629.75" y2="867.50" stroke="#3a3a3a" stroke-width="1.2"/>
<text transform="translate(482.10,868.00) rotate(-90)" font-size="12.5" text-anchor="end" fill="#1e1e1e" stroke="#1e1e1e" stroke-width="0.22">siNC</text>
<text transform="translate(492.90,868.00) rotate(-90)" font-size="12.5" text-anchor="end" fill="#1e1e1e" stroke="#1e1e1e" stroke-width="0.22">siCPT1A #1</text>
<text transform="translate(504.20,868.00) rotate(-90)" font-size="12.5" text-anchor="end" fill="#1e1e1e" stroke="#1e1e1e" stroke-width="0.22">siCPT1A #2</text>
<text transform="translate(525.20,868.00) rotate(-90)" font-size="12.5" text-anchor="end" fill="#1e1e1e" stroke="#1e1e1e" stroke-width="0.22">siNC</text>
<text transform="translate(536.50,868.00) rotate(-90)" font-size="12.5" text-anchor="end" fill="#1e1e1e" stroke="#1e1e1e" stroke-width="0.22">siCPT1A #1</text>
<text transform="translate(547.70,868.00) rotate(-90)" font-size="12.5" text-anchor="end" fill="#1e1e1e" stroke="#1e1e1e" stroke-width="0.22">siCPT1A #2</text>
<text transform="translate(567.90,868.00) rotate(-90)" font-size="12.5" text-anchor="end" fill="#1e1e1e" stroke="#1e1e1e" stroke-width="0.22">siNC</text>
<text transform="translate(579.50,868.00) rotate(-90)" font-size="12.5" text-anchor="end" fill="#1e1e1e" stroke="#1e1e1e" stroke-width="0.22">siCPT1A #1</text>
<text transform="translate(590.80,868.00) rotate(-90)" font-size="12.5" text-anchor="end" fill="#1e1e1e" stroke="#1e1e1e" stroke-width="0.22">siCPT1A #2</text>
<text transform="translate(611.20,868.00) rotate(-90)" font-size="12.5" text-anchor="end" fill="#1e1e1e" stroke="#1e1e1e" stroke-width="0.22">siNC</text>
<text transform="translate(622.90,868.00) rotate(-90)" font-size="12.5" text-anchor="end" fill="#1e1e1e" stroke="#1e1e1e" stroke-width="0.22">siCPT1A #1</text>
<text transform="translate(634.10,868.00) rotate(-90)" font-size="12.5" text-anchor="end" fill="#1e1e1e" stroke="#1e1e1e" stroke-width="0.22">siCPT1A #2</text>
<text transform="translate(440.60,829.40) rotate(-90)" font-size="12.5" text-anchor="middle" fill="#1e1e1e" stroke="#1e1e1e" stroke-width="0.22">Cell Viability (A.U.)</text>
<text x="488.20" y="786.90" font-size="12.5" text-anchor="middle" fill="#333" stroke="#333" stroke-width="0.22">****</text>
<line x1="477.30" y1="786.40" x2="500.10" y2="786.40" stroke="#333" stroke-width="1.2"/>
<text x="483.00" y="803.80" font-size="12.5" text-anchor="middle" fill="#333" stroke="#333" stroke-width="0.22">****</text>
<line x1="477.70" y1="802.30" x2="488.30" y2="802.30" stroke="#333" stroke-width="1.2"/>
<text x="531.30" y="786.90" font-size="12.5" text-anchor="middle" fill="#333" stroke="#333" stroke-width="0.22">****</text>
<line x1="520.60" y1="786.40" x2="543.40" y2="786.40" stroke="#333" stroke-width="1.2"/>
<text x="526.30" y="803.80" font-size="12.5" text-anchor="middle" fill="#333" stroke="#333" stroke-width="0.22">****</text>
<line x1="520.80" y1="802.30" x2="531.40" y2="802.30" stroke="#333" stroke-width="1.2"/>
<text x="574.35" y="783.70" font-size="11.8" text-anchor="middle" fill="#1e1e1e" stroke="#1e1e1e" stroke-width="0.22">ns</text>
<line x1="563.40" y1="786.40" x2="586.90" y2="786.40" stroke="#333" stroke-width="1.2"/>
<text x="568.80" y="799.00" font-size="11.8" text-anchor="middle" fill="#1e1e1e" stroke="#1e1e1e" stroke-width="0.22">ns</text>
<line x1="563.40" y1="802.50" x2="575.20" y2="802.50" stroke="#333" stroke-width="1.2"/>
<text x="617.85" y="783.70" font-size="11.8" text-anchor="middle" fill="#1e1e1e" stroke="#1e1e1e" stroke-width="0.22">ns</text>
<line x1="605.90" y1="786.40" x2="628.80" y2="786.40" stroke="#333" stroke-width="1.2"/>
<text x="612.05" y="799.00" font-size="11.8" text-anchor="middle" fill="#1e1e1e" stroke="#1e1e1e" stroke-width="0.22">ns</text>
<line x1="605.90" y1="802.50" x2="616.90" y2="802.50" stroke="#333" stroke-width="1.2"/>
</svg>
</body></html>
